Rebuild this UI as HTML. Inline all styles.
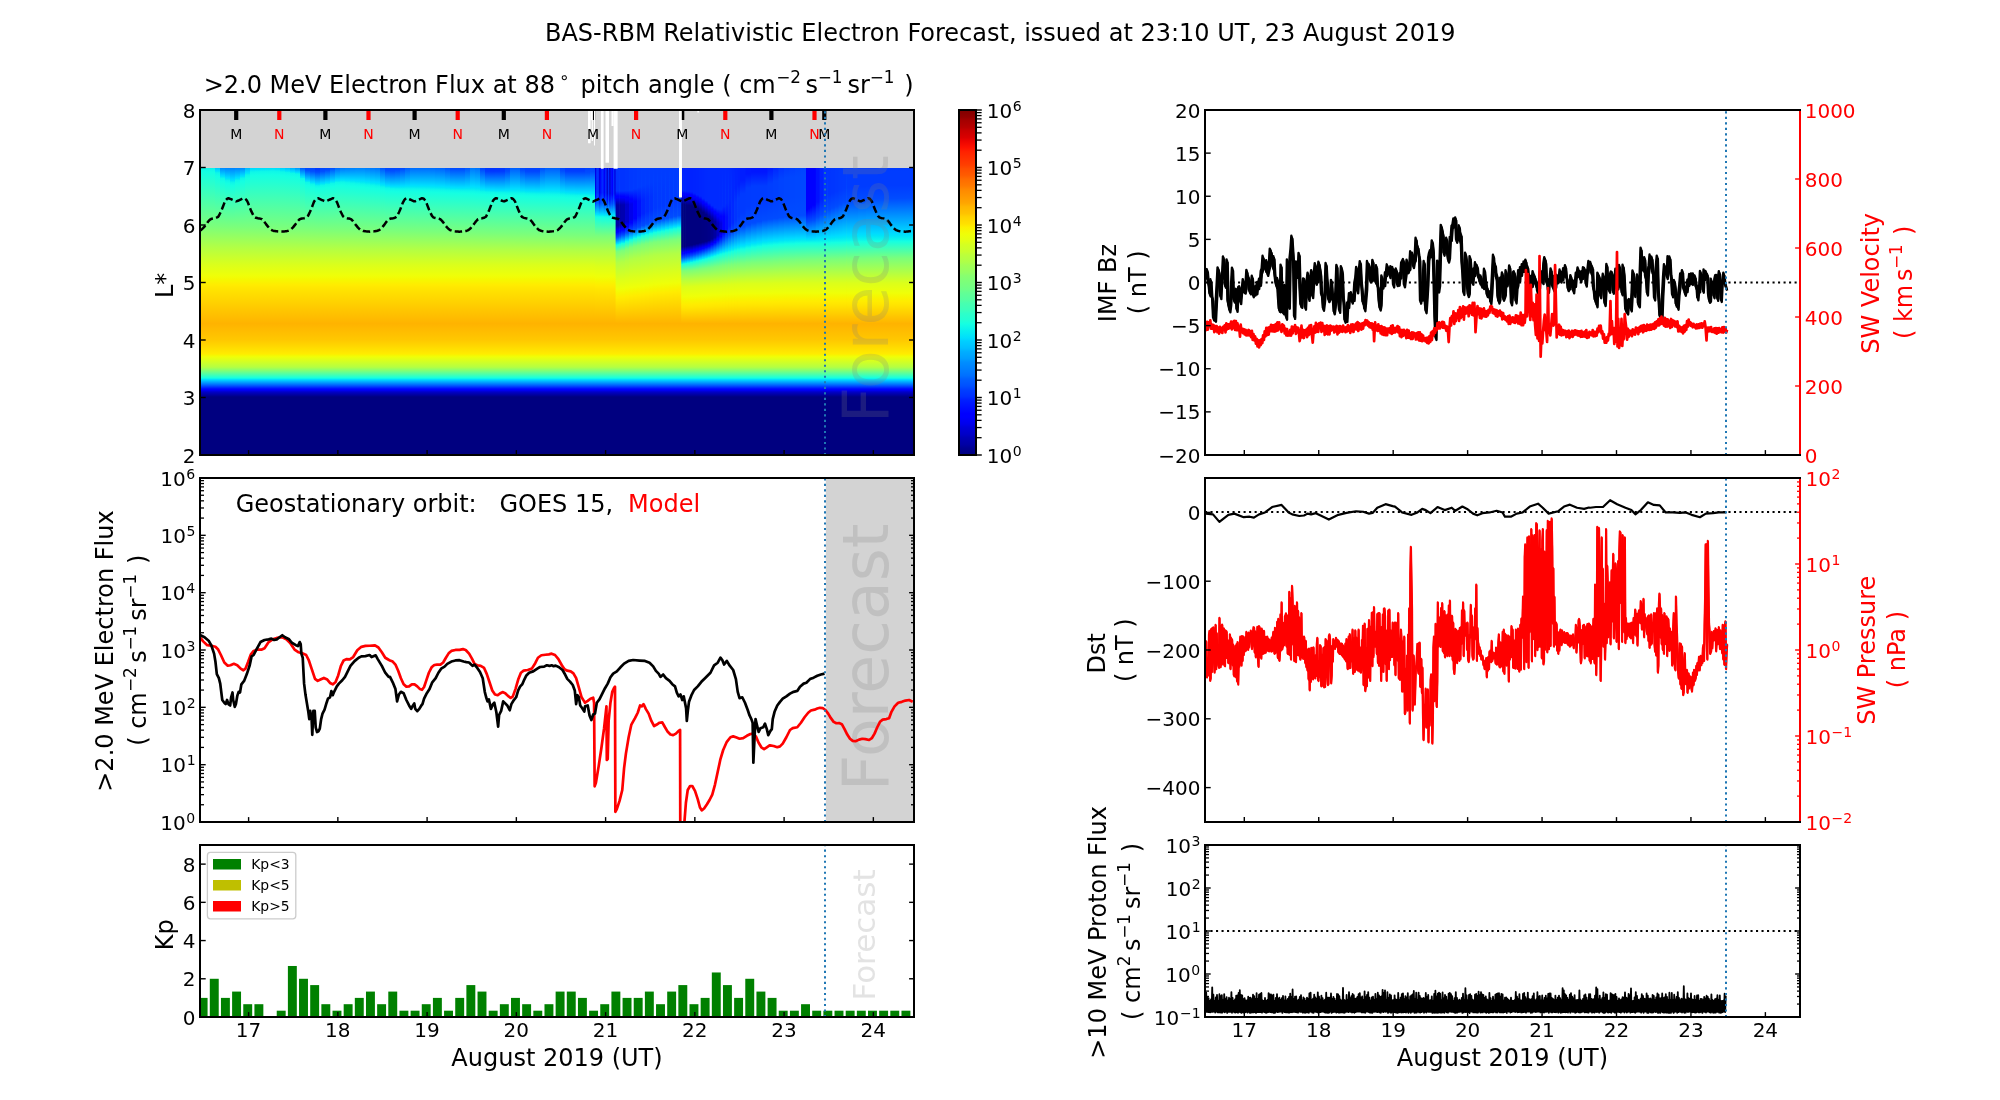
<!DOCTYPE html>
<html><head><meta charset="utf-8"><title>BAS-RBM Relativistic Electron Forecast</title>
<style>html,body{margin:0;padding:0;background:#fff}svg{display:block;will-change:transform}</style></head>
<body>
<svg width="2000" height="1100" viewBox="0 0 2000 1100" font-family="'DejaVu Sans','Liberation Sans',sans-serif" fill="#000">
<rect width="2000" height="1100" fill="#fff"/>
<text x="1000.3" y="41.2" font-size="24" text-anchor="middle">BAS-RBM Relativistic Electron Forecast, issued at 23:10 UT, 23 August 2019</text>
<rect x="200" y="110" width="714" height="345" fill="#d3d3d3"/>
<clipPath id="hc"><rect x="200" y="168" width="714" height="287"/></clipPath>
<g clip-path="url(#hc)">
<defs><linearGradient id="hb" gradientUnits="userSpaceOnUse" x1="0" y1="140" x2="0" y2="455"><stop offset="0.000" stop-color="#0059ff"/><stop offset="0.032" stop-color="#0059ff"/><stop offset="0.033" stop-color="#0033ff"/><stop offset="0.034" stop-color="#0033ff"/><stop offset="0.094" stop-color="#004cff"/><stop offset="0.146" stop-color="#00dbff"/><stop offset="0.149" stop-color="#00e5f7"/><stop offset="0.156" stop-color="#0ef7e9"/><stop offset="0.164" stop-color="#15ffe2"/><stop offset="0.209" stop-color="#3affbd"/><stop offset="0.289" stop-color="#7bff7b"/><stop offset="0.346" stop-color="#b2ff45"/><stop offset="0.397" stop-color="#dbff1b"/><stop offset="0.431" stop-color="#efff08"/><stop offset="0.446" stop-color="#f7f600"/><stop offset="0.460" stop-color="#ffec00"/><stop offset="0.470" stop-color="#ffe600"/><stop offset="0.583" stop-color="#ffb300"/><stop offset="0.635" stop-color="#ffc800"/><stop offset="0.678" stop-color="#ffeb00"/><stop offset="0.679" stop-color="#ffec00"/><stop offset="0.683" stop-color="#f7f600"/><stop offset="0.688" stop-color="#efff08"/><stop offset="0.721" stop-color="#b4ff43"/><stop offset="0.756" stop-color="#15ffe2"/><stop offset="0.759" stop-color="#00e5f7"/><stop offset="0.761" stop-color="#00dbff"/><stop offset="0.778" stop-color="#0064ff"/><stop offset="0.791" stop-color="#0000ff"/><stop offset="0.793" stop-color="#0000ff"/><stop offset="0.800" stop-color="#0000c8"/><stop offset="0.816" stop-color="#000080"/><stop offset="1.000" stop-color="#000080"/></linearGradient><linearGradient id="h0" gradientUnits="userSpaceOnUse" x1="0" y1="140" x2="0" y2="266"><stop offset=".079" stop-color="#004cff"/><stop offset=".201" stop-color="#00dbff"/><stop offset=".209" stop-color="#00e5f7"/><stop offset=".224" stop-color="#0ef7e9"/><stop offset=".252" stop-color="#15ffe2"/><stop offset=".407" stop-color="#3affbd"/><stop offset=".683" stop-color="#7bff7b"/><stop offset=".849" stop-color="#b2ff45"/><stop offset=".992" stop-color="#dbff1b"/><stop offset="1" stop-color="#ddff1a"/></linearGradient><linearGradient id="h1" gradientUnits="userSpaceOnUse" x1="0" y1="140" x2="0" y2="266"><stop offset=".079" stop-color="#004cff"/><stop offset=".203" stop-color="#00dbff"/><stop offset=".212" stop-color="#00e5f7"/><stop offset=".226" stop-color="#0ef7e9"/><stop offset=".255" stop-color="#15ffe2"/><stop offset=".410" stop-color="#3affbd"/><stop offset=".684" stop-color="#7bff7b"/><stop offset=".850" stop-color="#b2ff45"/><stop offset=".992" stop-color="#dbff1b"/><stop offset="1" stop-color="#ddff1a"/></linearGradient><linearGradient id="h2" gradientUnits="userSpaceOnUse" x1="0" y1="140" x2="0" y2="266"><stop offset=".079" stop-color="#004cff"/><stop offset=".205" stop-color="#00dbff"/><stop offset=".214" stop-color="#00e5f7"/><stop offset=".229" stop-color="#0ef7e9"/><stop offset=".258" stop-color="#15ffe2"/><stop offset=".412" stop-color="#3affbd"/><stop offset=".685" stop-color="#7bff7b"/><stop offset=".850" stop-color="#b2ff45"/><stop offset=".992" stop-color="#dbff1b"/><stop offset="1" stop-color="#ddff1a"/></linearGradient><linearGradient id="h3" gradientUnits="userSpaceOnUse" x1="0" y1="140" x2="0" y2="266"><stop offset=".123" stop-color="#004cff"/><stop offset=".239" stop-color="#00dbff"/><stop offset=".248" stop-color="#00e5f7"/><stop offset=".261" stop-color="#0ef7e9"/><stop offset=".288" stop-color="#15ffe2"/><stop offset=".431" stop-color="#3affbd"/><stop offset=".686" stop-color="#7bff7b"/><stop offset=".851" stop-color="#b2ff45"/><stop offset=".992" stop-color="#dbff1b"/><stop offset="1" stop-color="#ddff1a"/></linearGradient><linearGradient id="h4" gradientUnits="userSpaceOnUse" x1="0" y1="140" x2="0" y2="266"><stop offset=".178" stop-color="#004cff"/><stop offset=".283" stop-color="#00dbff"/><stop offset=".291" stop-color="#00e5f7"/><stop offset=".304" stop-color="#0ef7e9"/><stop offset=".328" stop-color="#15ffe2"/><stop offset=".457" stop-color="#3affbd"/><stop offset=".687" stop-color="#7bff7b"/><stop offset=".851" stop-color="#b2ff45"/><stop offset=".992" stop-color="#dbff1b"/><stop offset="1" stop-color="#ddff1a"/></linearGradient><linearGradient id="h5" gradientUnits="userSpaceOnUse" x1="0" y1="140" x2="0" y2="266"><stop offset=".173" stop-color="#004cff"/><stop offset=".299" stop-color="#00dbff"/><stop offset=".308" stop-color="#00e5f7"/><stop offset=".323" stop-color="#0ef7e9"/><stop offset=".346" stop-color="#15ffe2"/><stop offset=".469" stop-color="#3affbd"/><stop offset=".688" stop-color="#7bff7b"/><stop offset=".851" stop-color="#b2ff45"/><stop offset=".992" stop-color="#dbff1b"/><stop offset="1" stop-color="#ddff1a"/></linearGradient><linearGradient id="h6" gradientUnits="userSpaceOnUse" x1="0" y1="140" x2="0" y2="266"><stop offset=".169" stop-color="#004cff"/><stop offset=".312" stop-color="#00dbff"/><stop offset=".322" stop-color="#00e5f7"/><stop offset=".339" stop-color="#0ef7e9"/><stop offset=".361" stop-color="#15ffe2"/><stop offset=".479" stop-color="#3affbd"/><stop offset=".689" stop-color="#7bff7b"/><stop offset=".852" stop-color="#b2ff45"/><stop offset=".992" stop-color="#dbff1b"/><stop offset="1" stop-color="#ddff1a"/></linearGradient><linearGradient id="h7" gradientUnits="userSpaceOnUse" x1="0" y1="140" x2="0" y2="266"><stop offset=".173" stop-color="#004cff"/><stop offset=".298" stop-color="#00dbff"/><stop offset=".307" stop-color="#00e5f7"/><stop offset=".321" stop-color="#0ef7e9"/><stop offset=".344" stop-color="#15ffe2"/><stop offset=".469" stop-color="#3affbd"/><stop offset=".690" stop-color="#7bff7b"/><stop offset=".852" stop-color="#b2ff45"/><stop offset=".992" stop-color="#dbff1b"/><stop offset="1" stop-color="#ddff1a"/></linearGradient><linearGradient id="h8" gradientUnits="userSpaceOnUse" x1="0" y1="140" x2="0" y2="266"><stop offset=".178" stop-color="#004cff"/><stop offset=".283" stop-color="#00dbff"/><stop offset=".291" stop-color="#00e5f7"/><stop offset=".303" stop-color="#0ef7e9"/><stop offset=".328" stop-color="#15ffe2"/><stop offset=".458" stop-color="#3affbd"/><stop offset=".691" stop-color="#7bff7b"/><stop offset=".853" stop-color="#b2ff45"/><stop offset=".992" stop-color="#dbff1b"/><stop offset="1" stop-color="#ddff1a"/></linearGradient><linearGradient id="h9" gradientUnits="userSpaceOnUse" x1="0" y1="140" x2="0" y2="266"><stop offset=".129" stop-color="#004cff"/><stop offset=".254" stop-color="#00dbff"/><stop offset=".263" stop-color="#00e5f7"/><stop offset=".278" stop-color="#0ef7e9"/><stop offset=".304" stop-color="#15ffe2"/><stop offset=".444" stop-color="#3affbd"/><stop offset=".692" stop-color="#7bff7b"/><stop offset=".853" stop-color="#b2ff45"/><stop offset=".992" stop-color="#dbff1b"/><stop offset="1" stop-color="#ddff1a"/></linearGradient><linearGradient id="h10" gradientUnits="userSpaceOnUse" x1="0" y1="140" x2="0" y2="266"><stop offset=".079" stop-color="#004cff"/><stop offset=".226" stop-color="#00dbff"/><stop offset=".236" stop-color="#00e5f7"/><stop offset=".254" stop-color="#0ef7e9"/><stop offset=".281" stop-color="#15ffe2"/><stop offset=".430" stop-color="#3affbd"/><stop offset=".693" stop-color="#7bff7b"/><stop offset=".853" stop-color="#b2ff45"/><stop offset=".992" stop-color="#dbff1b"/><stop offset="1" stop-color="#ddff1a"/></linearGradient><linearGradient id="h11" gradientUnits="userSpaceOnUse" x1="0" y1="140" x2="0" y2="266"><stop offset=".079" stop-color="#004cff"/><stop offset=".224" stop-color="#00dbff"/><stop offset=".235" stop-color="#00e5f7"/><stop offset=".252" stop-color="#0ef7e9"/><stop offset=".280" stop-color="#15ffe2"/><stop offset=".429" stop-color="#3affbd"/><stop offset=".694" stop-color="#7bff7b"/><stop offset=".854" stop-color="#b2ff45"/><stop offset=".992" stop-color="#dbff1b"/><stop offset="1" stop-color="#ddff1a"/></linearGradient><linearGradient id="h12" gradientUnits="userSpaceOnUse" x1="0" y1="140" x2="0" y2="266"><stop offset=".079" stop-color="#004cff"/><stop offset=".223" stop-color="#00dbff"/><stop offset=".233" stop-color="#00e5f7"/><stop offset=".250" stop-color="#0ef7e9"/><stop offset=".278" stop-color="#15ffe2"/><stop offset=".428" stop-color="#3affbd"/><stop offset=".695" stop-color="#7bff7b"/><stop offset=".854" stop-color="#b2ff45"/><stop offset=".992" stop-color="#dbff1b"/><stop offset="1" stop-color="#ddff1a"/></linearGradient><linearGradient id="h13" gradientUnits="userSpaceOnUse" x1="0" y1="140" x2="0" y2="266"><stop offset=".079" stop-color="#004cff"/><stop offset=".222" stop-color="#00dbff"/><stop offset=".232" stop-color="#00e5f7"/><stop offset=".249" stop-color="#0ef7e9"/><stop offset=".277" stop-color="#15ffe2"/><stop offset=".428" stop-color="#3affbd"/><stop offset=".696" stop-color="#7bff7b"/><stop offset=".855" stop-color="#b2ff45"/><stop offset=".992" stop-color="#dbff1b"/><stop offset="1" stop-color="#ddff1a"/></linearGradient><linearGradient id="h14" gradientUnits="userSpaceOnUse" x1="0" y1="140" x2="0" y2="266"><stop offset=".079" stop-color="#004cff"/><stop offset=".220" stop-color="#00dbff"/><stop offset=".230" stop-color="#00e5f7"/><stop offset=".247" stop-color="#0ef7e9"/><stop offset=".275" stop-color="#15ffe2"/><stop offset=".427" stop-color="#3affbd"/><stop offset=".697" stop-color="#7bff7b"/><stop offset=".855" stop-color="#b2ff45"/><stop offset=".992" stop-color="#dbff1b"/><stop offset="1" stop-color="#ddff1a"/></linearGradient><linearGradient id="h15" gradientUnits="userSpaceOnUse" x1="0" y1="140" x2="0" y2="266"><stop offset=".091" stop-color="#004cff"/><stop offset=".223" stop-color="#00dbff"/><stop offset=".233" stop-color="#00e5f7"/><stop offset=".249" stop-color="#0ef7e9"/><stop offset=".277" stop-color="#15ffe2"/><stop offset=".428" stop-color="#3affbd"/><stop offset=".698" stop-color="#7bff7b"/><stop offset=".855" stop-color="#b2ff45"/><stop offset=".992" stop-color="#dbff1b"/><stop offset="1" stop-color="#ddff1a"/></linearGradient><linearGradient id="h16" gradientUnits="userSpaceOnUse" x1="0" y1="140" x2="0" y2="266"><stop offset=".116" stop-color="#004cff"/><stop offset=".232" stop-color="#00dbff"/><stop offset=".240" stop-color="#00e5f7"/><stop offset=".254" stop-color="#0ef7e9"/><stop offset=".282" stop-color="#15ffe2"/><stop offset=".432" stop-color="#3affbd"/><stop offset=".699" stop-color="#7bff7b"/><stop offset=".856" stop-color="#b2ff45"/><stop offset=".992" stop-color="#dbff1b"/><stop offset="1" stop-color="#ddff1a"/></linearGradient><linearGradient id="h17" gradientUnits="userSpaceOnUse" x1="0" y1="140" x2="0" y2="266"><stop offset=".140" stop-color="#004cff"/><stop offset=".240" stop-color="#00dbff"/><stop offset=".247" stop-color="#00e5f7"/><stop offset=".259" stop-color="#0ef7e9"/><stop offset=".287" stop-color="#15ffe2"/><stop offset=".435" stop-color="#3affbd"/><stop offset=".700" stop-color="#7bff7b"/><stop offset=".856" stop-color="#b2ff45"/><stop offset=".992" stop-color="#dbff1b"/><stop offset="1" stop-color="#ddff1a"/></linearGradient><linearGradient id="h18" gradientUnits="userSpaceOnUse" x1="0" y1="140" x2="0" y2="266"><stop offset=".164" stop-color="#004cff"/><stop offset=".248" stop-color="#00dbff"/><stop offset=".254" stop-color="#00e5f7"/><stop offset=".264" stop-color="#0ef7e9"/><stop offset=".291" stop-color="#15ffe2"/><stop offset=".439" stop-color="#3affbd"/><stop offset=".701" stop-color="#7bff7b"/><stop offset=".857" stop-color="#b2ff45"/><stop offset=".992" stop-color="#dbff1b"/><stop offset="1" stop-color="#ddff1a"/></linearGradient><linearGradient id="h19" gradientUnits="userSpaceOnUse" x1="0" y1="140" x2="0" y2="266"><stop offset=".188" stop-color="#004cff"/><stop offset=".256" stop-color="#00dbff"/><stop offset=".261" stop-color="#00e5f7"/><stop offset=".269" stop-color="#0ef7e9"/><stop offset=".296" stop-color="#15ffe2"/><stop offset=".442" stop-color="#3affbd"/><stop offset=".702" stop-color="#7bff7b"/><stop offset=".857" stop-color="#b2ff45"/><stop offset=".992" stop-color="#dbff1b"/><stop offset="1" stop-color="#ddff1a"/></linearGradient><linearGradient id="h20" gradientUnits="userSpaceOnUse" x1="0" y1="140" x2="0" y2="266"><stop offset=".216" stop-color="#004cff"/><stop offset=".291" stop-color="#00dbff"/><stop offset=".297" stop-color="#00e5f7"/><stop offset=".306" stop-color="#0ef7e9"/><stop offset=".330" stop-color="#15ffe2"/><stop offset=".465" stop-color="#3affbd"/><stop offset=".703" stop-color="#7bff7b"/><stop offset=".857" stop-color="#b2ff45"/><stop offset=".992" stop-color="#dbff1b"/><stop offset="1" stop-color="#ddff1a"/></linearGradient><linearGradient id="h21" gradientUnits="userSpaceOnUse" x1="0" y1="140" x2="0" y2="266"><stop offset=".000" stop-color="#0059ff"/><stop offset=".079" stop-color="#0059ff"/><stop offset=".082" stop-color="#0034ff"/><stop offset=".084" stop-color="#0034ff"/><stop offset=".239" stop-color="#004cff"/><stop offset=".322" stop-color="#00dbff"/><stop offset=".327" stop-color="#00e5f7"/><stop offset=".337" stop-color="#0ef7e9"/><stop offset=".360" stop-color="#15ffe2"/><stop offset=".484" stop-color="#3affbd"/><stop offset=".704" stop-color="#7bff7b"/><stop offset=".858" stop-color="#b2ff45"/><stop offset=".992" stop-color="#dbff1b"/><stop offset="1" stop-color="#ddff1a"/></linearGradient><linearGradient id="h22" gradientUnits="userSpaceOnUse" x1="0" y1="140" x2="0" y2="266"><stop offset=".000" stop-color="#004bff"/><stop offset=".079" stop-color="#004bff"/><stop offset=".093" stop-color="#0038ff"/><stop offset=".133" stop-color="#0038ff"/><stop offset=".247" stop-color="#004cff"/><stop offset=".334" stop-color="#00dbff"/><stop offset=".340" stop-color="#00e5f7"/><stop offset=".351" stop-color="#0ef7e9"/><stop offset=".373" stop-color="#15ffe2"/><stop offset=".492" stop-color="#3affbd"/><stop offset=".705" stop-color="#7bff7b"/><stop offset=".858" stop-color="#b2ff45"/><stop offset=".992" stop-color="#dbff1b"/><stop offset="1" stop-color="#ddff1a"/></linearGradient><linearGradient id="h23" gradientUnits="userSpaceOnUse" x1="0" y1="140" x2="0" y2="266"><stop offset=".000" stop-color="#003dff"/><stop offset=".114" stop-color="#003dff"/><stop offset=".225" stop-color="#003bff"/><stop offset=".236" stop-color="#003bff"/><stop offset=".256" stop-color="#004cff"/><stop offset=".347" stop-color="#00dbff"/><stop offset=".353" stop-color="#00e5f7"/><stop offset=".364" stop-color="#0ef7e9"/><stop offset=".385" stop-color="#15ffe2"/><stop offset=".501" stop-color="#3affbd"/><stop offset=".706" stop-color="#7bff7b"/><stop offset=".859" stop-color="#b2ff45"/><stop offset=".992" stop-color="#dbff1b"/><stop offset="1" stop-color="#ddff1a"/></linearGradient><linearGradient id="h24" gradientUnits="userSpaceOnUse" x1="0" y1="140" x2="0" y2="266"><stop offset=".000" stop-color="#0048ff"/><stop offset=".079" stop-color="#0048ff"/><stop offset=".119" stop-color="#0038ff"/><stop offset=".154" stop-color="#0038ff"/><stop offset=".248" stop-color="#004cff"/><stop offset=".341" stop-color="#00dbff"/><stop offset=".348" stop-color="#00e5f7"/><stop offset=".359" stop-color="#0ef7e9"/><stop offset=".381" stop-color="#15ffe2"/><stop offset=".498" stop-color="#3affbd"/><stop offset=".707" stop-color="#7bff7b"/><stop offset=".859" stop-color="#b2ff45"/><stop offset=".992" stop-color="#dbff1b"/><stop offset="1" stop-color="#ddff1a"/></linearGradient><linearGradient id="h25" gradientUnits="userSpaceOnUse" x1="0" y1="140" x2="0" y2="266"><stop offset=".000" stop-color="#0056ff"/><stop offset=".079" stop-color="#0056ff"/><stop offset=".082" stop-color="#0035ff"/><stop offset=".084" stop-color="#0035ff"/><stop offset=".239" stop-color="#004cff"/><stop offset=".334" stop-color="#00dbff"/><stop offset=".341" stop-color="#00e5f7"/><stop offset=".353" stop-color="#0ef7e9"/><stop offset=".375" stop-color="#15ffe2"/><stop offset=".495" stop-color="#3affbd"/><stop offset=".708" stop-color="#7bff7b"/><stop offset=".859" stop-color="#b2ff45"/><stop offset=".992" stop-color="#dbff1b"/><stop offset="1" stop-color="#ddff1a"/></linearGradient><linearGradient id="h26" gradientUnits="userSpaceOnUse" x1="0" y1="140" x2="0" y2="266"><stop offset=".000" stop-color="#006aff"/><stop offset=".079" stop-color="#006aff"/><stop offset=".082" stop-color="#0033ff"/><stop offset=".084" stop-color="#0033ff"/><stop offset=".223" stop-color="#004cff"/><stop offset=".326" stop-color="#00dbff"/><stop offset=".333" stop-color="#00e5f7"/><stop offset=".345" stop-color="#0ef7e9"/><stop offset=".368" stop-color="#15ffe2"/><stop offset=".491" stop-color="#3affbd"/><stop offset=".709" stop-color="#7bff7b"/><stop offset=".860" stop-color="#b2ff45"/><stop offset=".992" stop-color="#dbff1b"/><stop offset="1" stop-color="#ddff1a"/></linearGradient><linearGradient id="h27" gradientUnits="userSpaceOnUse" x1="0" y1="140" x2="0" y2="266"><stop offset=".200" stop-color="#004cff"/><stop offset=".315" stop-color="#00dbff"/><stop offset=".324" stop-color="#00e5f7"/><stop offset=".337" stop-color="#0ef7e9"/><stop offset=".361" stop-color="#15ffe2"/><stop offset=".486" stop-color="#3affbd"/><stop offset=".710" stop-color="#7bff7b"/><stop offset=".860" stop-color="#b2ff45"/><stop offset=".992" stop-color="#dbff1b"/><stop offset="1" stop-color="#ddff1a"/></linearGradient><linearGradient id="h28" gradientUnits="userSpaceOnUse" x1="0" y1="140" x2="0" y2="266"><stop offset=".185" stop-color="#004cff"/><stop offset=".311" stop-color="#00dbff"/><stop offset=".320" stop-color="#00e5f7"/><stop offset=".335" stop-color="#0ef7e9"/><stop offset=".359" stop-color="#15ffe2"/><stop offset=".486" stop-color="#3affbd"/><stop offset=".711" stop-color="#7bff7b"/><stop offset=".861" stop-color="#b2ff45"/><stop offset=".992" stop-color="#dbff1b"/><stop offset="1" stop-color="#ddff1a"/></linearGradient><linearGradient id="h29" gradientUnits="userSpaceOnUse" x1="0" y1="140" x2="0" y2="266"><stop offset=".178" stop-color="#004cff"/><stop offset=".313" stop-color="#00dbff"/><stop offset=".323" stop-color="#00e5f7"/><stop offset=".339" stop-color="#0ef7e9"/><stop offset=".363" stop-color="#15ffe2"/><stop offset=".488" stop-color="#3affbd"/><stop offset=".712" stop-color="#7bff7b"/><stop offset=".861" stop-color="#b2ff45"/><stop offset=".992" stop-color="#dbff1b"/><stop offset="1" stop-color="#ddff1a"/></linearGradient><linearGradient id="h30" gradientUnits="userSpaceOnUse" x1="0" y1="140" x2="0" y2="266"><stop offset=".171" stop-color="#004cff"/><stop offset=".316" stop-color="#00dbff"/><stop offset=".326" stop-color="#00e5f7"/><stop offset=".343" stop-color="#0ef7e9"/><stop offset=".366" stop-color="#15ffe2"/><stop offset=".491" stop-color="#3affbd"/><stop offset=".713" stop-color="#7bff7b"/><stop offset=".861" stop-color="#b2ff45"/><stop offset=".992" stop-color="#dbff1b"/><stop offset="1" stop-color="#ddff1a"/></linearGradient><linearGradient id="h31" gradientUnits="userSpaceOnUse" x1="0" y1="140" x2="0" y2="266"><stop offset=".165" stop-color="#004cff"/><stop offset=".318" stop-color="#00dbff"/><stop offset=".329" stop-color="#00e5f7"/><stop offset=".347" stop-color="#0ef7e9"/><stop offset=".370" stop-color="#15ffe2"/><stop offset=".494" stop-color="#3affbd"/><stop offset=".714" stop-color="#7bff7b"/><stop offset=".862" stop-color="#b2ff45"/><stop offset=".992" stop-color="#dbff1b"/><stop offset="1" stop-color="#ddff1a"/></linearGradient><linearGradient id="h32" gradientUnits="userSpaceOnUse" x1="0" y1="140" x2="0" y2="266"><stop offset=".164" stop-color="#004cff"/><stop offset=".321" stop-color="#00dbff"/><stop offset=".333" stop-color="#00e5f7"/><stop offset=".351" stop-color="#0ef7e9"/><stop offset=".374" stop-color="#15ffe2"/><stop offset=".497" stop-color="#3affbd"/><stop offset=".715" stop-color="#7bff7b"/><stop offset=".862" stop-color="#b2ff45"/><stop offset=".992" stop-color="#dbff1b"/><stop offset="1" stop-color="#ddff1a"/></linearGradient><linearGradient id="h33" gradientUnits="userSpaceOnUse" x1="0" y1="140" x2="0" y2="266"><stop offset=".170" stop-color="#004cff"/><stop offset=".326" stop-color="#00dbff"/><stop offset=".337" stop-color="#00e5f7"/><stop offset=".356" stop-color="#0ef7e9"/><stop offset=".378" stop-color="#15ffe2"/><stop offset=".500" stop-color="#3affbd"/><stop offset=".716" stop-color="#7bff7b"/><stop offset=".863" stop-color="#b2ff45"/><stop offset=".992" stop-color="#dbff1b"/><stop offset="1" stop-color="#ddff1a"/></linearGradient><linearGradient id="h34" gradientUnits="userSpaceOnUse" x1="0" y1="140" x2="0" y2="266"><stop offset=".176" stop-color="#004cff"/><stop offset=".331" stop-color="#00dbff"/><stop offset=".342" stop-color="#00e5f7"/><stop offset=".360" stop-color="#0ef7e9"/><stop offset=".383" stop-color="#15ffe2"/><stop offset=".503" stop-color="#3affbd"/><stop offset=".717" stop-color="#7bff7b"/><stop offset=".863" stop-color="#b2ff45"/><stop offset=".992" stop-color="#dbff1b"/><stop offset="1" stop-color="#ddff1a"/></linearGradient><linearGradient id="h35" gradientUnits="userSpaceOnUse" x1="0" y1="140" x2="0" y2="266"><stop offset=".181" stop-color="#004cff"/><stop offset=".335" stop-color="#00dbff"/><stop offset=".346" stop-color="#00e5f7"/><stop offset=".365" stop-color="#0ef7e9"/><stop offset=".387" stop-color="#15ffe2"/><stop offset=".506" stop-color="#3affbd"/><stop offset=".718" stop-color="#7bff7b"/><stop offset=".863" stop-color="#b2ff45"/><stop offset=".992" stop-color="#dbff1b"/><stop offset="1" stop-color="#ddff1a"/></linearGradient><linearGradient id="h36" gradientUnits="userSpaceOnUse" x1="0" y1="140" x2="0" y2="266"><stop offset=".214" stop-color="#004cff"/><stop offset=".348" stop-color="#00dbff"/><stop offset=".358" stop-color="#00e5f7"/><stop offset=".374" stop-color="#0ef7e9"/><stop offset=".396" stop-color="#15ffe2"/><stop offset=".512" stop-color="#3affbd"/><stop offset=".719" stop-color="#7bff7b"/><stop offset=".864" stop-color="#b2ff45"/><stop offset=".992" stop-color="#dbff1b"/><stop offset="1" stop-color="#ddff1a"/></linearGradient><linearGradient id="h37" gradientUnits="userSpaceOnUse" x1="0" y1="140" x2="0" y2="266"><stop offset=".000" stop-color="#0053ff"/><stop offset=".079" stop-color="#0053ff"/><stop offset=".082" stop-color="#0033ff"/><stop offset=".084" stop-color="#0033ff"/><stop offset=".240" stop-color="#004cff"/><stop offset=".360" stop-color="#00dbff"/><stop offset=".368" stop-color="#00e5f7"/><stop offset=".382" stop-color="#0ef7e9"/><stop offset=".404" stop-color="#15ffe2"/><stop offset=".518" stop-color="#3affbd"/><stop offset=".720" stop-color="#7bff7b"/><stop offset=".864" stop-color="#b2ff45"/><stop offset=".992" stop-color="#dbff1b"/><stop offset="1" stop-color="#ddff1a"/></linearGradient><linearGradient id="h38" gradientUnits="userSpaceOnUse" x1="0" y1="140" x2="0" y2="266"><stop offset=".000" stop-color="#004eff"/><stop offset=".079" stop-color="#004eff"/><stop offset=".082" stop-color="#0033ff"/><stop offset=".084" stop-color="#0033ff"/><stop offset=".245" stop-color="#004cff"/><stop offset=".365" stop-color="#00dbff"/><stop offset=".373" stop-color="#00e5f7"/><stop offset=".387" stop-color="#0ef7e9"/><stop offset=".408" stop-color="#15ffe2"/><stop offset=".521" stop-color="#3affbd"/><stop offset=".721" stop-color="#7bff7b"/><stop offset=".865" stop-color="#b2ff45"/><stop offset=".992" stop-color="#dbff1b"/><stop offset="1" stop-color="#ddff1a"/></linearGradient><linearGradient id="h39" gradientUnits="userSpaceOnUse" x1="0" y1="140" x2="0" y2="266"><stop offset=".000" stop-color="#0054ff"/><stop offset=".079" stop-color="#0054ff"/><stop offset=".082" stop-color="#0033ff"/><stop offset=".084" stop-color="#0033ff"/><stop offset=".239" stop-color="#004cff"/><stop offset=".365" stop-color="#00dbff"/><stop offset=".374" stop-color="#00e5f7"/><stop offset=".389" stop-color="#0ef7e9"/><stop offset=".410" stop-color="#15ffe2"/><stop offset=".522" stop-color="#3affbd"/><stop offset=".722" stop-color="#7bff7b"/><stop offset=".865" stop-color="#b2ff45"/><stop offset=".992" stop-color="#dbff1b"/><stop offset="1" stop-color="#ddff1a"/></linearGradient><linearGradient id="h40" gradientUnits="userSpaceOnUse" x1="0" y1="140" x2="0" y2="266"><stop offset=".000" stop-color="#005fff"/><stop offset=".079" stop-color="#005fff"/><stop offset=".082" stop-color="#0033ff"/><stop offset=".084" stop-color="#0033ff"/><stop offset=".228" stop-color="#004cff"/><stop offset=".363" stop-color="#00dbff"/><stop offset=".373" stop-color="#00e5f7"/><stop offset=".389" stop-color="#0ef7e9"/><stop offset=".410" stop-color="#15ffe2"/><stop offset=".523" stop-color="#3affbd"/><stop offset=".723" stop-color="#7bff7b"/><stop offset=".865" stop-color="#b2ff45"/><stop offset=".992" stop-color="#dbff1b"/><stop offset="1" stop-color="#ddff1a"/></linearGradient><linearGradient id="h41" gradientUnits="userSpaceOnUse" x1="0" y1="140" x2="0" y2="266"><stop offset=".205" stop-color="#004cff"/><stop offset=".360" stop-color="#00dbff"/><stop offset=".371" stop-color="#00e5f7"/><stop offset=".389" stop-color="#0ef7e9"/><stop offset=".410" stop-color="#15ffe2"/><stop offset=".523" stop-color="#3affbd"/><stop offset=".724" stop-color="#7bff7b"/><stop offset=".866" stop-color="#b2ff45"/><stop offset=".992" stop-color="#dbff1b"/><stop offset="1" stop-color="#ddff1a"/></linearGradient><linearGradient id="h42" gradientUnits="userSpaceOnUse" x1="0" y1="140" x2="0" y2="266"><stop offset=".185" stop-color="#004cff"/><stop offset=".356" stop-color="#00dbff"/><stop offset=".369" stop-color="#00e5f7"/><stop offset=".389" stop-color="#0ef7e9"/><stop offset=".410" stop-color="#15ffe2"/><stop offset=".523" stop-color="#3affbd"/><stop offset=".725" stop-color="#7bff7b"/><stop offset=".866" stop-color="#b2ff45"/><stop offset=".992" stop-color="#dbff1b"/><stop offset="1" stop-color="#ddff1a"/></linearGradient><linearGradient id="h43" gradientUnits="userSpaceOnUse" x1="0" y1="140" x2="0" y2="266"><stop offset=".184" stop-color="#004cff"/><stop offset=".357" stop-color="#00dbff"/><stop offset=".370" stop-color="#00e5f7"/><stop offset=".390" stop-color="#0ef7e9"/><stop offset=".411" stop-color="#15ffe2"/><stop offset=".525" stop-color="#3affbd"/><stop offset=".726" stop-color="#7bff7b"/><stop offset=".867" stop-color="#b2ff45"/><stop offset=".992" stop-color="#dbff1b"/><stop offset="1" stop-color="#ddff1a"/></linearGradient><linearGradient id="h44" gradientUnits="userSpaceOnUse" x1="0" y1="140" x2="0" y2="266"><stop offset=".184" stop-color="#004cff"/><stop offset=".358" stop-color="#00dbff"/><stop offset=".370" stop-color="#00e5f7"/><stop offset=".391" stop-color="#0ef7e9"/><stop offset=".412" stop-color="#15ffe2"/><stop offset=".526" stop-color="#3affbd"/><stop offset=".727" stop-color="#7bff7b"/><stop offset=".867" stop-color="#b2ff45"/><stop offset=".992" stop-color="#dbff1b"/><stop offset="1" stop-color="#ddff1a"/></linearGradient><linearGradient id="h45" gradientUnits="userSpaceOnUse" x1="0" y1="140" x2="0" y2="266"><stop offset=".183" stop-color="#004cff"/><stop offset=".359" stop-color="#00dbff"/><stop offset=".371" stop-color="#00e5f7"/><stop offset=".392" stop-color="#0ef7e9"/><stop offset=".413" stop-color="#15ffe2"/><stop offset=".527" stop-color="#3affbd"/><stop offset=".728" stop-color="#7bff7b"/><stop offset=".867" stop-color="#b2ff45"/><stop offset=".992" stop-color="#dbff1b"/><stop offset="1" stop-color="#ddff1a"/></linearGradient><linearGradient id="h46" gradientUnits="userSpaceOnUse" x1="0" y1="140" x2="0" y2="266"><stop offset=".186" stop-color="#004cff"/><stop offset=".360" stop-color="#00dbff"/><stop offset=".373" stop-color="#00e5f7"/><stop offset=".394" stop-color="#0ef7e9"/><stop offset=".415" stop-color="#15ffe2"/><stop offset=".528" stop-color="#3affbd"/><stop offset=".729" stop-color="#7bff7b"/><stop offset=".868" stop-color="#b2ff45"/><stop offset=".992" stop-color="#dbff1b"/><stop offset="1" stop-color="#ddff1a"/></linearGradient><linearGradient id="h47" gradientUnits="userSpaceOnUse" x1="0" y1="140" x2="0" y2="266"><stop offset=".191" stop-color="#004cff"/><stop offset=".363" stop-color="#00dbff"/><stop offset=".375" stop-color="#00e5f7"/><stop offset=".395" stop-color="#0ef7e9"/><stop offset=".416" stop-color="#15ffe2"/><stop offset=".529" stop-color="#3affbd"/><stop offset=".730" stop-color="#7bff7b"/><stop offset=".868" stop-color="#b2ff45"/><stop offset=".992" stop-color="#dbff1b"/><stop offset="1" stop-color="#ddff1a"/></linearGradient><linearGradient id="h48" gradientUnits="userSpaceOnUse" x1="0" y1="140" x2="0" y2="266"><stop offset=".197" stop-color="#004cff"/><stop offset=".365" stop-color="#00dbff"/><stop offset=".377" stop-color="#00e5f7"/><stop offset=".397" stop-color="#0ef7e9"/><stop offset=".418" stop-color="#15ffe2"/><stop offset=".531" stop-color="#3affbd"/><stop offset=".731" stop-color="#7bff7b"/><stop offset=".869" stop-color="#b2ff45"/><stop offset=".992" stop-color="#dbff1b"/><stop offset="1" stop-color="#ddff1a"/></linearGradient><linearGradient id="h49" gradientUnits="userSpaceOnUse" x1="0" y1="140" x2="0" y2="266"><stop offset=".214" stop-color="#004cff"/><stop offset=".369" stop-color="#00dbff"/><stop offset=".381" stop-color="#00e5f7"/><stop offset=".399" stop-color="#0ef7e9"/><stop offset=".420" stop-color="#15ffe2"/><stop offset=".532" stop-color="#3affbd"/><stop offset=".732" stop-color="#7bff7b"/><stop offset=".869" stop-color="#b2ff45"/><stop offset=".992" stop-color="#dbff1b"/><stop offset="1" stop-color="#ddff1a"/></linearGradient><linearGradient id="h50" gradientUnits="userSpaceOnUse" x1="0" y1="140" x2="0" y2="266"><stop offset=".000" stop-color="#005eff"/><stop offset=".079" stop-color="#005eff"/><stop offset=".082" stop-color="#0033ff"/><stop offset=".084" stop-color="#0033ff"/><stop offset=".229" stop-color="#004cff"/><stop offset=".373" stop-color="#00dbff"/><stop offset=".384" stop-color="#00e5f7"/><stop offset=".401" stop-color="#0ef7e9"/><stop offset=".422" stop-color="#15ffe2"/><stop offset=".534" stop-color="#3affbd"/><stop offset=".733" stop-color="#7bff7b"/><stop offset=".869" stop-color="#b2ff45"/><stop offset=".992" stop-color="#dbff1b"/><stop offset="1" stop-color="#ddff1a"/></linearGradient><linearGradient id="h51" gradientUnits="userSpaceOnUse" x1="0" y1="140" x2="0" y2="266"><stop offset=".000" stop-color="#005eff"/><stop offset=".079" stop-color="#005eff"/><stop offset=".082" stop-color="#0033ff"/><stop offset=".084" stop-color="#0033ff"/><stop offset=".229" stop-color="#004cff"/><stop offset=".375" stop-color="#00dbff"/><stop offset=".385" stop-color="#00e5f7"/><stop offset=".402" stop-color="#0ef7e9"/><stop offset=".423" stop-color="#15ffe2"/><stop offset=".535" stop-color="#3affbd"/><stop offset=".734" stop-color="#7bff7b"/><stop offset=".870" stop-color="#b2ff45"/><stop offset=".992" stop-color="#dbff1b"/><stop offset="1" stop-color="#ddff1a"/></linearGradient><linearGradient id="h52" gradientUnits="userSpaceOnUse" x1="0" y1="140" x2="0" y2="266"><stop offset=".000" stop-color="#005eff"/><stop offset=".079" stop-color="#005eff"/><stop offset=".082" stop-color="#0033ff"/><stop offset=".084" stop-color="#0033ff"/><stop offset=".229" stop-color="#004cff"/><stop offset=".376" stop-color="#00dbff"/><stop offset=".386" stop-color="#00e5f7"/><stop offset=".404" stop-color="#0ef7e9"/><stop offset=".424" stop-color="#15ffe2"/><stop offset=".536" stop-color="#3affbd"/><stop offset=".735" stop-color="#7bff7b"/><stop offset=".870" stop-color="#b2ff45"/><stop offset=".992" stop-color="#dbff1b"/><stop offset="1" stop-color="#ddff1a"/></linearGradient><linearGradient id="h53" gradientUnits="userSpaceOnUse" x1="0" y1="140" x2="0" y2="266"><stop offset=".211" stop-color="#004cff"/><stop offset=".374" stop-color="#00dbff"/><stop offset=".385" stop-color="#00e5f7"/><stop offset=".405" stop-color="#0ef7e9"/><stop offset=".425" stop-color="#15ffe2"/><stop offset=".537" stop-color="#3affbd"/><stop offset=".736" stop-color="#7bff7b"/><stop offset=".871" stop-color="#b2ff45"/><stop offset=".992" stop-color="#dbff1b"/><stop offset="1" stop-color="#ddff1a"/></linearGradient><linearGradient id="h54" gradientUnits="userSpaceOnUse" x1="0" y1="140" x2="0" y2="266"><stop offset=".162" stop-color="#004cff"/><stop offset=".366" stop-color="#00dbff"/><stop offset=".381" stop-color="#00e5f7"/><stop offset=".405" stop-color="#0ef7e9"/><stop offset=".426" stop-color="#15ffe2"/><stop offset=".538" stop-color="#3affbd"/><stop offset=".737" stop-color="#7bff7b"/><stop offset=".871" stop-color="#b2ff45"/><stop offset=".992" stop-color="#dbff1b"/><stop offset="1" stop-color="#ddff1a"/></linearGradient><linearGradient id="h55" gradientUnits="userSpaceOnUse" x1="0" y1="140" x2="0" y2="266"><stop offset=".173" stop-color="#004cff"/><stop offset=".370" stop-color="#00dbff"/><stop offset=".384" stop-color="#00e5f7"/><stop offset=".408" stop-color="#0ef7e9"/><stop offset=".429" stop-color="#15ffe2"/><stop offset=".540" stop-color="#3affbd"/><stop offset=".738" stop-color="#7bff7b"/><stop offset=".872" stop-color="#b2ff45"/><stop offset=".992" stop-color="#dbff1b"/><stop offset="1" stop-color="#ddff1a"/></linearGradient><linearGradient id="h56" gradientUnits="userSpaceOnUse" x1="0" y1="140" x2="0" y2="266"><stop offset=".000" stop-color="#0050ff"/><stop offset=".079" stop-color="#0050ff"/><stop offset=".143" stop-color="#0039ff"/><stop offset=".172" stop-color="#0039ff"/><stop offset=".236" stop-color="#004cff"/><stop offset=".383" stop-color="#00dbff"/><stop offset=".394" stop-color="#00e5f7"/><stop offset=".412" stop-color="#0ef7e9"/><stop offset=".432" stop-color="#15ffe2"/><stop offset=".543" stop-color="#3affbd"/><stop offset=".739" stop-color="#7bff7b"/><stop offset=".872" stop-color="#b2ff45"/><stop offset=".992" stop-color="#dbff1b"/><stop offset="1" stop-color="#ddff1a"/></linearGradient><linearGradient id="h57" gradientUnits="userSpaceOnUse" x1="0" y1="140" x2="0" y2="266"><stop offset=".000" stop-color="#0039ff"/><stop offset=".246" stop-color="#0039ff"/><stop offset=".264" stop-color="#004cff"/><stop offset=".390" stop-color="#00dbff"/><stop offset=".399" stop-color="#00e5f7"/><stop offset=".414" stop-color="#0ef7e9"/><stop offset=".434" stop-color="#15ffe2"/><stop offset=".545" stop-color="#3affbd"/><stop offset=".740" stop-color="#7bff7b"/><stop offset=".872" stop-color="#b2ff45"/><stop offset=".992" stop-color="#dbff1b"/><stop offset="1" stop-color="#ddff1a"/></linearGradient><linearGradient id="h58" gradientUnits="userSpaceOnUse" x1="0" y1="140" x2="0" y2="266"><stop offset=".000" stop-color="#0034ff"/><stop offset=".246" stop-color="#0034ff"/><stop offset=".267" stop-color="#004cff"/><stop offset=".392" stop-color="#00dbff"/><stop offset=".401" stop-color="#00e5f7"/><stop offset=".416" stop-color="#0ef7e9"/><stop offset=".436" stop-color="#15ffe2"/><stop offset=".546" stop-color="#3affbd"/><stop offset=".741" stop-color="#7bff7b"/><stop offset=".873" stop-color="#b2ff45"/><stop offset=".992" stop-color="#dbff1b"/><stop offset="1" stop-color="#ddff1a"/></linearGradient><linearGradient id="h59" gradientUnits="userSpaceOnUse" x1="0" y1="140" x2="0" y2="266"><stop offset=".000" stop-color="#0035ff"/><stop offset=".246" stop-color="#0035ff"/><stop offset=".266" stop-color="#004cff"/><stop offset=".394" stop-color="#00dbff"/><stop offset=".403" stop-color="#00e5f7"/><stop offset=".418" stop-color="#0ef7e9"/><stop offset=".438" stop-color="#15ffe2"/><stop offset=".548" stop-color="#3affbd"/><stop offset=".742" stop-color="#7bff7b"/><stop offset=".873" stop-color="#b2ff45"/><stop offset=".992" stop-color="#dbff1b"/><stop offset="1" stop-color="#ddff1a"/></linearGradient><linearGradient id="h60" gradientUnits="userSpaceOnUse" x1="0" y1="140" x2="0" y2="266"><stop offset=".000" stop-color="#0039ff"/><stop offset=".246" stop-color="#0039ff"/><stop offset=".264" stop-color="#004cff"/><stop offset=".395" stop-color="#00dbff"/><stop offset=".404" stop-color="#00e5f7"/><stop offset=".419" stop-color="#0ef7e9"/><stop offset=".440" stop-color="#15ffe2"/><stop offset=".549" stop-color="#3affbd"/><stop offset=".743" stop-color="#7bff7b"/><stop offset=".874" stop-color="#b2ff45"/><stop offset=".992" stop-color="#dbff1b"/><stop offset="1" stop-color="#ddff1a"/></linearGradient><linearGradient id="h61" gradientUnits="userSpaceOnUse" x1="0" y1="140" x2="0" y2="266"><stop offset=".000" stop-color="#0048ff"/><stop offset=".079" stop-color="#0048ff"/><stop offset=".159" stop-color="#0039ff"/><stop offset=".185" stop-color="#0039ff"/><stop offset=".247" stop-color="#004cff"/><stop offset=".393" stop-color="#00dbff"/><stop offset=".403" stop-color="#00e5f7"/><stop offset=".421" stop-color="#0ef7e9"/><stop offset=".441" stop-color="#15ffe2"/><stop offset=".550" stop-color="#3affbd"/><stop offset=".744" stop-color="#7bff7b"/><stop offset=".874" stop-color="#b2ff45"/><stop offset=".992" stop-color="#dbff1b"/><stop offset="1" stop-color="#ddff1a"/></linearGradient><linearGradient id="h62" gradientUnits="userSpaceOnUse" x1="0" y1="140" x2="0" y2="266"><stop offset=".202" stop-color="#004cff"/><stop offset=".386" stop-color="#00dbff"/><stop offset=".399" stop-color="#00e5f7"/><stop offset=".421" stop-color="#0ef7e9"/><stop offset=".441" stop-color="#15ffe2"/><stop offset=".551" stop-color="#3affbd"/><stop offset=".745" stop-color="#7bff7b"/><stop offset=".874" stop-color="#b2ff45"/><stop offset=".992" stop-color="#dbff1b"/><stop offset="1" stop-color="#ddff1a"/></linearGradient><linearGradient id="h63" gradientUnits="userSpaceOnUse" x1="0" y1="140" x2="0" y2="266"><stop offset=".202" stop-color="#004cff"/><stop offset=".386" stop-color="#00dbff"/><stop offset=".399" stop-color="#00e5f7"/><stop offset=".421" stop-color="#0ef7e9"/><stop offset=".441" stop-color="#15ffe2"/><stop offset=".551" stop-color="#3affbd"/><stop offset=".746" stop-color="#7bff7b"/><stop offset=".875" stop-color="#b2ff45"/><stop offset=".992" stop-color="#dbff1b"/><stop offset="1" stop-color="#ddff1a"/></linearGradient><linearGradient id="h64" gradientUnits="userSpaceOnUse" x1="0" y1="140" x2="0" y2="266"><stop offset=".000" stop-color="#0051ff"/><stop offset=".079" stop-color="#0051ff"/><stop offset=".143" stop-color="#003fff"/><stop offset=".172" stop-color="#003fff"/><stop offset=".239" stop-color="#004cff"/><stop offset=".394" stop-color="#00dbff"/><stop offset=".405" stop-color="#00e5f7"/><stop offset=".423" stop-color="#0ef7e9"/><stop offset=".444" stop-color="#15ffe2"/><stop offset=".553" stop-color="#3affbd"/><stop offset=".747" stop-color="#7bff7b"/><stop offset=".875" stop-color="#b2ff45"/><stop offset=".992" stop-color="#dbff1b"/><stop offset="1" stop-color="#ddff1a"/></linearGradient><linearGradient id="h65" gradientUnits="userSpaceOnUse" x1="0" y1="140" x2="0" y2="266"><stop offset=".000" stop-color="#0044ff"/><stop offset=".246" stop-color="#0044ff"/><stop offset=".255" stop-color="#004cff"/><stop offset=".398" stop-color="#00dbff"/><stop offset=".408" stop-color="#00e5f7"/><stop offset=".426" stop-color="#0ef7e9"/><stop offset=".446" stop-color="#15ffe2"/><stop offset=".555" stop-color="#3affbd"/><stop offset=".748" stop-color="#7bff7b"/><stop offset=".876" stop-color="#b2ff45"/><stop offset=".992" stop-color="#dbff1b"/><stop offset="1" stop-color="#ddff1a"/></linearGradient><linearGradient id="h66" gradientUnits="userSpaceOnUse" x1="0" y1="140" x2="0" y2="266"><stop offset=".000" stop-color="#0044ff"/><stop offset=".246" stop-color="#0044ff"/><stop offset=".255" stop-color="#004cff"/><stop offset=".399" stop-color="#00dbff"/><stop offset=".410" stop-color="#00e5f7"/><stop offset=".427" stop-color="#0ef7e9"/><stop offset=".447" stop-color="#15ffe2"/><stop offset=".556" stop-color="#3affbd"/><stop offset=".749" stop-color="#7bff7b"/><stop offset=".876" stop-color="#b2ff45"/><stop offset=".992" stop-color="#dbff1b"/><stop offset="1" stop-color="#ddff1a"/></linearGradient><linearGradient id="h67" gradientUnits="userSpaceOnUse" x1="0" y1="140" x2="0" y2="266"><stop offset=".000" stop-color="#0044ff"/><stop offset=".246" stop-color="#0044ff"/><stop offset=".255" stop-color="#004cff"/><stop offset=".401" stop-color="#00dbff"/><stop offset=".411" stop-color="#00e5f7"/><stop offset=".428" stop-color="#0ef7e9"/><stop offset=".449" stop-color="#15ffe2"/><stop offset=".557" stop-color="#3affbd"/><stop offset=".750" stop-color="#7bff7b"/><stop offset=".876" stop-color="#b2ff45"/><stop offset=".992" stop-color="#dbff1b"/><stop offset="1" stop-color="#ddff1a"/></linearGradient><linearGradient id="h68" gradientUnits="userSpaceOnUse" x1="0" y1="140" x2="0" y2="266"><stop offset=".000" stop-color="#005fff"/><stop offset=".079" stop-color="#005fff"/><stop offset=".082" stop-color="#0039ff"/><stop offset=".088" stop-color="#0039ff"/><stop offset=".220" stop-color="#004cff"/><stop offset=".395" stop-color="#00dbff"/><stop offset=".408" stop-color="#00e5f7"/><stop offset=".429" stop-color="#0ef7e9"/><stop offset=".449" stop-color="#15ffe2"/><stop offset=".558" stop-color="#3affbd"/><stop offset=".751" stop-color="#7bff7b"/><stop offset=".877" stop-color="#b2ff45"/><stop offset=".992" stop-color="#dbff1b"/><stop offset="1" stop-color="#ddff1a"/></linearGradient><linearGradient id="h69" gradientUnits="userSpaceOnUse" x1="0" y1="140" x2="0" y2="266"><stop offset=".200" stop-color="#004cff"/><stop offset=".393" stop-color="#00dbff"/><stop offset=".406" stop-color="#00e5f7"/><stop offset=".429" stop-color="#0ef7e9"/><stop offset=".449" stop-color="#15ffe2"/><stop offset=".559" stop-color="#3affbd"/><stop offset=".752" stop-color="#7bff7b"/><stop offset=".877" stop-color="#b2ff45"/><stop offset=".992" stop-color="#dbff1b"/><stop offset="1" stop-color="#ddff1a"/></linearGradient><linearGradient id="h70" gradientUnits="userSpaceOnUse" x1="0" y1="140" x2="0" y2="266"><stop offset=".200" stop-color="#004cff"/><stop offset=".394" stop-color="#00dbff"/><stop offset=".408" stop-color="#00e5f7"/><stop offset=".431" stop-color="#0ef7e9"/><stop offset=".451" stop-color="#15ffe2"/><stop offset=".560" stop-color="#3affbd"/><stop offset=".753" stop-color="#7bff7b"/><stop offset=".878" stop-color="#b2ff45"/><stop offset=".992" stop-color="#dbff1b"/><stop offset="1" stop-color="#ddff1a"/></linearGradient><linearGradient id="h71" gradientUnits="userSpaceOnUse" x1="0" y1="140" x2="0" y2="266"><stop offset=".200" stop-color="#004cff"/><stop offset=".395" stop-color="#00dbff"/><stop offset=".409" stop-color="#00e5f7"/><stop offset=".432" stop-color="#0ef7e9"/><stop offset=".452" stop-color="#15ffe2"/><stop offset=".561" stop-color="#3affbd"/><stop offset=".754" stop-color="#7bff7b"/><stop offset=".878" stop-color="#b2ff45"/><stop offset=".992" stop-color="#dbff1b"/><stop offset="1" stop-color="#ddff1a"/></linearGradient><linearGradient id="h72" gradientUnits="userSpaceOnUse" x1="0" y1="140" x2="0" y2="266"><stop offset=".000" stop-color="#004bff"/><stop offset=".079" stop-color="#004bff"/><stop offset=".143" stop-color="#0039ff"/><stop offset=".172" stop-color="#0039ff"/><stop offset=".244" stop-color="#004cff"/><stop offset=".405" stop-color="#00dbff"/><stop offset=".416" stop-color="#00e5f7"/><stop offset=".435" stop-color="#0ef7e9"/><stop offset=".455" stop-color="#15ffe2"/><stop offset=".563" stop-color="#3affbd"/><stop offset=".755" stop-color="#7bff7b"/><stop offset=".878" stop-color="#b2ff45"/><stop offset=".992" stop-color="#dbff1b"/><stop offset="1" stop-color="#ddff1a"/></linearGradient><linearGradient id="h73" gradientUnits="userSpaceOnUse" x1="0" y1="140" x2="0" y2="266"><stop offset=".000" stop-color="#003cff"/><stop offset=".246" stop-color="#003cff"/><stop offset=".263" stop-color="#004cff"/><stop offset=".410" stop-color="#00dbff"/><stop offset=".420" stop-color="#00e5f7"/><stop offset=".438" stop-color="#0ef7e9"/><stop offset=".458" stop-color="#15ffe2"/><stop offset=".565" stop-color="#3affbd"/><stop offset=".756" stop-color="#7bff7b"/><stop offset=".879" stop-color="#b2ff45"/><stop offset=".992" stop-color="#dbff1b"/><stop offset="1" stop-color="#ddff1a"/></linearGradient><linearGradient id="h74" gradientUnits="userSpaceOnUse" x1="0" y1="140" x2="0" y2="266"><stop offset=".000" stop-color="#003cff"/><stop offset=".246" stop-color="#003cff"/><stop offset=".264" stop-color="#004cff"/><stop offset=".411" stop-color="#00dbff"/><stop offset=".422" stop-color="#00e5f7"/><stop offset=".440" stop-color="#0ef7e9"/><stop offset=".459" stop-color="#15ffe2"/><stop offset=".567" stop-color="#3affbd"/><stop offset=".757" stop-color="#7bff7b"/><stop offset=".879" stop-color="#b2ff45"/><stop offset=".992" stop-color="#dbff1b"/><stop offset="1" stop-color="#ddff1a"/></linearGradient><linearGradient id="h75" gradientUnits="userSpaceOnUse" x1="0" y1="140" x2="0" y2="266"><stop offset=".000" stop-color="#003cff"/><stop offset=".246" stop-color="#003cff"/><stop offset=".264" stop-color="#004cff"/><stop offset=".413" stop-color="#00dbff"/><stop offset=".424" stop-color="#00e5f7"/><stop offset=".441" stop-color="#0ef7e9"/><stop offset=".461" stop-color="#15ffe2"/><stop offset=".568" stop-color="#3affbd"/><stop offset=".758" stop-color="#7bff7b"/><stop offset=".880" stop-color="#b2ff45"/><stop offset=".992" stop-color="#dbff1b"/><stop offset="1" stop-color="#ddff1a"/></linearGradient><linearGradient id="h76" gradientUnits="userSpaceOnUse" x1="0" y1="140" x2="0" y2="266"><stop offset=".000" stop-color="#003cff"/><stop offset=".246" stop-color="#003cff"/><stop offset=".264" stop-color="#004cff"/><stop offset=".415" stop-color="#00dbff"/><stop offset=".425" stop-color="#00e5f7"/><stop offset=".443" stop-color="#0ef7e9"/><stop offset=".463" stop-color="#15ffe2"/><stop offset=".570" stop-color="#3affbd"/><stop offset=".759" stop-color="#7bff7b"/><stop offset=".880" stop-color="#b2ff45"/><stop offset=".992" stop-color="#dbff1b"/><stop offset="1" stop-color="#ddff1a"/></linearGradient><linearGradient id="h77" gradientUnits="userSpaceOnUse" x1="0" y1="140" x2="0" y2="266"><stop offset=".000" stop-color="#003eff"/><stop offset=".079" stop-color="#003eff"/><stop offset=".185" stop-color="#003aff"/><stop offset=".205" stop-color="#003aff"/><stop offset=".261" stop-color="#004cff"/><stop offset=".415" stop-color="#00dbff"/><stop offset=".426" stop-color="#00e5f7"/><stop offset=".444" stop-color="#0ef7e9"/><stop offset=".464" stop-color="#15ffe2"/><stop offset=".571" stop-color="#3affbd"/><stop offset=".760" stop-color="#7bff7b"/><stop offset=".880" stop-color="#b2ff45"/><stop offset=".992" stop-color="#dbff1b"/><stop offset="1" stop-color="#ddff1a"/></linearGradient><linearGradient id="h78" gradientUnits="userSpaceOnUse" x1="0" y1="140" x2="0" y2="266"><stop offset=".000" stop-color="#0048ff"/><stop offset=".079" stop-color="#0048ff"/><stop offset=".082" stop-color="#0035ff"/><stop offset=".084" stop-color="#0035ff"/><stop offset=".251" stop-color="#004cff"/><stop offset=".414" stop-color="#00dbff"/><stop offset=".425" stop-color="#00e5f7"/><stop offset=".444" stop-color="#0ef7e9"/><stop offset=".464" stop-color="#15ffe2"/><stop offset=".571" stop-color="#3affbd"/><stop offset=".761" stop-color="#7bff7b"/><stop offset=".881" stop-color="#b2ff45"/><stop offset=".992" stop-color="#dbff1b"/><stop offset="1" stop-color="#ddff1a"/></linearGradient><linearGradient id="h79" gradientUnits="userSpaceOnUse" x1="0" y1="140" x2="0" y2="324"><stop offset=".000" stop-color="#0000e0"/><stop offset=".114" stop-color="#0000e0"/><stop offset=".190" stop-color="#0000e9"/><stop offset=".283" stop-color="#0000e9"/><stop offset=".295" stop-color="#0000ff"/><stop offset=".305" stop-color="#0000ff"/><stop offset=".343" stop-color="#003bff"/><stop offset=".403" stop-color="#00dbff"/><stop offset=".407" stop-color="#00e5f7"/><stop offset=".413" stop-color="#0ef7e9"/><stop offset=".420" stop-color="#15ffe2"/><stop offset=".457" stop-color="#3affbd"/><stop offset=".522" stop-color="#7bff7b"/><stop offset=".603" stop-color="#b2ff45"/><stop offset=".685" stop-color="#dbff1b"/><stop offset=".743" stop-color="#efff08"/><stop offset=".768" stop-color="#f7f600"/><stop offset=".793" stop-color="#ffec00"/><stop offset=".810" stop-color="#ffe600"/><stop offset=".998" stop-color="#ffb300"/><stop offset="1" stop-color="#ffb400"/></linearGradient><linearGradient id="h80" gradientUnits="userSpaceOnUse" x1="0" y1="140" x2="0" y2="324"><stop offset=".000" stop-color="#002aff"/><stop offset=".114" stop-color="#002aff"/><stop offset=".190" stop-color="#0032ff"/><stop offset=".284" stop-color="#0032ff"/><stop offset=".343" stop-color="#0066ff"/><stop offset=".400" stop-color="#00dbff"/><stop offset=".405" stop-color="#00e5f7"/><stop offset=".414" stop-color="#0ef7e9"/><stop offset=".420" stop-color="#15ffe2"/><stop offset=".457" stop-color="#3affbd"/><stop offset=".522" stop-color="#7bff7b"/><stop offset=".603" stop-color="#b2ff45"/><stop offset=".685" stop-color="#dbff1b"/><stop offset=".743" stop-color="#efff08"/><stop offset=".768" stop-color="#f7f600"/><stop offset=".793" stop-color="#ffec00"/><stop offset=".810" stop-color="#ffe600"/><stop offset=".998" stop-color="#ffb300"/><stop offset="1" stop-color="#ffb400"/></linearGradient><linearGradient id="h81" gradientUnits="userSpaceOnUse" x1="0" y1="140" x2="0" y2="324"><stop offset=".000" stop-color="#002aff"/><stop offset=".114" stop-color="#002aff"/><stop offset=".190" stop-color="#0032ff"/><stop offset=".284" stop-color="#0032ff"/><stop offset=".343" stop-color="#0066ff"/><stop offset=".401" stop-color="#00dbff"/><stop offset=".406" stop-color="#00e5f7"/><stop offset=".414" stop-color="#0ef7e9"/><stop offset=".421" stop-color="#15ffe2"/><stop offset=".457" stop-color="#3affbd"/><stop offset=".522" stop-color="#7bff7b"/><stop offset=".603" stop-color="#b2ff45"/><stop offset=".685" stop-color="#dbff1b"/><stop offset=".743" stop-color="#efff08"/><stop offset=".768" stop-color="#f7f600"/><stop offset=".793" stop-color="#ffec00"/><stop offset=".810" stop-color="#ffe600"/><stop offset=".998" stop-color="#ffb300"/><stop offset="1" stop-color="#ffb400"/></linearGradient><linearGradient id="h82" gradientUnits="userSpaceOnUse" x1="0" y1="140" x2="0" y2="324"><stop offset=".000" stop-color="#0000e0"/><stop offset=".114" stop-color="#0000e0"/><stop offset=".190" stop-color="#0000e8"/><stop offset=".285" stop-color="#0000e8"/><stop offset=".298" stop-color="#0000ff"/><stop offset=".307" stop-color="#0000ff"/><stop offset=".344" stop-color="#003bff"/><stop offset=".404" stop-color="#00dbff"/><stop offset=".408" stop-color="#00e5f7"/><stop offset=".414" stop-color="#0ef7e9"/><stop offset=".421" stop-color="#15ffe2"/><stop offset=".457" stop-color="#3affbd"/><stop offset=".522" stop-color="#7bff7b"/><stop offset=".603" stop-color="#b2ff45"/><stop offset=".685" stop-color="#dbff1b"/><stop offset=".743" stop-color="#efff08"/><stop offset=".768" stop-color="#f7f600"/><stop offset=".793" stop-color="#ffec00"/><stop offset=".810" stop-color="#ffe600"/><stop offset=".998" stop-color="#ffb300"/><stop offset="1" stop-color="#ffb400"/></linearGradient><linearGradient id="h83" gradientUnits="userSpaceOnUse" x1="0" y1="140" x2="0" y2="324"><stop offset=".000" stop-color="#0000ff"/><stop offset=".287" stop-color="#0000ff"/><stop offset=".344" stop-color="#004cff"/><stop offset=".403" stop-color="#00dbff"/><stop offset=".408" stop-color="#00e5f7"/><stop offset=".415" stop-color="#0ef7e9"/><stop offset=".421" stop-color="#15ffe2"/><stop offset=".457" stop-color="#3affbd"/><stop offset=".522" stop-color="#7bff7b"/><stop offset=".603" stop-color="#b2ff45"/><stop offset=".685" stop-color="#dbff1b"/><stop offset=".743" stop-color="#efff08"/><stop offset=".768" stop-color="#f7f600"/><stop offset=".793" stop-color="#ffec00"/><stop offset=".810" stop-color="#ffe600"/><stop offset=".998" stop-color="#ffb300"/><stop offset="1" stop-color="#ffb400"/></linearGradient><linearGradient id="h84" gradientUnits="userSpaceOnUse" x1="0" y1="140" x2="0" y2="324"><stop offset=".000" stop-color="#002aff"/><stop offset=".114" stop-color="#002aff"/><stop offset=".190" stop-color="#0030ff"/><stop offset=".286" stop-color="#0030ff"/><stop offset=".344" stop-color="#0066ff"/><stop offset=".402" stop-color="#00dbff"/><stop offset=".407" stop-color="#00e5f7"/><stop offset=".415" stop-color="#0ef7e9"/><stop offset=".422" stop-color="#15ffe2"/><stop offset=".458" stop-color="#3affbd"/><stop offset=".522" stop-color="#7bff7b"/><stop offset=".603" stop-color="#b2ff45"/><stop offset=".685" stop-color="#dbff1b"/><stop offset=".743" stop-color="#efff08"/><stop offset=".768" stop-color="#f7f600"/><stop offset=".793" stop-color="#ffec00"/><stop offset=".810" stop-color="#ffe600"/><stop offset=".998" stop-color="#ffb300"/><stop offset="1" stop-color="#ffb400"/></linearGradient><linearGradient id="h85" gradientUnits="userSpaceOnUse" x1="0" y1="140" x2="0" y2="324"><stop offset=".000" stop-color="#0011ff"/><stop offset=".114" stop-color="#0011ff"/><stop offset=".190" stop-color="#0016ff"/><stop offset=".287" stop-color="#0016ff"/><stop offset=".345" stop-color="#0059ff"/><stop offset=".403" stop-color="#00dbff"/><stop offset=".408" stop-color="#00e5f7"/><stop offset=".415" stop-color="#0ef7e9"/><stop offset=".422" stop-color="#15ffe2"/><stop offset=".458" stop-color="#3affbd"/><stop offset=".522" stop-color="#7bff7b"/><stop offset=".603" stop-color="#b2ff45"/><stop offset=".685" stop-color="#dbff1b"/><stop offset=".743" stop-color="#efff08"/><stop offset=".768" stop-color="#f7f600"/><stop offset=".793" stop-color="#ffec00"/><stop offset=".810" stop-color="#ffe600"/><stop offset=".998" stop-color="#ffb300"/><stop offset="1" stop-color="#ffb400"/></linearGradient><linearGradient id="h86" gradientUnits="userSpaceOnUse" x1="0" y1="140" x2="0" y2="324"><stop offset=".000" stop-color="#0000f3"/><stop offset=".114" stop-color="#0000f3"/><stop offset=".190" stop-color="#0000f9"/><stop offset=".288" stop-color="#0000f9"/><stop offset=".291" stop-color="#0000ff"/><stop offset=".301" stop-color="#0000ff"/><stop offset=".345" stop-color="#0044ff"/><stop offset=".405" stop-color="#00dbff"/><stop offset=".409" stop-color="#00e5f7"/><stop offset=".416" stop-color="#0ef7e9"/><stop offset=".422" stop-color="#15ffe2"/><stop offset=".458" stop-color="#3affbd"/><stop offset=".522" stop-color="#7bff7b"/><stop offset=".603" stop-color="#b2ff45"/><stop offset=".685" stop-color="#dbff1b"/><stop offset=".743" stop-color="#efff08"/><stop offset=".768" stop-color="#f7f600"/><stop offset=".793" stop-color="#ffec00"/><stop offset=".810" stop-color="#ffe600"/><stop offset=".998" stop-color="#ffb300"/><stop offset="1" stop-color="#ffb400"/></linearGradient><linearGradient id="h87" gradientUnits="userSpaceOnUse" x1="0" y1="140" x2="0" y2="324"><stop offset=".000" stop-color="#002aff"/><stop offset=".114" stop-color="#002aff"/><stop offset=".190" stop-color="#002eff"/><stop offset=".288" stop-color="#002eff"/><stop offset=".345" stop-color="#0066ff"/><stop offset=".403" stop-color="#00dbff"/><stop offset=".408" stop-color="#00e5f7"/><stop offset=".416" stop-color="#0ef7e9"/><stop offset=".423" stop-color="#15ffe2"/><stop offset=".458" stop-color="#3affbd"/><stop offset=".522" stop-color="#7bff7b"/><stop offset=".603" stop-color="#b2ff45"/><stop offset=".685" stop-color="#dbff1b"/><stop offset=".743" stop-color="#efff08"/><stop offset=".768" stop-color="#f7f600"/><stop offset=".793" stop-color="#ffec00"/><stop offset=".810" stop-color="#ffe600"/><stop offset=".998" stop-color="#ffb300"/><stop offset="1" stop-color="#ffb400"/></linearGradient><linearGradient id="h88" gradientUnits="userSpaceOnUse" x1="0" y1="140" x2="0" y2="324"><stop offset=".000" stop-color="#0000c3"/><stop offset=".114" stop-color="#0000c3"/><stop offset=".190" stop-color="#0000c7"/><stop offset=".289" stop-color="#0000c7"/><stop offset=".314" stop-color="#0000ff"/><stop offset=".322" stop-color="#0000ff"/><stop offset=".346" stop-color="#002fff"/><stop offset=".407" stop-color="#00dbff"/><stop offset=".410" stop-color="#00e5f7"/><stop offset=".416" stop-color="#0ef7e9"/><stop offset=".423" stop-color="#15ffe2"/><stop offset=".458" stop-color="#3affbd"/><stop offset=".522" stop-color="#7bff7b"/><stop offset=".603" stop-color="#b2ff45"/><stop offset=".685" stop-color="#dbff1b"/><stop offset=".743" stop-color="#efff08"/><stop offset=".768" stop-color="#f7f600"/><stop offset=".793" stop-color="#ffec00"/><stop offset=".810" stop-color="#ffe600"/><stop offset=".998" stop-color="#ffb300"/><stop offset="1" stop-color="#ffb400"/></linearGradient><linearGradient id="h89" gradientUnits="userSpaceOnUse" x1="0" y1="140" x2="0" y2="324"><stop offset=".000" stop-color="#002aff"/><stop offset=".114" stop-color="#002aff"/><stop offset=".190" stop-color="#002dff"/><stop offset=".290" stop-color="#002dff"/><stop offset=".346" stop-color="#0066ff"/><stop offset=".403" stop-color="#00dbff"/><stop offset=".408" stop-color="#00e5f7"/><stop offset=".417" stop-color="#0ef7e9"/><stop offset=".423" stop-color="#15ffe2"/><stop offset=".459" stop-color="#3affbd"/><stop offset=".522" stop-color="#7bff7b"/><stop offset=".603" stop-color="#b2ff45"/><stop offset=".685" stop-color="#dbff1b"/><stop offset=".743" stop-color="#efff08"/><stop offset=".768" stop-color="#f7f600"/><stop offset=".793" stop-color="#ffec00"/><stop offset=".810" stop-color="#ffe600"/><stop offset=".998" stop-color="#ffb300"/><stop offset="1" stop-color="#ffb400"/></linearGradient><linearGradient id="h90" gradientUnits="userSpaceOnUse" x1="0" y1="140" x2="0" y2="324"><stop offset=".000" stop-color="#0000c3"/><stop offset=".114" stop-color="#0000c3"/><stop offset=".190" stop-color="#0000c6"/><stop offset=".290" stop-color="#0000c6"/><stop offset=".315" stop-color="#0000ff"/><stop offset=".323" stop-color="#0000ff"/><stop offset=".346" stop-color="#002fff"/><stop offset=".407" stop-color="#00dbff"/><stop offset=".411" stop-color="#00e5f7"/><stop offset=".417" stop-color="#0ef7e9"/><stop offset=".423" stop-color="#15ffe2"/><stop offset=".459" stop-color="#3affbd"/><stop offset=".522" stop-color="#7bff7b"/><stop offset=".603" stop-color="#b2ff45"/><stop offset=".685" stop-color="#dbff1b"/><stop offset=".743" stop-color="#efff08"/><stop offset=".768" stop-color="#f7f600"/><stop offset=".793" stop-color="#ffec00"/><stop offset=".810" stop-color="#ffe600"/><stop offset=".998" stop-color="#ffb300"/><stop offset="1" stop-color="#ffb400"/></linearGradient><linearGradient id="h91" gradientUnits="userSpaceOnUse" x1="0" y1="140" x2="0" y2="324"><stop offset=".000" stop-color="#0011ff"/><stop offset=".114" stop-color="#0011ff"/><stop offset=".190" stop-color="#0013ff"/><stop offset=".291" stop-color="#0013ff"/><stop offset=".347" stop-color="#0059ff"/><stop offset=".405" stop-color="#00dbff"/><stop offset=".410" stop-color="#00e5f7"/><stop offset=".417" stop-color="#0ef7e9"/><stop offset=".424" stop-color="#15ffe2"/><stop offset=".459" stop-color="#3affbd"/><stop offset=".522" stop-color="#7bff7b"/><stop offset=".603" stop-color="#b2ff45"/><stop offset=".685" stop-color="#dbff1b"/><stop offset=".743" stop-color="#efff08"/><stop offset=".768" stop-color="#f7f600"/><stop offset=".793" stop-color="#ffec00"/><stop offset=".810" stop-color="#ffe600"/><stop offset=".998" stop-color="#ffb300"/><stop offset="1" stop-color="#ffb400"/></linearGradient><linearGradient id="h92" gradientUnits="userSpaceOnUse" x1="0" y1="140" x2="0" y2="324"><stop offset=".000" stop-color="#0000ff"/><stop offset=".297" stop-color="#0000ff"/><stop offset=".347" stop-color="#004cff"/><stop offset=".406" stop-color="#00dbff"/><stop offset=".411" stop-color="#00e5f7"/><stop offset=".418" stop-color="#0ef7e9"/><stop offset=".424" stop-color="#15ffe2"/><stop offset=".459" stop-color="#3affbd"/><stop offset=".522" stop-color="#7bff7b"/><stop offset=".603" stop-color="#b2ff45"/><stop offset=".685" stop-color="#dbff1b"/><stop offset=".743" stop-color="#efff08"/><stop offset=".768" stop-color="#f7f600"/><stop offset=".793" stop-color="#ffec00"/><stop offset=".810" stop-color="#ffe600"/><stop offset=".998" stop-color="#ffb300"/><stop offset="1" stop-color="#ffb400"/></linearGradient><linearGradient id="h93" gradientUnits="userSpaceOnUse" x1="0" y1="140" x2="0" y2="324"><stop offset=".000" stop-color="#002aff"/><stop offset=".114" stop-color="#002aff"/><stop offset=".190" stop-color="#002bff"/><stop offset=".292" stop-color="#002bff"/><stop offset=".347" stop-color="#0066ff"/><stop offset=".405" stop-color="#00dbff"/><stop offset=".410" stop-color="#00e5f7"/><stop offset=".418" stop-color="#0ef7e9"/><stop offset=".424" stop-color="#15ffe2"/><stop offset=".459" stop-color="#3affbd"/><stop offset=".522" stop-color="#7bff7b"/><stop offset=".603" stop-color="#b2ff45"/><stop offset=".685" stop-color="#dbff1b"/><stop offset=".743" stop-color="#efff08"/><stop offset=".768" stop-color="#f7f600"/><stop offset=".793" stop-color="#ffec00"/><stop offset=".810" stop-color="#ffe600"/><stop offset=".998" stop-color="#ffb300"/><stop offset="1" stop-color="#ffb400"/></linearGradient><linearGradient id="h94" gradientUnits="userSpaceOnUse" x1="0" y1="140" x2="0" y2="324"><stop offset=".000" stop-color="#0000e0"/><stop offset=".293" stop-color="#0000e0"/><stop offset=".308" stop-color="#0000ff"/><stop offset=".316" stop-color="#0000ff"/><stop offset=".348" stop-color="#003bff"/><stop offset=".408" stop-color="#00dbff"/><stop offset=".412" stop-color="#00e5f7"/><stop offset=".418" stop-color="#0ef7e9"/><stop offset=".425" stop-color="#15ffe2"/><stop offset=".460" stop-color="#3affbd"/><stop offset=".522" stop-color="#7bff7b"/><stop offset=".603" stop-color="#b2ff45"/><stop offset=".685" stop-color="#dbff1b"/><stop offset=".743" stop-color="#efff08"/><stop offset=".768" stop-color="#f7f600"/><stop offset=".793" stop-color="#ffec00"/><stop offset=".810" stop-color="#ffe600"/><stop offset=".998" stop-color="#ffb300"/><stop offset="1" stop-color="#ffb400"/></linearGradient><linearGradient id="h95" gradientUnits="userSpaceOnUse" x1="0" y1="140" x2="0" y2="324"><stop offset=".000" stop-color="#0033ff"/><stop offset=".277" stop-color="#0033ff"/><stop offset=".304" stop-color="#0000ff"/><stop offset=".312" stop-color="#0000ff"/><stop offset=".353" stop-color="#0000a4"/><stop offset=".466" stop-color="#0000a4"/><stop offset=".496" stop-color="#0000ff"/><stop offset=".502" stop-color="#0000ff"/><stop offset=".531" stop-color="#004cff"/><stop offset=".563" stop-color="#00dbff"/><stop offset=".565" stop-color="#00e5f7"/><stop offset=".569" stop-color="#0ef7e9"/><stop offset=".572" stop-color="#15ffe2"/><stop offset=".585" stop-color="#3affbd"/><stop offset=".608" stop-color="#7bff7b"/><stop offset=".668" stop-color="#b2ff45"/><stop offset=".755" stop-color="#dbff1b"/><stop offset=".810" stop-color="#efff08"/><stop offset=".834" stop-color="#f7f600"/><stop offset=".857" stop-color="#ffec00"/><stop offset=".873" stop-color="#ffe600"/><stop offset=".998" stop-color="#ffb300"/><stop offset="1" stop-color="#ffb400"/></linearGradient><linearGradient id="h96" gradientUnits="userSpaceOnUse" x1="0" y1="140" x2="0" y2="324"><stop offset=".000" stop-color="#0033ff"/><stop offset=".277" stop-color="#0033ff"/><stop offset=".304" stop-color="#0000ff"/><stop offset=".312" stop-color="#0000ff"/><stop offset=".353" stop-color="#0000a7"/><stop offset=".463" stop-color="#0000a7"/><stop offset=".492" stop-color="#0000ff"/><stop offset=".498" stop-color="#0000ff"/><stop offset=".527" stop-color="#004cff"/><stop offset=".560" stop-color="#00dbff"/><stop offset=".563" stop-color="#00e5f7"/><stop offset=".567" stop-color="#0ef7e9"/><stop offset=".569" stop-color="#15ffe2"/><stop offset=".582" stop-color="#3affbd"/><stop offset=".606" stop-color="#7bff7b"/><stop offset=".666" stop-color="#b2ff45"/><stop offset=".754" stop-color="#dbff1b"/><stop offset=".810" stop-color="#efff08"/><stop offset=".833" stop-color="#f7f600"/><stop offset=".857" stop-color="#ffec00"/><stop offset=".872" stop-color="#ffe600"/><stop offset=".998" stop-color="#ffb300"/><stop offset="1" stop-color="#ffb400"/></linearGradient><linearGradient id="h97" gradientUnits="userSpaceOnUse" x1="0" y1="140" x2="0" y2="324"><stop offset=".000" stop-color="#0033ff"/><stop offset=".277" stop-color="#0033ff"/><stop offset=".305" stop-color="#0000ff"/><stop offset=".313" stop-color="#0000ff"/><stop offset=".353" stop-color="#0000aa"/><stop offset=".461" stop-color="#0000aa"/><stop offset=".488" stop-color="#0000ff"/><stop offset=".494" stop-color="#0000ff"/><stop offset=".523" stop-color="#004cff"/><stop offset=".557" stop-color="#00dbff"/><stop offset=".560" stop-color="#00e5f7"/><stop offset=".564" stop-color="#0ef7e9"/><stop offset=".567" stop-color="#15ffe2"/><stop offset=".580" stop-color="#3affbd"/><stop offset=".604" stop-color="#7bff7b"/><stop offset=".665" stop-color="#b2ff45"/><stop offset=".754" stop-color="#dbff1b"/><stop offset=".809" stop-color="#efff08"/><stop offset=".833" stop-color="#f7f600"/><stop offset=".856" stop-color="#ffec00"/><stop offset=".872" stop-color="#ffe600"/><stop offset=".998" stop-color="#ffb300"/><stop offset="1" stop-color="#ffb400"/></linearGradient><linearGradient id="h98" gradientUnits="userSpaceOnUse" x1="0" y1="140" x2="0" y2="324"><stop offset=".000" stop-color="#0033ff"/><stop offset=".277" stop-color="#0033ff"/><stop offset=".306" stop-color="#0000ff"/><stop offset=".314" stop-color="#0000ff"/><stop offset=".353" stop-color="#0000b0"/><stop offset=".457" stop-color="#0000b0"/><stop offset=".482" stop-color="#0000ff"/><stop offset=".488" stop-color="#0000ff"/><stop offset=".516" stop-color="#004cff"/><stop offset=".553" stop-color="#00dbff"/><stop offset=".555" stop-color="#00e5f7"/><stop offset=".560" stop-color="#0ef7e9"/><stop offset=".562" stop-color="#15ffe2"/><stop offset=".576" stop-color="#3affbd"/><stop offset=".601" stop-color="#7bff7b"/><stop offset=".663" stop-color="#b2ff45"/><stop offset=".753" stop-color="#dbff1b"/><stop offset=".808" stop-color="#efff08"/><stop offset=".832" stop-color="#f7f600"/><stop offset=".855" stop-color="#ffec00"/><stop offset=".871" stop-color="#ffe600"/><stop offset=".998" stop-color="#ffb300"/><stop offset="1" stop-color="#ffb400"/></linearGradient><linearGradient id="h99" gradientUnits="userSpaceOnUse" x1="0" y1="140" x2="0" y2="324"><stop offset=".000" stop-color="#0035ff"/><stop offset=".275" stop-color="#0035ff"/><stop offset=".311" stop-color="#0000ff"/><stop offset=".321" stop-color="#0000ff"/><stop offset=".351" stop-color="#0000ce"/><stop offset=".444" stop-color="#0000ce"/><stop offset=".463" stop-color="#0000ff"/><stop offset=".470" stop-color="#0000ff"/><stop offset=".504" stop-color="#004cff"/><stop offset=".543" stop-color="#00dbff"/><stop offset=".545" stop-color="#00e5f7"/><stop offset=".550" stop-color="#0ef7e9"/><stop offset=".553" stop-color="#15ffe2"/><stop offset=".567" stop-color="#3affbd"/><stop offset=".592" stop-color="#7bff7b"/><stop offset=".656" stop-color="#b2ff45"/><stop offset=".749" stop-color="#dbff1b"/><stop offset=".804" stop-color="#efff08"/><stop offset=".828" stop-color="#f7f600"/><stop offset=".852" stop-color="#ffec00"/><stop offset=".868" stop-color="#ffe600"/><stop offset=".998" stop-color="#ffb300"/><stop offset="1" stop-color="#ffb400"/></linearGradient><linearGradient id="h100" gradientUnits="userSpaceOnUse" x1="0" y1="140" x2="0" y2="324"><stop offset=".000" stop-color="#0038ff"/><stop offset=".272" stop-color="#0038ff"/><stop offset=".321" stop-color="#0000ff"/><stop offset=".334" stop-color="#0000ff"/><stop offset=".348" stop-color="#0000ec"/><stop offset=".432" stop-color="#0000ec"/><stop offset=".441" stop-color="#0000ff"/><stop offset=".450" stop-color="#0000ff"/><stop offset=".492" stop-color="#004cff"/><stop offset=".533" stop-color="#00dbff"/><stop offset=".536" stop-color="#00e5f7"/><stop offset=".540" stop-color="#0ef7e9"/><stop offset=".543" stop-color="#15ffe2"/><stop offset=".558" stop-color="#3affbd"/><stop offset=".584" stop-color="#7bff7b"/><stop offset=".648" stop-color="#b2ff45"/><stop offset=".745" stop-color="#dbff1b"/><stop offset=".801" stop-color="#efff08"/><stop offset=".825" stop-color="#f7f600"/><stop offset=".849" stop-color="#ffec00"/><stop offset=".864" stop-color="#ffe600"/><stop offset=".998" stop-color="#ffb300"/><stop offset="1" stop-color="#ffb400"/></linearGradient><linearGradient id="h101" gradientUnits="userSpaceOnUse" x1="0" y1="140" x2="0" y2="324"><stop offset=".000" stop-color="#0039ff"/><stop offset=".265" stop-color="#0039ff"/><stop offset=".333" stop-color="#0000ff"/><stop offset=".426" stop-color="#0000ff"/><stop offset=".483" stop-color="#004cff"/><stop offset=".524" stop-color="#00dbff"/><stop offset=".527" stop-color="#00e5f7"/><stop offset=".532" stop-color="#0ef7e9"/><stop offset=".535" stop-color="#15ffe2"/><stop offset=".550" stop-color="#3affbd"/><stop offset=".577" stop-color="#7bff7b"/><stop offset=".644" stop-color="#b2ff45"/><stop offset=".743" stop-color="#dbff1b"/><stop offset=".799" stop-color="#efff08"/><stop offset=".822" stop-color="#f7f600"/><stop offset=".846" stop-color="#ffec00"/><stop offset=".862" stop-color="#ffe600"/><stop offset=".998" stop-color="#ffb300"/><stop offset="1" stop-color="#ffb400"/></linearGradient><linearGradient id="h102" gradientUnits="userSpaceOnUse" x1="0" y1="140" x2="0" y2="324"><stop offset=".000" stop-color="#003bff"/><stop offset=".256" stop-color="#003bff"/><stop offset=".332" stop-color="#0011ff"/><stop offset=".410" stop-color="#0011ff"/><stop offset=".474" stop-color="#004cff"/><stop offset=".516" stop-color="#00dbff"/><stop offset=".520" stop-color="#00e5f7"/><stop offset=".525" stop-color="#0ef7e9"/><stop offset=".528" stop-color="#15ffe2"/><stop offset=".544" stop-color="#3affbd"/><stop offset=".572" stop-color="#7bff7b"/><stop offset=".641" stop-color="#b2ff45"/><stop offset=".741" stop-color="#dbff1b"/><stop offset=".796" stop-color="#efff08"/><stop offset=".820" stop-color="#f7f600"/><stop offset=".844" stop-color="#ffec00"/><stop offset=".860" stop-color="#ffe600"/><stop offset=".998" stop-color="#ffb300"/><stop offset="1" stop-color="#ffb400"/></linearGradient><linearGradient id="h103" gradientUnits="userSpaceOnUse" x1="0" y1="140" x2="0" y2="324"><stop offset=".000" stop-color="#003cff"/><stop offset=".248" stop-color="#003cff"/><stop offset=".324" stop-color="#0024ff"/><stop offset=".399" stop-color="#0024ff"/><stop offset=".465" stop-color="#004cff"/><stop offset=".509" stop-color="#00dbff"/><stop offset=".512" stop-color="#00e5f7"/><stop offset=".517" stop-color="#0ef7e9"/><stop offset=".521" stop-color="#15ffe2"/><stop offset=".537" stop-color="#3affbd"/><stop offset=".567" stop-color="#7bff7b"/><stop offset=".637" stop-color="#b2ff45"/><stop offset=".738" stop-color="#dbff1b"/><stop offset=".794" stop-color="#efff08"/><stop offset=".818" stop-color="#f7f600"/><stop offset=".842" stop-color="#ffec00"/><stop offset=".858" stop-color="#ffe600"/><stop offset=".998" stop-color="#ffb300"/><stop offset="1" stop-color="#ffb400"/></linearGradient><linearGradient id="h104" gradientUnits="userSpaceOnUse" x1="0" y1="140" x2="0" y2="324"><stop offset=".000" stop-color="#003cff"/><stop offset=".239" stop-color="#003cff"/><stop offset=".315" stop-color="#002bff"/><stop offset=".389" stop-color="#002bff"/><stop offset=".457" stop-color="#004cff"/><stop offset=".503" stop-color="#00dbff"/><stop offset=".506" stop-color="#00e5f7"/><stop offset=".512" stop-color="#0ef7e9"/><stop offset=".515" stop-color="#15ffe2"/><stop offset=".532" stop-color="#3affbd"/><stop offset=".563" stop-color="#7bff7b"/><stop offset=".633" stop-color="#b2ff45"/><stop offset=".735" stop-color="#dbff1b"/><stop offset=".791" stop-color="#efff08"/><stop offset=".815" stop-color="#f7f600"/><stop offset=".839" stop-color="#ffec00"/><stop offset=".855" stop-color="#ffe600"/><stop offset=".998" stop-color="#ffb300"/><stop offset="1" stop-color="#ffb400"/></linearGradient><linearGradient id="h105" gradientUnits="userSpaceOnUse" x1="0" y1="140" x2="0" y2="324"><stop offset=".000" stop-color="#003cff"/><stop offset=".231" stop-color="#003cff"/><stop offset=".307" stop-color="#0031ff"/><stop offset=".379" stop-color="#0031ff"/><stop offset=".448" stop-color="#004cff"/><stop offset=".497" stop-color="#00dbff"/><stop offset=".500" stop-color="#00e5f7"/><stop offset=".506" stop-color="#0ef7e9"/><stop offset=".509" stop-color="#15ffe2"/><stop offset=".527" stop-color="#3affbd"/><stop offset=".558" stop-color="#7bff7b"/><stop offset=".629" stop-color="#b2ff45"/><stop offset=".732" stop-color="#dbff1b"/><stop offset=".788" stop-color="#efff08"/><stop offset=".812" stop-color="#f7f600"/><stop offset=".836" stop-color="#ffec00"/><stop offset=".852" stop-color="#ffe600"/><stop offset=".998" stop-color="#ffb300"/><stop offset="1" stop-color="#ffb400"/></linearGradient><linearGradient id="h106" gradientUnits="userSpaceOnUse" x1="0" y1="140" x2="0" y2="324"><stop offset=".000" stop-color="#003cff"/><stop offset=".223" stop-color="#003cff"/><stop offset=".299" stop-color="#0038ff"/><stop offset=".369" stop-color="#0038ff"/><stop offset=".440" stop-color="#004cff"/><stop offset=".490" stop-color="#00dbff"/><stop offset=".494" stop-color="#00e5f7"/><stop offset=".500" stop-color="#0ef7e9"/><stop offset=".503" stop-color="#15ffe2"/><stop offset=".522" stop-color="#3affbd"/><stop offset=".554" stop-color="#7bff7b"/><stop offset=".625" stop-color="#b2ff45"/><stop offset=".728" stop-color="#dbff1b"/><stop offset=".785" stop-color="#efff08"/><stop offset=".809" stop-color="#f7f600"/><stop offset=".833" stop-color="#ffec00"/><stop offset=".849" stop-color="#ffe600"/><stop offset=".998" stop-color="#ffb300"/><stop offset="1" stop-color="#ffb400"/></linearGradient><linearGradient id="h107" gradientUnits="userSpaceOnUse" x1="0" y1="140" x2="0" y2="324"><stop offset=".000" stop-color="#003cff"/><stop offset=".214" stop-color="#003cff"/><stop offset=".290" stop-color="#0039ff"/><stop offset=".363" stop-color="#0039ff"/><stop offset=".435" stop-color="#004cff"/><stop offset=".486" stop-color="#00dbff"/><stop offset=".490" stop-color="#00e5f7"/><stop offset=".496" stop-color="#0ef7e9"/><stop offset=".499" stop-color="#15ffe2"/><stop offset=".518" stop-color="#3affbd"/><stop offset=".552" stop-color="#7bff7b"/><stop offset=".623" stop-color="#b2ff45"/><stop offset=".727" stop-color="#dbff1b"/><stop offset=".783" stop-color="#efff08"/><stop offset=".807" stop-color="#f7f600"/><stop offset=".831" stop-color="#ffec00"/><stop offset=".847" stop-color="#ffe600"/><stop offset=".998" stop-color="#ffb300"/><stop offset="1" stop-color="#ffb400"/></linearGradient><linearGradient id="h108" gradientUnits="userSpaceOnUse" x1="0" y1="140" x2="0" y2="324"><stop offset=".000" stop-color="#003cff"/><stop offset=".206" stop-color="#003cff"/><stop offset=".282" stop-color="#0039ff"/><stop offset=".356" stop-color="#0039ff"/><stop offset=".430" stop-color="#004cff"/><stop offset=".482" stop-color="#00dbff"/><stop offset=".485" stop-color="#00e5f7"/><stop offset=".492" stop-color="#0ef7e9"/><stop offset=".495" stop-color="#15ffe2"/><stop offset=".515" stop-color="#3affbd"/><stop offset=".549" stop-color="#7bff7b"/><stop offset=".622" stop-color="#b2ff45"/><stop offset=".725" stop-color="#dbff1b"/><stop offset=".781" stop-color="#efff08"/><stop offset=".806" stop-color="#f7f600"/><stop offset=".830" stop-color="#ffec00"/><stop offset=".846" stop-color="#ffe600"/><stop offset=".998" stop-color="#ffb300"/><stop offset="1" stop-color="#ffb400"/></linearGradient><linearGradient id="h109" gradientUnits="userSpaceOnUse" x1="0" y1="140" x2="0" y2="324"><stop offset=".000" stop-color="#003cff"/><stop offset=".198" stop-color="#003cff"/><stop offset=".274" stop-color="#003aff"/><stop offset=".349" stop-color="#003aff"/><stop offset=".425" stop-color="#004cff"/><stop offset=".477" stop-color="#00dbff"/><stop offset=".481" stop-color="#00e5f7"/><stop offset=".487" stop-color="#0ef7e9"/><stop offset=".491" stop-color="#15ffe2"/><stop offset=".511" stop-color="#3affbd"/><stop offset=".547" stop-color="#7bff7b"/><stop offset=".620" stop-color="#b2ff45"/><stop offset=".723" stop-color="#dbff1b"/><stop offset=".780" stop-color="#efff08"/><stop offset=".804" stop-color="#f7f600"/><stop offset=".828" stop-color="#ffec00"/><stop offset=".844" stop-color="#ffe600"/><stop offset=".998" stop-color="#ffb300"/><stop offset="1" stop-color="#ffb400"/></linearGradient><linearGradient id="h110" gradientUnits="userSpaceOnUse" x1="0" y1="140" x2="0" y2="324"><stop offset=".000" stop-color="#003cff"/><stop offset=".189" stop-color="#003cff"/><stop offset=".265" stop-color="#003aff"/><stop offset=".343" stop-color="#003aff"/><stop offset=".420" stop-color="#004cff"/><stop offset=".473" stop-color="#00dbff"/><stop offset=".477" stop-color="#00e5f7"/><stop offset=".483" stop-color="#0ef7e9"/><stop offset=".487" stop-color="#15ffe2"/><stop offset=".508" stop-color="#3affbd"/><stop offset=".544" stop-color="#7bff7b"/><stop offset=".618" stop-color="#b2ff45"/><stop offset=".722" stop-color="#dbff1b"/><stop offset=".778" stop-color="#efff08"/><stop offset=".802" stop-color="#f7f600"/><stop offset=".827" stop-color="#ffec00"/><stop offset=".843" stop-color="#ffe600"/><stop offset=".998" stop-color="#ffb300"/><stop offset="1" stop-color="#ffb400"/></linearGradient><linearGradient id="h111" gradientUnits="userSpaceOnUse" x1="0" y1="140" x2="0" y2="324"><stop offset=".000" stop-color="#003cff"/><stop offset=".181" stop-color="#003cff"/><stop offset=".257" stop-color="#003bff"/><stop offset=".336" stop-color="#003bff"/><stop offset=".415" stop-color="#004cff"/><stop offset=".469" stop-color="#00dbff"/><stop offset=".473" stop-color="#00e5f7"/><stop offset=".479" stop-color="#0ef7e9"/><stop offset=".483" stop-color="#15ffe2"/><stop offset=".504" stop-color="#3affbd"/><stop offset=".542" stop-color="#7bff7b"/><stop offset=".617" stop-color="#b2ff45"/><stop offset=".720" stop-color="#dbff1b"/><stop offset=".777" stop-color="#efff08"/><stop offset=".801" stop-color="#f7f600"/><stop offset=".825" stop-color="#ffec00"/><stop offset=".841" stop-color="#ffe600"/><stop offset=".998" stop-color="#ffb300"/><stop offset="1" stop-color="#ffb400"/></linearGradient><linearGradient id="h112" gradientUnits="userSpaceOnUse" x1="0" y1="140" x2="0" y2="324"><stop offset=".000" stop-color="#003cff"/><stop offset=".173" stop-color="#003cff"/><stop offset=".249" stop-color="#003bff"/><stop offset=".329" stop-color="#003bff"/><stop offset=".410" stop-color="#004cff"/><stop offset=".465" stop-color="#00dbff"/><stop offset=".468" stop-color="#00e5f7"/><stop offset=".475" stop-color="#0ef7e9"/><stop offset=".479" stop-color="#15ffe2"/><stop offset=".501" stop-color="#3affbd"/><stop offset=".539" stop-color="#7bff7b"/><stop offset=".615" stop-color="#b2ff45"/><stop offset=".718" stop-color="#dbff1b"/><stop offset=".775" stop-color="#efff08"/><stop offset=".799" stop-color="#f7f600"/><stop offset=".824" stop-color="#ffec00"/><stop offset=".840" stop-color="#ffe600"/><stop offset=".998" stop-color="#ffb300"/><stop offset="1" stop-color="#ffb400"/></linearGradient><linearGradient id="h113" gradientUnits="userSpaceOnUse" x1="0" y1="140" x2="0" y2="324"><stop offset=".000" stop-color="#0022ff"/><stop offset=".273" stop-color="#0022ff"/><stop offset=".289" stop-color="#0000ff"/><stop offset=".296" stop-color="#0000ff"/><stop offset=".349" stop-color="#000080"/><stop offset=".581" stop-color="#000080"/><stop offset=".613" stop-color="#0000ff"/><stop offset=".618" stop-color="#0000ff"/><stop offset=".640" stop-color="#004cff"/><stop offset=".668" stop-color="#00dbff"/><stop offset=".670" stop-color="#00e5f7"/><stop offset=".673" stop-color="#0ef7e9"/><stop offset=".675" stop-color="#15ffe2"/><stop offset=".688" stop-color="#3affbd"/><stop offset=".711" stop-color="#7bff7b"/><stop offset=".755" stop-color="#b2ff45"/><stop offset=".799" stop-color="#dbff1b"/><stop offset=".852" stop-color="#efff08"/><stop offset=".874" stop-color="#f7f600"/><stop offset=".897" stop-color="#ffec00"/><stop offset=".912" stop-color="#ffe600"/><stop offset=".998" stop-color="#ffb300"/><stop offset="1" stop-color="#ffb400"/></linearGradient><linearGradient id="h114" gradientUnits="userSpaceOnUse" x1="0" y1="140" x2="0" y2="324"><stop offset=".000" stop-color="#0022ff"/><stop offset=".275" stop-color="#0022ff"/><stop offset=".291" stop-color="#0000ff"/><stop offset=".298" stop-color="#0000ff"/><stop offset=".351" stop-color="#000080"/><stop offset=".579" stop-color="#000080"/><stop offset=".611" stop-color="#0000ff"/><stop offset=".616" stop-color="#0000ff"/><stop offset=".638" stop-color="#004cff"/><stop offset=".666" stop-color="#00dbff"/><stop offset=".668" stop-color="#00e5f7"/><stop offset=".671" stop-color="#0ef7e9"/><stop offset=".673" stop-color="#15ffe2"/><stop offset=".687" stop-color="#3affbd"/><stop offset=".710" stop-color="#7bff7b"/><stop offset=".755" stop-color="#b2ff45"/><stop offset=".798" stop-color="#dbff1b"/><stop offset=".851" stop-color="#efff08"/><stop offset=".874" stop-color="#f7f600"/><stop offset=".897" stop-color="#ffec00"/><stop offset=".912" stop-color="#ffe600"/><stop offset=".998" stop-color="#ffb300"/><stop offset="1" stop-color="#ffb400"/></linearGradient><linearGradient id="h115" gradientUnits="userSpaceOnUse" x1="0" y1="140" x2="0" y2="324"><stop offset=".000" stop-color="#0022ff"/><stop offset=".277" stop-color="#0022ff"/><stop offset=".293" stop-color="#0000ff"/><stop offset=".300" stop-color="#0000ff"/><stop offset=".353" stop-color="#000080"/><stop offset=".577" stop-color="#000080"/><stop offset=".609" stop-color="#0000ff"/><stop offset=".613" stop-color="#0000ff"/><stop offset=".635" stop-color="#004cff"/><stop offset=".664" stop-color="#00dbff"/><stop offset=".666" stop-color="#00e5f7"/><stop offset=".669" stop-color="#0ef7e9"/><stop offset=".672" stop-color="#15ffe2"/><stop offset=".685" stop-color="#3affbd"/><stop offset=".710" stop-color="#7bff7b"/><stop offset=".754" stop-color="#b2ff45"/><stop offset=".798" stop-color="#dbff1b"/><stop offset=".851" stop-color="#efff08"/><stop offset=".874" stop-color="#f7f600"/><stop offset=".896" stop-color="#ffec00"/><stop offset=".911" stop-color="#ffe600"/><stop offset=".998" stop-color="#ffb300"/><stop offset="1" stop-color="#ffb400"/></linearGradient><linearGradient id="h116" gradientUnits="userSpaceOnUse" x1="0" y1="140" x2="0" y2="324"><stop offset=".000" stop-color="#0022ff"/><stop offset=".279" stop-color="#0022ff"/><stop offset=".295" stop-color="#0000ff"/><stop offset=".302" stop-color="#0000ff"/><stop offset=".355" stop-color="#000080"/><stop offset=".574" stop-color="#000080"/><stop offset=".606" stop-color="#0000ff"/><stop offset=".610" stop-color="#0000ff"/><stop offset=".632" stop-color="#004cff"/><stop offset=".661" stop-color="#00dbff"/><stop offset=".663" stop-color="#00e5f7"/><stop offset=".667" stop-color="#0ef7e9"/><stop offset=".669" stop-color="#15ffe2"/><stop offset=".683" stop-color="#3affbd"/><stop offset=".708" stop-color="#7bff7b"/><stop offset=".754" stop-color="#b2ff45"/><stop offset=".797" stop-color="#dbff1b"/><stop offset=".850" stop-color="#efff08"/><stop offset=".873" stop-color="#f7f600"/><stop offset=".896" stop-color="#ffec00"/><stop offset=".911" stop-color="#ffe600"/><stop offset=".998" stop-color="#ffb300"/><stop offset="1" stop-color="#ffb400"/></linearGradient><linearGradient id="h117" gradientUnits="userSpaceOnUse" x1="0" y1="140" x2="0" y2="324"><stop offset=".000" stop-color="#0022ff"/><stop offset=".282" stop-color="#0022ff"/><stop offset=".298" stop-color="#0000ff"/><stop offset=".305" stop-color="#0000ff"/><stop offset=".358" stop-color="#000080"/><stop offset=".571" stop-color="#000080"/><stop offset=".603" stop-color="#0000ff"/><stop offset=".607" stop-color="#0000ff"/><stop offset=".628" stop-color="#004cff"/><stop offset=".658" stop-color="#00dbff"/><stop offset=".660" stop-color="#00e5f7"/><stop offset=".664" stop-color="#0ef7e9"/><stop offset=".666" stop-color="#15ffe2"/><stop offset=".681" stop-color="#3affbd"/><stop offset=".707" stop-color="#7bff7b"/><stop offset=".753" stop-color="#b2ff45"/><stop offset=".796" stop-color="#dbff1b"/><stop offset=".849" stop-color="#efff08"/><stop offset=".872" stop-color="#f7f600"/><stop offset=".895" stop-color="#ffec00"/><stop offset=".910" stop-color="#ffe600"/><stop offset=".998" stop-color="#ffb300"/><stop offset="1" stop-color="#ffb400"/></linearGradient><linearGradient id="h118" gradientUnits="userSpaceOnUse" x1="0" y1="140" x2="0" y2="324"><stop offset=".000" stop-color="#0023ff"/><stop offset=".289" stop-color="#0023ff"/><stop offset=".305" stop-color="#0000ff"/><stop offset=".313" stop-color="#0000ff"/><stop offset=".365" stop-color="#000080"/><stop offset=".567" stop-color="#000080"/><stop offset=".598" stop-color="#0000ff"/><stop offset=".603" stop-color="#0000ff"/><stop offset=".624" stop-color="#004cff"/><stop offset=".654" stop-color="#00dbff"/><stop offset=".656" stop-color="#00e5f7"/><stop offset=".660" stop-color="#0ef7e9"/><stop offset=".663" stop-color="#15ffe2"/><stop offset=".678" stop-color="#3affbd"/><stop offset=".705" stop-color="#7bff7b"/><stop offset=".752" stop-color="#b2ff45"/><stop offset=".795" stop-color="#dbff1b"/><stop offset=".849" stop-color="#efff08"/><stop offset=".871" stop-color="#f7f600"/><stop offset=".894" stop-color="#ffec00"/><stop offset=".909" stop-color="#ffe600"/><stop offset=".998" stop-color="#ffb300"/><stop offset="1" stop-color="#ffb400"/></linearGradient><linearGradient id="h119" gradientUnits="userSpaceOnUse" x1="0" y1="140" x2="0" y2="324"><stop offset=".000" stop-color="#0024ff"/><stop offset=".297" stop-color="#0024ff"/><stop offset=".314" stop-color="#0000ff"/><stop offset=".321" stop-color="#0000ff"/><stop offset=".373" stop-color="#000080"/><stop offset=".563" stop-color="#000080"/><stop offset=".594" stop-color="#0000ff"/><stop offset=".598" stop-color="#0000ff"/><stop offset=".619" stop-color="#004cff"/><stop offset=".650" stop-color="#00dbff"/><stop offset=".652" stop-color="#00e5f7"/><stop offset=".656" stop-color="#0ef7e9"/><stop offset=".659" stop-color="#15ffe2"/><stop offset=".675" stop-color="#3affbd"/><stop offset=".703" stop-color="#7bff7b"/><stop offset=".751" stop-color="#b2ff45"/><stop offset=".794" stop-color="#dbff1b"/><stop offset=".848" stop-color="#efff08"/><stop offset=".870" stop-color="#f7f600"/><stop offset=".893" stop-color="#ffec00"/><stop offset=".908" stop-color="#ffe600"/><stop offset=".998" stop-color="#ffb300"/><stop offset="1" stop-color="#ffb400"/></linearGradient><linearGradient id="h120" gradientUnits="userSpaceOnUse" x1="0" y1="140" x2="0" y2="324"><stop offset=".000" stop-color="#0026ff"/><stop offset=".305" stop-color="#0026ff"/><stop offset=".323" stop-color="#0000ff"/><stop offset=".330" stop-color="#0000ff"/><stop offset=".381" stop-color="#000080"/><stop offset=".559" stop-color="#000080"/><stop offset=".589" stop-color="#0000ff"/><stop offset=".593" stop-color="#0000ff"/><stop offset=".614" stop-color="#004cff"/><stop offset=".646" stop-color="#00dbff"/><stop offset=".648" stop-color="#00e5f7"/><stop offset=".652" stop-color="#0ef7e9"/><stop offset=".655" stop-color="#15ffe2"/><stop offset=".671" stop-color="#3affbd"/><stop offset=".701" stop-color="#7bff7b"/><stop offset=".750" stop-color="#b2ff45"/><stop offset=".793" stop-color="#dbff1b"/><stop offset=".847" stop-color="#efff08"/><stop offset=".869" stop-color="#f7f600"/><stop offset=".892" stop-color="#ffec00"/><stop offset=".908" stop-color="#ffe600"/><stop offset=".998" stop-color="#ffb300"/><stop offset="1" stop-color="#ffb400"/></linearGradient><linearGradient id="h121" gradientUnits="userSpaceOnUse" x1="0" y1="140" x2="0" y2="324"><stop offset=".000" stop-color="#0027ff"/><stop offset=".317" stop-color="#0027ff"/><stop offset=".336" stop-color="#0000ff"/><stop offset=".343" stop-color="#0000ff"/><stop offset=".393" stop-color="#000082"/><stop offset=".555" stop-color="#000082"/><stop offset=".584" stop-color="#0000ff"/><stop offset=".588" stop-color="#0000ff"/><stop offset=".608" stop-color="#004cff"/><stop offset=".641" stop-color="#00dbff"/><stop offset=".644" stop-color="#00e5f7"/><stop offset=".648" stop-color="#0ef7e9"/><stop offset=".651" stop-color="#15ffe2"/><stop offset=".668" stop-color="#3affbd"/><stop offset=".699" stop-color="#7bff7b"/><stop offset=".749" stop-color="#b2ff45"/><stop offset=".792" stop-color="#dbff1b"/><stop offset=".846" stop-color="#efff08"/><stop offset=".869" stop-color="#f7f600"/><stop offset=".891" stop-color="#ffec00"/><stop offset=".907" stop-color="#ffe600"/><stop offset=".998" stop-color="#ffb300"/><stop offset="1" stop-color="#ffb400"/></linearGradient><linearGradient id="h122" gradientUnits="userSpaceOnUse" x1="0" y1="140" x2="0" y2="324"><stop offset=".000" stop-color="#0029ff"/><stop offset=".329" stop-color="#0029ff"/><stop offset=".348" stop-color="#0000ff"/><stop offset=".355" stop-color="#0000ff"/><stop offset=".405" stop-color="#000084"/><stop offset=".551" stop-color="#000084"/><stop offset=".579" stop-color="#0000ff"/><stop offset=".582" stop-color="#0000ff"/><stop offset=".602" stop-color="#004cff"/><stop offset=".637" stop-color="#00dbff"/><stop offset=".640" stop-color="#00e5f7"/><stop offset=".644" stop-color="#0ef7e9"/><stop offset=".647" stop-color="#15ffe2"/><stop offset=".665" stop-color="#3affbd"/><stop offset=".697" stop-color="#7bff7b"/><stop offset=".748" stop-color="#b2ff45"/><stop offset=".791" stop-color="#dbff1b"/><stop offset=".845" stop-color="#efff08"/><stop offset=".868" stop-color="#f7f600"/><stop offset=".890" stop-color="#ffec00"/><stop offset=".906" stop-color="#ffe600"/><stop offset=".998" stop-color="#ffb300"/><stop offset="1" stop-color="#ffb400"/></linearGradient><linearGradient id="h123" gradientUnits="userSpaceOnUse" x1="0" y1="140" x2="0" y2="324"><stop offset=".000" stop-color="#002aff"/><stop offset=".342" stop-color="#002aff"/><stop offset=".362" stop-color="#0000ff"/><stop offset=".369" stop-color="#0000ff"/><stop offset=".418" stop-color="#000088"/><stop offset=".546" stop-color="#000088"/><stop offset=".572" stop-color="#0000ff"/><stop offset=".576" stop-color="#0000ff"/><stop offset=".595" stop-color="#004cff"/><stop offset=".632" stop-color="#00dbff"/><stop offset=".635" stop-color="#00e5f7"/><stop offset=".639" stop-color="#0ef7e9"/><stop offset=".643" stop-color="#15ffe2"/><stop offset=".661" stop-color="#3affbd"/><stop offset=".695" stop-color="#7bff7b"/><stop offset=".747" stop-color="#b2ff45"/><stop offset=".790" stop-color="#dbff1b"/><stop offset=".844" stop-color="#efff08"/><stop offset=".867" stop-color="#f7f600"/><stop offset=".889" stop-color="#ffec00"/><stop offset=".905" stop-color="#ffe600"/><stop offset=".998" stop-color="#ffb300"/><stop offset="1" stop-color="#ffb400"/></linearGradient><linearGradient id="h124" gradientUnits="userSpaceOnUse" x1="0" y1="140" x2="0" y2="324"><stop offset=".000" stop-color="#002aff"/><stop offset=".355" stop-color="#002aff"/><stop offset=".376" stop-color="#0000ff"/><stop offset=".384" stop-color="#0000ff"/><stop offset=".431" stop-color="#000091"/><stop offset=".538" stop-color="#000091"/><stop offset=".563" stop-color="#0000ff"/><stop offset=".567" stop-color="#0000ff"/><stop offset=".587" stop-color="#004cff"/><stop offset=".626" stop-color="#00dbff"/><stop offset=".629" stop-color="#00e5f7"/><stop offset=".634" stop-color="#0ef7e9"/><stop offset=".638" stop-color="#15ffe2"/><stop offset=".657" stop-color="#3affbd"/><stop offset=".692" stop-color="#7bff7b"/><stop offset=".745" stop-color="#b2ff45"/><stop offset=".789" stop-color="#dbff1b"/><stop offset=".842" stop-color="#efff08"/><stop offset=".865" stop-color="#f7f600"/><stop offset=".888" stop-color="#ffec00"/><stop offset=".904" stop-color="#ffe600"/><stop offset=".998" stop-color="#ffb300"/><stop offset="1" stop-color="#ffb400"/></linearGradient><linearGradient id="h125" gradientUnits="userSpaceOnUse" x1="0" y1="140" x2="0" y2="324"><stop offset=".000" stop-color="#002aff"/><stop offset=".367" stop-color="#002aff"/><stop offset=".390" stop-color="#0000ff"/><stop offset=".398" stop-color="#0000ff"/><stop offset=".443" stop-color="#0000a1"/><stop offset=".529" stop-color="#0000a1"/><stop offset=".552" stop-color="#0000ff"/><stop offset=".557" stop-color="#0000ff"/><stop offset=".578" stop-color="#004cff"/><stop offset=".621" stop-color="#00dbff"/><stop offset=".624" stop-color="#00e5f7"/><stop offset=".629" stop-color="#0ef7e9"/><stop offset=".632" stop-color="#15ffe2"/><stop offset=".653" stop-color="#3affbd"/><stop offset=".689" stop-color="#7bff7b"/><stop offset=".744" stop-color="#b2ff45"/><stop offset=".788" stop-color="#dbff1b"/><stop offset=".842" stop-color="#efff08"/><stop offset=".864" stop-color="#f7f600"/><stop offset=".887" stop-color="#ffec00"/><stop offset=".903" stop-color="#ffe600"/><stop offset=".998" stop-color="#ffb300"/><stop offset="1" stop-color="#ffb400"/></linearGradient><linearGradient id="h126" gradientUnits="userSpaceOnUse" x1="0" y1="140" x2="0" y2="324"><stop offset=".000" stop-color="#002aff"/><stop offset=".375" stop-color="#002aff"/><stop offset=".403" stop-color="#0000ff"/><stop offset=".414" stop-color="#0000ff"/><stop offset=".451" stop-color="#0000c0"/><stop offset=".518" stop-color="#0000c0"/><stop offset=".537" stop-color="#0000ff"/><stop offset=".542" stop-color="#0000ff"/><stop offset=".567" stop-color="#004cff"/><stop offset=".614" stop-color="#00dbff"/><stop offset=".618" stop-color="#00e5f7"/><stop offset=".623" stop-color="#0ef7e9"/><stop offset=".627" stop-color="#15ffe2"/><stop offset=".649" stop-color="#3affbd"/><stop offset=".687" stop-color="#7bff7b"/><stop offset=".743" stop-color="#b2ff45"/><stop offset=".788" stop-color="#dbff1b"/><stop offset=".842" stop-color="#efff08"/><stop offset=".864" stop-color="#f7f600"/><stop offset=".887" stop-color="#ffec00"/><stop offset=".903" stop-color="#ffe600"/><stop offset=".998" stop-color="#ffb300"/><stop offset="1" stop-color="#ffb400"/></linearGradient><linearGradient id="h127" gradientUnits="userSpaceOnUse" x1="0" y1="140" x2="0" y2="324"><stop offset=".000" stop-color="#002aff"/><stop offset=".376" stop-color="#002aff"/><stop offset=".414" stop-color="#0000ff"/><stop offset=".427" stop-color="#0000ff"/><stop offset=".452" stop-color="#0000e0"/><stop offset=".507" stop-color="#0000e0"/><stop offset=".518" stop-color="#0000ff"/><stop offset=".525" stop-color="#0000ff"/><stop offset=".556" stop-color="#004cff"/><stop offset=".608" stop-color="#00dbff"/><stop offset=".612" stop-color="#00e5f7"/><stop offset=".618" stop-color="#0ef7e9"/><stop offset=".623" stop-color="#15ffe2"/><stop offset=".645" stop-color="#3affbd"/><stop offset=".684" stop-color="#7bff7b"/><stop offset=".742" stop-color="#b2ff45"/><stop offset=".788" stop-color="#dbff1b"/><stop offset=".841" stop-color="#efff08"/><stop offset=".864" stop-color="#f7f600"/><stop offset=".887" stop-color="#ffec00"/><stop offset=".902" stop-color="#ffe600"/><stop offset=".998" stop-color="#ffb300"/><stop offset="1" stop-color="#ffb400"/></linearGradient><linearGradient id="h128" gradientUnits="userSpaceOnUse" x1="0" y1="140" x2="0" y2="324"><stop offset=".000" stop-color="#002aff"/><stop offset=".360" stop-color="#002aff"/><stop offset=".416" stop-color="#0000ff"/><stop offset=".503" stop-color="#0000ff"/><stop offset=".542" stop-color="#004cff"/><stop offset=".603" stop-color="#00dbff"/><stop offset=".607" stop-color="#00e5f7"/><stop offset=".614" stop-color="#0ef7e9"/><stop offset=".619" stop-color="#15ffe2"/><stop offset=".642" stop-color="#3affbd"/><stop offset=".682" stop-color="#7bff7b"/><stop offset=".741" stop-color="#b2ff45"/><stop offset=".787" stop-color="#dbff1b"/><stop offset=".840" stop-color="#efff08"/><stop offset=".863" stop-color="#f7f600"/><stop offset=".886" stop-color="#ffec00"/><stop offset=".902" stop-color="#ffe600"/><stop offset=".998" stop-color="#ffb300"/><stop offset="1" stop-color="#ffb400"/></linearGradient><linearGradient id="h129" gradientUnits="userSpaceOnUse" x1="0" y1="140" x2="0" y2="324"><stop offset=".000" stop-color="#002aff"/><stop offset=".344" stop-color="#002aff"/><stop offset=".420" stop-color="#000eff"/><stop offset=".483" stop-color="#000eff"/><stop offset=".528" stop-color="#004cff"/><stop offset=".597" stop-color="#00dbff"/><stop offset=".602" stop-color="#00e5f7"/><stop offset=".610" stop-color="#0ef7e9"/><stop offset=".615" stop-color="#15ffe2"/><stop offset=".638" stop-color="#3affbd"/><stop offset=".680" stop-color="#7bff7b"/><stop offset=".740" stop-color="#b2ff45"/><stop offset=".786" stop-color="#dbff1b"/><stop offset=".839" stop-color="#efff08"/><stop offset=".862" stop-color="#f7f600"/><stop offset=".885" stop-color="#ffec00"/><stop offset=".901" stop-color="#ffe600"/><stop offset=".998" stop-color="#ffb300"/><stop offset="1" stop-color="#ffb400"/></linearGradient><linearGradient id="h130" gradientUnits="userSpaceOnUse" x1="0" y1="140" x2="0" y2="324"><stop offset=".000" stop-color="#0029ff"/><stop offset=".321" stop-color="#0029ff"/><stop offset=".397" stop-color="#001fff"/><stop offset=".468" stop-color="#001fff"/><stop offset=".515" stop-color="#004cff"/><stop offset=".591" stop-color="#00dbff"/><stop offset=".597" stop-color="#00e5f7"/><stop offset=".606" stop-color="#0ef7e9"/><stop offset=".611" stop-color="#15ffe2"/><stop offset=".635" stop-color="#3affbd"/><stop offset=".678" stop-color="#7bff7b"/><stop offset=".738" stop-color="#b2ff45"/><stop offset=".785" stop-color="#dbff1b"/><stop offset=".838" stop-color="#efff08"/><stop offset=".861" stop-color="#f7f600"/><stop offset=".884" stop-color="#ffec00"/><stop offset=".900" stop-color="#ffe600"/><stop offset=".998" stop-color="#ffb300"/><stop offset="1" stop-color="#ffb400"/></linearGradient><linearGradient id="h131" gradientUnits="userSpaceOnUse" x1="0" y1="140" x2="0" y2="324"><stop offset=".000" stop-color="#0026ff"/><stop offset=".292" stop-color="#0026ff"/><stop offset=".368" stop-color="#0029ff"/><stop offset=".450" stop-color="#0029ff"/><stop offset=".502" stop-color="#004cff"/><stop offset=".586" stop-color="#00dbff"/><stop offset=".592" stop-color="#00e5f7"/><stop offset=".602" stop-color="#0ef7e9"/><stop offset=".606" stop-color="#15ffe2"/><stop offset=".632" stop-color="#3affbd"/><stop offset=".677" stop-color="#7bff7b"/><stop offset=".736" stop-color="#b2ff45"/><stop offset=".784" stop-color="#dbff1b"/><stop offset=".838" stop-color="#efff08"/><stop offset=".861" stop-color="#f7f600"/><stop offset=".884" stop-color="#ffec00"/><stop offset=".899" stop-color="#ffe600"/><stop offset=".998" stop-color="#ffb300"/><stop offset="1" stop-color="#ffb400"/></linearGradient><linearGradient id="h132" gradientUnits="userSpaceOnUse" x1="0" y1="140" x2="0" y2="324"><stop offset=".000" stop-color="#0023ff"/><stop offset=".264" stop-color="#0023ff"/><stop offset=".340" stop-color="#0033ff"/><stop offset=".432" stop-color="#0033ff"/><stop offset=".490" stop-color="#004cff"/><stop offset=".580" stop-color="#00dbff"/><stop offset=".586" stop-color="#00e5f7"/><stop offset=".597" stop-color="#0ef7e9"/><stop offset=".602" stop-color="#15ffe2"/><stop offset=".628" stop-color="#3affbd"/><stop offset=".675" stop-color="#7bff7b"/><stop offset=".735" stop-color="#b2ff45"/><stop offset=".783" stop-color="#dbff1b"/><stop offset=".837" stop-color="#efff08"/><stop offset=".860" stop-color="#f7f600"/><stop offset=".883" stop-color="#ffec00"/><stop offset=".898" stop-color="#ffe600"/><stop offset=".998" stop-color="#ffb300"/><stop offset="1" stop-color="#ffb400"/></linearGradient><linearGradient id="h133" gradientUnits="userSpaceOnUse" x1="0" y1="140" x2="0" y2="324"><stop offset=".000" stop-color="#0021ff"/><stop offset=".241" stop-color="#0021ff"/><stop offset=".317" stop-color="#0038ff"/><stop offset=".416" stop-color="#0038ff"/><stop offset=".481" stop-color="#004cff"/><stop offset=".575" stop-color="#00dbff"/><stop offset=".582" stop-color="#00e5f7"/><stop offset=".593" stop-color="#0ef7e9"/><stop offset=".598" stop-color="#15ffe2"/><stop offset=".625" stop-color="#3affbd"/><stop offset=".673" stop-color="#7bff7b"/><stop offset=".733" stop-color="#b2ff45"/><stop offset=".782" stop-color="#dbff1b"/><stop offset=".836" stop-color="#efff08"/><stop offset=".859" stop-color="#f7f600"/><stop offset=".882" stop-color="#ffec00"/><stop offset=".898" stop-color="#ffe600"/><stop offset=".998" stop-color="#ffb300"/><stop offset="1" stop-color="#ffb400"/></linearGradient><linearGradient id="h134" gradientUnits="userSpaceOnUse" x1="0" y1="140" x2="0" y2="324"><stop offset=".000" stop-color="#001dff"/><stop offset=".216" stop-color="#001dff"/><stop offset=".292" stop-color="#003aff"/><stop offset=".393" stop-color="#003aff"/><stop offset=".472" stop-color="#004cff"/><stop offset=".570" stop-color="#00dbff"/><stop offset=".577" stop-color="#00e5f7"/><stop offset=".588" stop-color="#0ef7e9"/><stop offset=".593" stop-color="#15ffe2"/><stop offset=".621" stop-color="#3affbd"/><stop offset=".670" stop-color="#7bff7b"/><stop offset=".731" stop-color="#b2ff45"/><stop offset=".781" stop-color="#dbff1b"/><stop offset=".835" stop-color="#efff08"/><stop offset=".858" stop-color="#f7f600"/><stop offset=".881" stop-color="#ffec00"/><stop offset=".897" stop-color="#ffe600"/><stop offset=".998" stop-color="#ffb300"/><stop offset="1" stop-color="#ffb400"/></linearGradient><linearGradient id="h135" gradientUnits="userSpaceOnUse" x1="0" y1="140" x2="0" y2="324"><stop offset=".000" stop-color="#0018ff"/><stop offset=".184" stop-color="#0018ff"/><stop offset=".260" stop-color="#003bff"/><stop offset=".363" stop-color="#003bff"/><stop offset=".460" stop-color="#004cff"/><stop offset=".562" stop-color="#00dbff"/><stop offset=".570" stop-color="#00e5f7"/><stop offset=".582" stop-color="#0ef7e9"/><stop offset=".587" stop-color="#15ffe2"/><stop offset=".616" stop-color="#3affbd"/><stop offset=".667" stop-color="#7bff7b"/><stop offset=".729" stop-color="#b2ff45"/><stop offset=".780" stop-color="#dbff1b"/><stop offset=".834" stop-color="#efff08"/><stop offset=".857" stop-color="#f7f600"/><stop offset=".880" stop-color="#ffec00"/><stop offset=".896" stop-color="#ffe600"/><stop offset=".998" stop-color="#ffb300"/><stop offset="1" stop-color="#ffb400"/></linearGradient><linearGradient id="h136" gradientUnits="userSpaceOnUse" x1="0" y1="140" x2="0" y2="324"><stop offset=".000" stop-color="#0016ff"/><stop offset=".174" stop-color="#0016ff"/><stop offset=".250" stop-color="#003cff"/><stop offset=".349" stop-color="#003cff"/><stop offset=".451" stop-color="#004cff"/><stop offset=".557" stop-color="#00dbff"/><stop offset=".564" stop-color="#00e5f7"/><stop offset=".577" stop-color="#0ef7e9"/><stop offset=".582" stop-color="#15ffe2"/><stop offset=".612" stop-color="#3affbd"/><stop offset=".665" stop-color="#7bff7b"/><stop offset=".728" stop-color="#b2ff45"/><stop offset=".780" stop-color="#dbff1b"/><stop offset=".834" stop-color="#efff08"/><stop offset=".857" stop-color="#f7f600"/><stop offset=".880" stop-color="#ffec00"/><stop offset=".895" stop-color="#ffe600"/><stop offset=".998" stop-color="#ffb300"/><stop offset="1" stop-color="#ffb400"/></linearGradient><linearGradient id="h137" gradientUnits="userSpaceOnUse" x1="0" y1="140" x2="0" y2="324"><stop offset=".000" stop-color="#0016ff"/><stop offset=".174" stop-color="#0016ff"/><stop offset=".250" stop-color="#003cff"/><stop offset=".343" stop-color="#003cff"/><stop offset=".443" stop-color="#004cff"/><stop offset=".552" stop-color="#00dbff"/><stop offset=".560" stop-color="#00e5f7"/><stop offset=".573" stop-color="#0ef7e9"/><stop offset=".578" stop-color="#15ffe2"/><stop offset=".609" stop-color="#3affbd"/><stop offset=".664" stop-color="#7bff7b"/><stop offset=".727" stop-color="#b2ff45"/><stop offset=".780" stop-color="#dbff1b"/><stop offset=".834" stop-color="#efff08"/><stop offset=".857" stop-color="#f7f600"/><stop offset=".880" stop-color="#ffec00"/><stop offset=".895" stop-color="#ffe600"/><stop offset=".998" stop-color="#ffb300"/><stop offset="1" stop-color="#ffb400"/></linearGradient><linearGradient id="h138" gradientUnits="userSpaceOnUse" x1="0" y1="140" x2="0" y2="324"><stop offset=".000" stop-color="#0016ff"/><stop offset=".174" stop-color="#0016ff"/><stop offset=".250" stop-color="#003cff"/><stop offset=".337" stop-color="#003cff"/><stop offset=".435" stop-color="#004cff"/><stop offset=".547" stop-color="#00dbff"/><stop offset=".555" stop-color="#00e5f7"/><stop offset=".568" stop-color="#0ef7e9"/><stop offset=".574" stop-color="#15ffe2"/><stop offset=".606" stop-color="#3affbd"/><stop offset=".663" stop-color="#7bff7b"/><stop offset=".726" stop-color="#b2ff45"/><stop offset=".780" stop-color="#dbff1b"/><stop offset=".834" stop-color="#efff08"/><stop offset=".857" stop-color="#f7f600"/><stop offset=".880" stop-color="#ffec00"/><stop offset=".895" stop-color="#ffe600"/><stop offset=".998" stop-color="#ffb300"/><stop offset="1" stop-color="#ffb400"/></linearGradient><linearGradient id="h139" gradientUnits="userSpaceOnUse" x1="0" y1="140" x2="0" y2="324"><stop offset=".000" stop-color="#001eff"/><stop offset=".162" stop-color="#001eff"/><stop offset=".238" stop-color="#003eff"/><stop offset=".331" stop-color="#003eff"/><stop offset=".430" stop-color="#004cff"/><stop offset=".544" stop-color="#00dbff"/><stop offset=".552" stop-color="#00e5f7"/><stop offset=".566" stop-color="#0ef7e9"/><stop offset=".572" stop-color="#15ffe2"/><stop offset=".604" stop-color="#3affbd"/><stop offset=".662" stop-color="#7bff7b"/><stop offset=".725" stop-color="#b2ff45"/><stop offset=".779" stop-color="#dbff1b"/><stop offset=".833" stop-color="#efff08"/><stop offset=".856" stop-color="#f7f600"/><stop offset=".879" stop-color="#ffec00"/><stop offset=".895" stop-color="#ffe600"/><stop offset=".998" stop-color="#ffb300"/><stop offset="1" stop-color="#ffb400"/></linearGradient><linearGradient id="h140" gradientUnits="userSpaceOnUse" x1="0" y1="140" x2="0" y2="324"><stop offset=".000" stop-color="#0026ff"/><stop offset=".149" stop-color="#0026ff"/><stop offset=".225" stop-color="#0040ff"/><stop offset=".325" stop-color="#0040ff"/><stop offset=".426" stop-color="#004cff"/><stop offset=".541" stop-color="#00dbff"/><stop offset=".550" stop-color="#00e5f7"/><stop offset=".563" stop-color="#0ef7e9"/><stop offset=".569" stop-color="#15ffe2"/><stop offset=".602" stop-color="#3affbd"/><stop offset=".660" stop-color="#7bff7b"/><stop offset=".724" stop-color="#b2ff45"/><stop offset=".778" stop-color="#dbff1b"/><stop offset=".832" stop-color="#efff08"/><stop offset=".855" stop-color="#f7f600"/><stop offset=".879" stop-color="#ffec00"/><stop offset=".894" stop-color="#ffe600"/><stop offset=".998" stop-color="#ffb300"/><stop offset="1" stop-color="#ffb400"/></linearGradient><linearGradient id="h141" gradientUnits="userSpaceOnUse" x1="0" y1="140" x2="0" y2="324"><stop offset=".000" stop-color="#002fff"/><stop offset=".137" stop-color="#002fff"/><stop offset=".213" stop-color="#0043ff"/><stop offset=".318" stop-color="#0043ff"/><stop offset=".421" stop-color="#004cff"/><stop offset=".539" stop-color="#00dbff"/><stop offset=".547" stop-color="#00e5f7"/><stop offset=".561" stop-color="#0ef7e9"/><stop offset=".567" stop-color="#15ffe2"/><stop offset=".600" stop-color="#3affbd"/><stop offset=".658" stop-color="#7bff7b"/><stop offset=".723" stop-color="#b2ff45"/><stop offset=".778" stop-color="#dbff1b"/><stop offset=".832" stop-color="#efff08"/><stop offset=".855" stop-color="#f7f600"/><stop offset=".878" stop-color="#ffec00"/><stop offset=".893" stop-color="#ffe600"/><stop offset=".998" stop-color="#ffb300"/><stop offset="1" stop-color="#ffb400"/></linearGradient><linearGradient id="h142" gradientUnits="userSpaceOnUse" x1="0" y1="140" x2="0" y2="324"><stop offset=".000" stop-color="#0035ff"/><stop offset=".129" stop-color="#0035ff"/><stop offset=".205" stop-color="#0045ff"/><stop offset=".314" stop-color="#0045ff"/><stop offset=".417" stop-color="#004cff"/><stop offset=".536" stop-color="#00dbff"/><stop offset=".545" stop-color="#00e5f7"/><stop offset=".559" stop-color="#0ef7e9"/><stop offset=".565" stop-color="#15ffe2"/><stop offset=".598" stop-color="#3affbd"/><stop offset=".657" stop-color="#7bff7b"/><stop offset=".722" stop-color="#b2ff45"/><stop offset=".777" stop-color="#dbff1b"/><stop offset=".831" stop-color="#efff08"/><stop offset=".854" stop-color="#f7f600"/><stop offset=".877" stop-color="#ffec00"/><stop offset=".893" stop-color="#ffe600"/><stop offset=".998" stop-color="#ffb300"/><stop offset="1" stop-color="#ffb400"/></linearGradient><linearGradient id="h143" gradientUnits="userSpaceOnUse" x1="0" y1="140" x2="0" y2="324"><stop offset=".000" stop-color="#0039ff"/><stop offset=".126" stop-color="#0039ff"/><stop offset=".202" stop-color="#0046ff"/><stop offset=".311" stop-color="#0046ff"/><stop offset=".414" stop-color="#004cff"/><stop offset=".535" stop-color="#00dbff"/><stop offset=".543" stop-color="#00e5f7"/><stop offset=".558" stop-color="#0ef7e9"/><stop offset=".564" stop-color="#15ffe2"/><stop offset=".597" stop-color="#3affbd"/><stop offset=".656" stop-color="#7bff7b"/><stop offset=".722" stop-color="#b2ff45"/><stop offset=".777" stop-color="#dbff1b"/><stop offset=".831" stop-color="#efff08"/><stop offset=".854" stop-color="#f7f600"/><stop offset=".877" stop-color="#ffec00"/><stop offset=".893" stop-color="#ffe600"/><stop offset=".998" stop-color="#ffb300"/><stop offset="1" stop-color="#ffb400"/></linearGradient><linearGradient id="h144" gradientUnits="userSpaceOnUse" x1="0" y1="140" x2="0" y2="324"><stop offset=".000" stop-color="#003eff"/><stop offset=".124" stop-color="#003eff"/><stop offset=".200" stop-color="#0047ff"/><stop offset=".308" stop-color="#0047ff"/><stop offset=".412" stop-color="#004cff"/><stop offset=".533" stop-color="#00dbff"/><stop offset=".542" stop-color="#00e5f7"/><stop offset=".556" stop-color="#0ef7e9"/><stop offset=".562" stop-color="#15ffe2"/><stop offset=".596" stop-color="#3affbd"/><stop offset=".654" stop-color="#7bff7b"/><stop offset=".721" stop-color="#b2ff45"/><stop offset=".777" stop-color="#dbff1b"/><stop offset=".831" stop-color="#efff08"/><stop offset=".854" stop-color="#f7f600"/><stop offset=".877" stop-color="#ffec00"/><stop offset=".893" stop-color="#ffe600"/><stop offset=".998" stop-color="#ffb300"/><stop offset="1" stop-color="#ffb400"/></linearGradient><linearGradient id="h145" gradientUnits="userSpaceOnUse" x1="0" y1="140" x2="0" y2="324"><stop offset=".000" stop-color="#0042ff"/><stop offset=".121" stop-color="#0042ff"/><stop offset=".197" stop-color="#0048ff"/><stop offset=".306" stop-color="#0048ff"/><stop offset=".409" stop-color="#004cff"/><stop offset=".532" stop-color="#00dbff"/><stop offset=".540" stop-color="#00e5f7"/><stop offset=".555" stop-color="#0ef7e9"/><stop offset=".561" stop-color="#15ffe2"/><stop offset=".594" stop-color="#3affbd"/><stop offset=".653" stop-color="#7bff7b"/><stop offset=".720" stop-color="#b2ff45"/><stop offset=".777" stop-color="#dbff1b"/><stop offset=".831" stop-color="#efff08"/><stop offset=".854" stop-color="#f7f600"/><stop offset=".877" stop-color="#ffec00"/><stop offset=".893" stop-color="#ffe600"/><stop offset=".998" stop-color="#ffb300"/><stop offset="1" stop-color="#ffb400"/></linearGradient><linearGradient id="h146" gradientUnits="userSpaceOnUse" x1="0" y1="140" x2="0" y2="324"><stop offset=".000" stop-color="#0000ff"/><stop offset=".380" stop-color="#0000ff"/><stop offset=".444" stop-color="#004cff"/><stop offset=".537" stop-color="#00dbff"/><stop offset=".543" stop-color="#00e5f7"/><stop offset=".554" stop-color="#0ef7e9"/><stop offset=".560" stop-color="#15ffe2"/><stop offset=".593" stop-color="#3affbd"/><stop offset=".652" stop-color="#7bff7b"/><stop offset=".720" stop-color="#b2ff45"/><stop offset=".777" stop-color="#dbff1b"/><stop offset=".831" stop-color="#efff08"/><stop offset=".854" stop-color="#f7f600"/><stop offset=".877" stop-color="#ffec00"/><stop offset=".893" stop-color="#ffe600"/><stop offset=".998" stop-color="#ffb300"/><stop offset="1" stop-color="#ffb400"/></linearGradient><linearGradient id="h147" gradientUnits="userSpaceOnUse" x1="0" y1="140" x2="0" y2="324"><stop offset=".000" stop-color="#0000ff"/><stop offset=".373" stop-color="#0000ff"/><stop offset=".442" stop-color="#004cff"/><stop offset=".536" stop-color="#00dbff"/><stop offset=".543" stop-color="#00e5f7"/><stop offset=".554" stop-color="#0ef7e9"/><stop offset=".560" stop-color="#15ffe2"/><stop offset=".593" stop-color="#3affbd"/><stop offset=".652" stop-color="#7bff7b"/><stop offset=".720" stop-color="#b2ff45"/><stop offset=".777" stop-color="#dbff1b"/><stop offset=".831" stop-color="#efff08"/><stop offset=".854" stop-color="#f7f600"/><stop offset=".877" stop-color="#ffec00"/><stop offset=".893" stop-color="#ffe600"/><stop offset=".998" stop-color="#ffb300"/><stop offset="1" stop-color="#ffb400"/></linearGradient><linearGradient id="h148" gradientUnits="userSpaceOnUse" x1="0" y1="140" x2="0" y2="324"><stop offset=".000" stop-color="#0000ff"/><stop offset=".365" stop-color="#0000ff"/><stop offset=".439" stop-color="#004cff"/><stop offset=".536" stop-color="#00dbff"/><stop offset=".543" stop-color="#00e5f7"/><stop offset=".554" stop-color="#0ef7e9"/><stop offset=".560" stop-color="#15ffe2"/><stop offset=".593" stop-color="#3affbd"/><stop offset=".652" stop-color="#7bff7b"/><stop offset=".720" stop-color="#b2ff45"/><stop offset=".777" stop-color="#dbff1b"/><stop offset=".831" stop-color="#efff08"/><stop offset=".854" stop-color="#f7f600"/><stop offset=".877" stop-color="#ffec00"/><stop offset=".893" stop-color="#ffe600"/><stop offset=".998" stop-color="#ffb300"/><stop offset="1" stop-color="#ffb400"/></linearGradient><linearGradient id="h149" gradientUnits="userSpaceOnUse" x1="0" y1="140" x2="0" y2="324"><stop offset=".000" stop-color="#0000ff"/><stop offset=".354" stop-color="#0000ff"/><stop offset=".435" stop-color="#004cff"/><stop offset=".535" stop-color="#00dbff"/><stop offset=".542" stop-color="#00e5f7"/><stop offset=".554" stop-color="#0ef7e9"/><stop offset=".560" stop-color="#15ffe2"/><stop offset=".593" stop-color="#3affbd"/><stop offset=".652" stop-color="#7bff7b"/><stop offset=".720" stop-color="#b2ff45"/><stop offset=".777" stop-color="#dbff1b"/><stop offset=".831" stop-color="#efff08"/><stop offset=".854" stop-color="#f7f600"/><stop offset=".877" stop-color="#ffec00"/><stop offset=".893" stop-color="#ffe600"/><stop offset=".998" stop-color="#ffb300"/><stop offset="1" stop-color="#ffb400"/></linearGradient><linearGradient id="h150" gradientUnits="userSpaceOnUse" x1="0" y1="140" x2="0" y2="324"><stop offset=".000" stop-color="#0011ff"/><stop offset=".337" stop-color="#0011ff"/><stop offset=".420" stop-color="#004cff"/><stop offset=".532" stop-color="#00dbff"/><stop offset=".540" stop-color="#00e5f7"/><stop offset=".554" stop-color="#0ef7e9"/><stop offset=".560" stop-color="#15ffe2"/><stop offset=".593" stop-color="#3affbd"/><stop offset=".651" stop-color="#7bff7b"/><stop offset=".720" stop-color="#b2ff45"/><stop offset=".777" stop-color="#dbff1b"/><stop offset=".831" stop-color="#efff08"/><stop offset=".854" stop-color="#f7f600"/><stop offset=".877" stop-color="#ffec00"/><stop offset=".893" stop-color="#ffe600"/><stop offset=".998" stop-color="#ffb300"/><stop offset="1" stop-color="#ffb400"/></linearGradient><linearGradient id="h151" gradientUnits="userSpaceOnUse" x1="0" y1="140" x2="0" y2="324"><stop offset=".000" stop-color="#0023ff"/><stop offset=".320" stop-color="#0023ff"/><stop offset=".405" stop-color="#004cff"/><stop offset=".529" stop-color="#00dbff"/><stop offset=".538" stop-color="#00e5f7"/><stop offset=".553" stop-color="#0ef7e9"/><stop offset=".559" stop-color="#15ffe2"/><stop offset=".592" stop-color="#3affbd"/><stop offset=".650" stop-color="#7bff7b"/><stop offset=".720" stop-color="#b2ff45"/><stop offset=".777" stop-color="#dbff1b"/><stop offset=".831" stop-color="#efff08"/><stop offset=".854" stop-color="#f7f600"/><stop offset=".877" stop-color="#ffec00"/><stop offset=".893" stop-color="#ffe600"/><stop offset=".998" stop-color="#ffb300"/><stop offset="1" stop-color="#ffb400"/></linearGradient><linearGradient id="h152" gradientUnits="userSpaceOnUse" x1="0" y1="140" x2="0" y2="324"><stop offset=".000" stop-color="#0033ff"/><stop offset=".304" stop-color="#0033ff"/><stop offset=".390" stop-color="#004cff"/><stop offset=".526" stop-color="#00dbff"/><stop offset=".536" stop-color="#00e5f7"/><stop offset=".552" stop-color="#0ef7e9"/><stop offset=".558" stop-color="#15ffe2"/><stop offset=".591" stop-color="#3affbd"/><stop offset=".649" stop-color="#7bff7b"/><stop offset=".720" stop-color="#b2ff45"/><stop offset=".777" stop-color="#dbff1b"/><stop offset=".831" stop-color="#efff08"/><stop offset=".854" stop-color="#f7f600"/><stop offset=".877" stop-color="#ffec00"/><stop offset=".893" stop-color="#ffe600"/><stop offset=".998" stop-color="#ffb300"/><stop offset="1" stop-color="#ffb400"/></linearGradient><linearGradient id="h153" gradientUnits="userSpaceOnUse" x1="0" y1="140" x2="0" y2="324"><stop offset=".000" stop-color="#0034ff"/><stop offset=".115" stop-color="#0034ff"/><stop offset=".191" stop-color="#0035ff"/><stop offset=".295" stop-color="#0035ff"/><stop offset=".380" stop-color="#004cff"/><stop offset=".524" stop-color="#00dbff"/><stop offset=".534" stop-color="#00e5f7"/><stop offset=".552" stop-color="#0ef7e9"/><stop offset=".558" stop-color="#15ffe2"/><stop offset=".590" stop-color="#3affbd"/><stop offset=".649" stop-color="#7bff7b"/><stop offset=".720" stop-color="#b2ff45"/><stop offset=".777" stop-color="#dbff1b"/><stop offset=".831" stop-color="#efff08"/><stop offset=".854" stop-color="#f7f600"/><stop offset=".877" stop-color="#ffec00"/><stop offset=".893" stop-color="#ffe600"/><stop offset=".998" stop-color="#ffb300"/><stop offset="1" stop-color="#ffb400"/></linearGradient><linearGradient id="h154" gradientUnits="userSpaceOnUse" x1="0" y1="140" x2="0" y2="324"><stop offset=".000" stop-color="#0035ff"/><stop offset=".111" stop-color="#0035ff"/><stop offset=".187" stop-color="#0036ff"/><stop offset=".287" stop-color="#0036ff"/><stop offset=".370" stop-color="#004cff"/><stop offset=".522" stop-color="#00dbff"/><stop offset=".533" stop-color="#00e5f7"/><stop offset=".551" stop-color="#0ef7e9"/><stop offset=".557" stop-color="#15ffe2"/><stop offset=".590" stop-color="#3affbd"/><stop offset=".648" stop-color="#7bff7b"/><stop offset=".720" stop-color="#b2ff45"/><stop offset=".777" stop-color="#dbff1b"/><stop offset=".831" stop-color="#efff08"/><stop offset=".854" stop-color="#f7f600"/><stop offset=".877" stop-color="#ffec00"/><stop offset=".893" stop-color="#ffe600"/><stop offset=".998" stop-color="#ffb300"/><stop offset="1" stop-color="#ffb400"/></linearGradient><linearGradient id="h155" gradientUnits="userSpaceOnUse" x1="0" y1="140" x2="0" y2="324"><stop offset=".000" stop-color="#0036ff"/><stop offset=".107" stop-color="#0036ff"/><stop offset=".183" stop-color="#0038ff"/><stop offset=".279" stop-color="#0038ff"/><stop offset=".360" stop-color="#004cff"/><stop offset=".520" stop-color="#00dbff"/><stop offset=".531" stop-color="#00e5f7"/><stop offset=".550" stop-color="#0ef7e9"/><stop offset=".556" stop-color="#15ffe2"/><stop offset=".589" stop-color="#3affbd"/><stop offset=".648" stop-color="#7bff7b"/><stop offset=".720" stop-color="#b2ff45"/><stop offset=".777" stop-color="#dbff1b"/><stop offset=".831" stop-color="#efff08"/><stop offset=".854" stop-color="#f7f600"/><stop offset=".877" stop-color="#ffec00"/><stop offset=".893" stop-color="#ffe600"/><stop offset=".998" stop-color="#ffb300"/><stop offset="1" stop-color="#ffb400"/></linearGradient><linearGradient id="h156" gradientUnits="userSpaceOnUse" x1="0" y1="140" x2="0" y2="324"><stop offset=".000" stop-color="#0037ff"/><stop offset=".103" stop-color="#0037ff"/><stop offset=".179" stop-color="#003aff"/><stop offset=".271" stop-color="#003aff"/><stop offset=".349" stop-color="#004cff"/><stop offset=".518" stop-color="#00dbff"/><stop offset=".530" stop-color="#00e5f7"/><stop offset=".550" stop-color="#0ef7e9"/><stop offset=".556" stop-color="#15ffe2"/><stop offset=".589" stop-color="#3affbd"/><stop offset=".647" stop-color="#7bff7b"/><stop offset=".720" stop-color="#b2ff45"/><stop offset=".777" stop-color="#dbff1b"/><stop offset=".831" stop-color="#efff08"/><stop offset=".854" stop-color="#f7f600"/><stop offset=".877" stop-color="#ffec00"/><stop offset=".893" stop-color="#ffe600"/><stop offset=".998" stop-color="#ffb300"/><stop offset="1" stop-color="#ffb400"/></linearGradient><linearGradient id="h157" gradientUnits="userSpaceOnUse" x1="0" y1="140" x2="0" y2="324"><stop offset=".000" stop-color="#0038ff"/><stop offset=".099" stop-color="#0038ff"/><stop offset=".175" stop-color="#003bff"/><stop offset=".262" stop-color="#003bff"/><stop offset=".339" stop-color="#004cff"/><stop offset=".515" stop-color="#00dbff"/><stop offset=".528" stop-color="#00e5f7"/><stop offset=".549" stop-color="#0ef7e9"/><stop offset=".555" stop-color="#15ffe2"/><stop offset=".588" stop-color="#3affbd"/><stop offset=".647" stop-color="#7bff7b"/><stop offset=".720" stop-color="#b2ff45"/><stop offset=".777" stop-color="#dbff1b"/><stop offset=".831" stop-color="#efff08"/><stop offset=".854" stop-color="#f7f600"/><stop offset=".877" stop-color="#ffec00"/><stop offset=".893" stop-color="#ffe600"/><stop offset=".998" stop-color="#ffb300"/><stop offset="1" stop-color="#ffb400"/></linearGradient><linearGradient id="h158" gradientUnits="userSpaceOnUse" x1="0" y1="140" x2="0" y2="324"><stop offset=".000" stop-color="#0038ff"/><stop offset=".098" stop-color="#0038ff"/><stop offset=".174" stop-color="#003cff"/><stop offset=".259" stop-color="#003cff"/><stop offset=".335" stop-color="#004cff"/><stop offset=".514" stop-color="#00dbff"/><stop offset=".527" stop-color="#00e5f7"/><stop offset=".548" stop-color="#0ef7e9"/><stop offset=".554" stop-color="#15ffe2"/><stop offset=".587" stop-color="#3affbd"/><stop offset=".646" stop-color="#7bff7b"/><stop offset=".720" stop-color="#b2ff45"/><stop offset=".777" stop-color="#dbff1b"/><stop offset=".831" stop-color="#efff08"/><stop offset=".854" stop-color="#f7f600"/><stop offset=".877" stop-color="#ffec00"/><stop offset=".893" stop-color="#ffe600"/><stop offset=".998" stop-color="#ffb300"/><stop offset="1" stop-color="#ffb400"/></linearGradient><linearGradient id="h159" gradientUnits="userSpaceOnUse" x1="0" y1="140" x2="0" y2="324"><stop offset=".000" stop-color="#0038ff"/><stop offset=".098" stop-color="#0038ff"/><stop offset=".174" stop-color="#003cff"/><stop offset=".257" stop-color="#003cff"/><stop offset=".331" stop-color="#004cff"/><stop offset=".512" stop-color="#00dbff"/><stop offset=".525" stop-color="#00e5f7"/><stop offset=".547" stop-color="#0ef7e9"/><stop offset=".553" stop-color="#15ffe2"/><stop offset=".586" stop-color="#3affbd"/><stop offset=".646" stop-color="#7bff7b"/><stop offset=".720" stop-color="#b2ff45"/><stop offset=".777" stop-color="#dbff1b"/><stop offset=".831" stop-color="#efff08"/><stop offset=".854" stop-color="#f7f600"/><stop offset=".877" stop-color="#ffec00"/><stop offset=".893" stop-color="#ffe600"/><stop offset=".998" stop-color="#ffb300"/><stop offset="1" stop-color="#ffb400"/></linearGradient><linearGradient id="h160" gradientUnits="userSpaceOnUse" x1="0" y1="140" x2="0" y2="324"><stop offset=".000" stop-color="#0038ff"/><stop offset=".098" stop-color="#0038ff"/><stop offset=".174" stop-color="#003cff"/><stop offset=".253" stop-color="#003cff"/><stop offset=".325" stop-color="#004cff"/><stop offset=".510" stop-color="#00dbff"/><stop offset=".523" stop-color="#00e5f7"/><stop offset=".545" stop-color="#0ef7e9"/><stop offset=".551" stop-color="#15ffe2"/><stop offset=".585" stop-color="#3affbd"/><stop offset=".645" stop-color="#7bff7b"/><stop offset=".720" stop-color="#b2ff45"/><stop offset=".777" stop-color="#dbff1b"/><stop offset=".831" stop-color="#efff08"/><stop offset=".854" stop-color="#f7f600"/><stop offset=".877" stop-color="#ffec00"/><stop offset=".893" stop-color="#ffe600"/><stop offset=".998" stop-color="#ffb300"/><stop offset="1" stop-color="#ffb400"/></linearGradient><linearGradient id="h161" gradientUnits="userSpaceOnUse" x1="0" y1="140" x2="0" y2="324"><stop offset=".000" stop-color="#0038ff"/><stop offset=".098" stop-color="#0038ff"/><stop offset=".174" stop-color="#003cff"/><stop offset=".250" stop-color="#003cff"/><stop offset=".321" stop-color="#004cff"/><stop offset=".508" stop-color="#00dbff"/><stop offset=".521" stop-color="#00e5f7"/><stop offset=".543" stop-color="#0ef7e9"/><stop offset=".550" stop-color="#15ffe2"/><stop offset=".584" stop-color="#3affbd"/><stop offset=".644" stop-color="#7bff7b"/><stop offset=".720" stop-color="#b2ff45"/><stop offset=".777" stop-color="#dbff1b"/><stop offset=".831" stop-color="#efff08"/><stop offset=".854" stop-color="#f7f600"/><stop offset=".877" stop-color="#ffec00"/><stop offset=".893" stop-color="#ffe600"/><stop offset=".998" stop-color="#ffb300"/><stop offset="1" stop-color="#ffb400"/></linearGradient><linearGradient id="h162" gradientUnits="userSpaceOnUse" x1="0" y1="140" x2="0" y2="324"><stop offset=".000" stop-color="#0038ff"/><stop offset=".098" stop-color="#0038ff"/><stop offset=".174" stop-color="#003cff"/><stop offset=".249" stop-color="#003cff"/><stop offset=".320" stop-color="#004cff"/><stop offset=".508" stop-color="#00dbff"/><stop offset=".521" stop-color="#00e5f7"/><stop offset=".543" stop-color="#0ef7e9"/><stop offset=".550" stop-color="#15ffe2"/><stop offset=".583" stop-color="#3affbd"/><stop offset=".643" stop-color="#7bff7b"/><stop offset=".720" stop-color="#b2ff45"/><stop offset=".777" stop-color="#dbff1b"/><stop offset=".831" stop-color="#efff08"/><stop offset=".854" stop-color="#f7f600"/><stop offset=".877" stop-color="#ffec00"/><stop offset=".893" stop-color="#ffe600"/><stop offset=".998" stop-color="#ffb300"/><stop offset="1" stop-color="#ffb400"/></linearGradient><linearGradient id="h163" gradientUnits="userSpaceOnUse" x1="0" y1="140" x2="0" y2="324"><stop offset=".000" stop-color="#0038ff"/><stop offset=".098" stop-color="#0038ff"/><stop offset=".174" stop-color="#003cff"/><stop offset=".248" stop-color="#003cff"/><stop offset=".319" stop-color="#004cff"/><stop offset=".507" stop-color="#00dbff"/><stop offset=".521" stop-color="#00e5f7"/><stop offset=".543" stop-color="#0ef7e9"/><stop offset=".550" stop-color="#15ffe2"/><stop offset=".583" stop-color="#3affbd"/><stop offset=".643" stop-color="#7bff7b"/><stop offset=".720" stop-color="#b2ff45"/><stop offset=".777" stop-color="#dbff1b"/><stop offset=".831" stop-color="#efff08"/><stop offset=".854" stop-color="#f7f600"/><stop offset=".877" stop-color="#ffec00"/><stop offset=".893" stop-color="#ffe600"/><stop offset=".998" stop-color="#ffb300"/><stop offset="1" stop-color="#ffb400"/></linearGradient><linearGradient id="h164" gradientUnits="userSpaceOnUse" x1="0" y1="140" x2="0" y2="324"><stop offset=".000" stop-color="#0038ff"/><stop offset=".098" stop-color="#0038ff"/><stop offset=".174" stop-color="#003cff"/><stop offset=".247" stop-color="#003cff"/><stop offset=".318" stop-color="#004cff"/><stop offset=".507" stop-color="#00dbff"/><stop offset=".521" stop-color="#00e5f7"/><stop offset=".543" stop-color="#0ef7e9"/><stop offset=".550" stop-color="#15ffe2"/><stop offset=".583" stop-color="#3affbd"/><stop offset=".643" stop-color="#7bff7b"/><stop offset=".720" stop-color="#b2ff45"/><stop offset=".777" stop-color="#dbff1b"/><stop offset=".831" stop-color="#efff08"/><stop offset=".854" stop-color="#f7f600"/><stop offset=".877" stop-color="#ffec00"/><stop offset=".893" stop-color="#ffe600"/><stop offset=".998" stop-color="#ffb300"/><stop offset="1" stop-color="#ffb400"/></linearGradient><linearGradient id="h165" gradientUnits="userSpaceOnUse" x1="0" y1="140" x2="0" y2="324"><stop offset=".000" stop-color="#0038ff"/><stop offset=".098" stop-color="#0038ff"/><stop offset=".174" stop-color="#003cff"/><stop offset=".246" stop-color="#003cff"/><stop offset=".317" stop-color="#004cff"/><stop offset=".507" stop-color="#00dbff"/><stop offset=".521" stop-color="#00e5f7"/><stop offset=".543" stop-color="#0ef7e9"/><stop offset=".550" stop-color="#15ffe2"/><stop offset=".583" stop-color="#3affbd"/><stop offset=".642" stop-color="#7bff7b"/><stop offset=".720" stop-color="#b2ff45"/><stop offset=".777" stop-color="#dbff1b"/><stop offset=".831" stop-color="#efff08"/><stop offset=".854" stop-color="#f7f600"/><stop offset=".877" stop-color="#ffec00"/><stop offset=".893" stop-color="#ffe600"/><stop offset=".998" stop-color="#ffb300"/><stop offset="1" stop-color="#ffb400"/></linearGradient><linearGradient id="h166" gradientUnits="userSpaceOnUse" x1="0" y1="140" x2="0" y2="324"><stop offset=".000" stop-color="#0038ff"/><stop offset=".098" stop-color="#0038ff"/><stop offset=".174" stop-color="#003cff"/><stop offset=".245" stop-color="#003cff"/><stop offset=".316" stop-color="#004cff"/><stop offset=".507" stop-color="#00dbff"/><stop offset=".521" stop-color="#00e5f7"/><stop offset=".543" stop-color="#0ef7e9"/><stop offset=".550" stop-color="#15ffe2"/><stop offset=".583" stop-color="#3affbd"/><stop offset=".642" stop-color="#7bff7b"/><stop offset=".720" stop-color="#b2ff45"/><stop offset=".777" stop-color="#dbff1b"/><stop offset=".831" stop-color="#efff08"/><stop offset=".854" stop-color="#f7f600"/><stop offset=".877" stop-color="#ffec00"/><stop offset=".893" stop-color="#ffe600"/><stop offset=".998" stop-color="#ffb300"/><stop offset="1" stop-color="#ffb400"/></linearGradient></defs>
<rect x="200" y="160" width="714" height="296" fill="url(#hb)"/>
<rect x="200" y="160" width="5.6" height="106" fill="url(#h0)"/>
<rect x="205" y="160" width="5.6" height="106" fill="url(#h1)"/>
<rect x="210" y="160" width="5.6" height="106" fill="url(#h2)"/>
<rect x="215" y="160" width="5.6" height="106" fill="url(#h3)"/>
<rect x="220" y="160" width="5.6" height="106" fill="url(#h4)"/>
<rect x="225" y="160" width="5.6" height="106" fill="url(#h5)"/>
<rect x="230" y="160" width="5.6" height="106" fill="url(#h6)"/>
<rect x="235" y="160" width="5.6" height="106" fill="url(#h7)"/>
<rect x="240" y="160" width="5.6" height="106" fill="url(#h8)"/>
<rect x="245" y="160" width="5.6" height="106" fill="url(#h9)"/>
<rect x="250" y="160" width="5.6" height="106" fill="url(#h10)"/>
<rect x="255" y="160" width="5.6" height="106" fill="url(#h11)"/>
<rect x="260" y="160" width="5.6" height="106" fill="url(#h12)"/>
<rect x="265" y="160" width="5.6" height="106" fill="url(#h13)"/>
<rect x="270" y="160" width="5.6" height="106" fill="url(#h14)"/>
<rect x="275" y="160" width="5.6" height="106" fill="url(#h15)"/>
<rect x="280" y="160" width="5.6" height="106" fill="url(#h16)"/>
<rect x="285" y="160" width="5.6" height="106" fill="url(#h17)"/>
<rect x="290" y="160" width="5.6" height="106" fill="url(#h18)"/>
<rect x="295" y="160" width="5.6" height="106" fill="url(#h19)"/>
<rect x="300" y="160" width="5.6" height="106" fill="url(#h20)"/>
<rect x="305" y="160" width="5.6" height="106" fill="url(#h21)"/>
<rect x="310" y="160" width="5.6" height="106" fill="url(#h22)"/>
<rect x="315" y="160" width="5.6" height="106" fill="url(#h23)"/>
<rect x="320" y="160" width="5.6" height="106" fill="url(#h24)"/>
<rect x="325" y="160" width="5.6" height="106" fill="url(#h25)"/>
<rect x="330" y="160" width="5.6" height="106" fill="url(#h26)"/>
<rect x="335" y="160" width="5.6" height="106" fill="url(#h27)"/>
<rect x="340" y="160" width="5.6" height="106" fill="url(#h28)"/>
<rect x="345" y="160" width="5.6" height="106" fill="url(#h29)"/>
<rect x="350" y="160" width="5.6" height="106" fill="url(#h30)"/>
<rect x="355" y="160" width="5.6" height="106" fill="url(#h31)"/>
<rect x="360" y="160" width="5.6" height="106" fill="url(#h32)"/>
<rect x="365" y="160" width="5.6" height="106" fill="url(#h33)"/>
<rect x="370" y="160" width="5.6" height="106" fill="url(#h34)"/>
<rect x="375" y="160" width="5.6" height="106" fill="url(#h35)"/>
<rect x="380" y="160" width="5.6" height="106" fill="url(#h36)"/>
<rect x="385" y="160" width="5.6" height="106" fill="url(#h37)"/>
<rect x="390" y="160" width="5.6" height="106" fill="url(#h38)"/>
<rect x="395" y="160" width="5.6" height="106" fill="url(#h39)"/>
<rect x="400" y="160" width="5.6" height="106" fill="url(#h40)"/>
<rect x="405" y="160" width="5.6" height="106" fill="url(#h41)"/>
<rect x="410" y="160" width="5.6" height="106" fill="url(#h42)"/>
<rect x="415" y="160" width="5.6" height="106" fill="url(#h43)"/>
<rect x="420" y="160" width="5.6" height="106" fill="url(#h44)"/>
<rect x="425" y="160" width="5.6" height="106" fill="url(#h45)"/>
<rect x="430" y="160" width="5.6" height="106" fill="url(#h46)"/>
<rect x="435" y="160" width="5.6" height="106" fill="url(#h47)"/>
<rect x="440" y="160" width="5.6" height="106" fill="url(#h48)"/>
<rect x="445" y="160" width="5.6" height="106" fill="url(#h49)"/>
<rect x="450" y="160" width="5.6" height="106" fill="url(#h50)"/>
<rect x="455" y="160" width="5.6" height="106" fill="url(#h51)"/>
<rect x="460" y="160" width="5.6" height="106" fill="url(#h52)"/>
<rect x="465" y="160" width="5.6" height="106" fill="url(#h53)"/>
<rect x="470" y="160" width="5.6" height="106" fill="url(#h54)"/>
<rect x="475" y="160" width="5.6" height="106" fill="url(#h55)"/>
<rect x="480" y="160" width="5.6" height="106" fill="url(#h56)"/>
<rect x="485" y="160" width="5.6" height="106" fill="url(#h57)"/>
<rect x="490" y="160" width="5.6" height="106" fill="url(#h58)"/>
<rect x="495" y="160" width="5.6" height="106" fill="url(#h59)"/>
<rect x="500" y="160" width="5.6" height="106" fill="url(#h60)"/>
<rect x="505" y="160" width="5.6" height="106" fill="url(#h61)"/>
<rect x="510" y="160" width="5.6" height="106" fill="url(#h62)"/>
<rect x="515" y="160" width="5.6" height="106" fill="url(#h63)"/>
<rect x="520" y="160" width="5.6" height="106" fill="url(#h64)"/>
<rect x="525" y="160" width="5.6" height="106" fill="url(#h65)"/>
<rect x="530" y="160" width="5.6" height="106" fill="url(#h66)"/>
<rect x="535" y="160" width="5.6" height="106" fill="url(#h67)"/>
<rect x="540" y="160" width="5.6" height="106" fill="url(#h68)"/>
<rect x="545" y="160" width="5.6" height="106" fill="url(#h69)"/>
<rect x="550" y="160" width="5.6" height="106" fill="url(#h70)"/>
<rect x="555" y="160" width="5.6" height="106" fill="url(#h71)"/>
<rect x="560" y="160" width="5.6" height="106" fill="url(#h72)"/>
<rect x="565" y="160" width="5.6" height="106" fill="url(#h73)"/>
<rect x="570" y="160" width="5.6" height="106" fill="url(#h74)"/>
<rect x="575" y="160" width="5.6" height="106" fill="url(#h75)"/>
<rect x="580" y="160" width="5.6" height="106" fill="url(#h76)"/>
<rect x="585" y="160" width="5.6" height="106" fill="url(#h77)"/>
<rect x="590" y="160" width="5.6" height="106" fill="url(#h78)"/>
<rect x="595" y="160" width="1.888" height="164" fill="url(#h79)"/>
<rect x="596.29" y="160" width="1.888" height="164" fill="url(#h80)"/>
<rect x="597.58" y="160" width="1.887" height="164" fill="url(#h81)"/>
<rect x="598.86" y="160" width="1.888" height="164" fill="url(#h82)"/>
<rect x="600.15" y="160" width="1.888" height="164" fill="url(#h83)"/>
<rect x="601.44" y="160" width="1.888" height="164" fill="url(#h84)"/>
<rect x="602.73" y="160" width="1.888" height="164" fill="url(#h85)"/>
<rect x="604.01" y="160" width="1.887" height="164" fill="url(#h86)"/>
<rect x="605.3" y="160" width="1.888" height="164" fill="url(#h87)"/>
<rect x="606.59" y="160" width="1.888" height="164" fill="url(#h88)"/>
<rect x="607.88" y="160" width="1.888" height="164" fill="url(#h89)"/>
<rect x="609.16" y="160" width="1.888" height="164" fill="url(#h90)"/>
<rect x="610.45" y="160" width="1.888" height="164" fill="url(#h91)"/>
<rect x="611.74" y="160" width="1.887" height="164" fill="url(#h92)"/>
<rect x="613.02" y="160" width="1.888" height="164" fill="url(#h93)"/>
<rect x="614.31" y="160" width="1.888" height="164" fill="url(#h94)"/>
<rect x="615.6" y="160" width="2.4" height="164" fill="url(#h95)"/>
<rect x="617.4" y="160" width="2.4" height="164" fill="url(#h96)"/>
<rect x="619.2" y="160" width="2.4" height="164" fill="url(#h97)"/>
<rect x="621" y="160" width="4.613" height="164" fill="url(#h98)"/>
<rect x="625.01" y="160" width="4.613" height="164" fill="url(#h99)"/>
<rect x="629.03" y="160" width="4.613" height="164" fill="url(#h100)"/>
<rect x="633.04" y="160" width="4.613" height="164" fill="url(#h101)"/>
<rect x="637.05" y="160" width="4.613" height="164" fill="url(#h102)"/>
<rect x="641.07" y="160" width="4.613" height="164" fill="url(#h103)"/>
<rect x="645.08" y="160" width="4.613" height="164" fill="url(#h104)"/>
<rect x="649.09" y="160" width="4.613" height="164" fill="url(#h105)"/>
<rect x="653.11" y="160" width="4.613" height="164" fill="url(#h106)"/>
<rect x="657.12" y="160" width="4.613" height="164" fill="url(#h107)"/>
<rect x="661.13" y="160" width="4.613" height="164" fill="url(#h108)"/>
<rect x="665.15" y="160" width="4.613" height="164" fill="url(#h109)"/>
<rect x="669.16" y="160" width="4.613" height="164" fill="url(#h110)"/>
<rect x="673.17" y="160" width="4.613" height="164" fill="url(#h111)"/>
<rect x="677.19" y="160" width="4.613" height="164" fill="url(#h112)"/>
<rect x="681.2" y="160" width="2.533" height="164" fill="url(#h113)"/>
<rect x="683.13" y="160" width="2.533" height="164" fill="url(#h114)"/>
<rect x="685.07" y="160" width="2.533" height="164" fill="url(#h115)"/>
<rect x="687" y="160" width="3.544" height="164" fill="url(#h116)"/>
<rect x="689.94" y="160" width="3.544" height="164" fill="url(#h117)"/>
<rect x="692.89" y="160" width="3.544" height="164" fill="url(#h118)"/>
<rect x="695.83" y="160" width="3.544" height="164" fill="url(#h119)"/>
<rect x="698.78" y="160" width="3.544" height="164" fill="url(#h120)"/>
<rect x="701.72" y="160" width="3.544" height="164" fill="url(#h121)"/>
<rect x="704.67" y="160" width="3.544" height="164" fill="url(#h122)"/>
<rect x="707.61" y="160" width="3.544" height="164" fill="url(#h123)"/>
<rect x="710.56" y="160" width="3.544" height="164" fill="url(#h124)"/>
<rect x="713.5" y="160" width="3.544" height="164" fill="url(#h125)"/>
<rect x="716.44" y="160" width="3.544" height="164" fill="url(#h126)"/>
<rect x="719.39" y="160" width="3.544" height="164" fill="url(#h127)"/>
<rect x="722.33" y="160" width="3.544" height="164" fill="url(#h128)"/>
<rect x="725.28" y="160" width="3.544" height="164" fill="url(#h129)"/>
<rect x="728.22" y="160" width="3.544" height="164" fill="url(#h130)"/>
<rect x="731.17" y="160" width="3.544" height="164" fill="url(#h131)"/>
<rect x="734.11" y="160" width="3.544" height="164" fill="url(#h132)"/>
<rect x="737.06" y="160" width="3.544" height="164" fill="url(#h133)"/>
<rect x="740" y="160" width="6.1" height="164" fill="url(#h134)"/>
<rect x="745.5" y="160" width="6.1" height="164" fill="url(#h135)"/>
<rect x="751" y="160" width="6.1" height="164" fill="url(#h136)"/>
<rect x="756.5" y="160" width="6.1" height="164" fill="url(#h137)"/>
<rect x="762" y="160" width="6.1" height="164" fill="url(#h138)"/>
<rect x="767.5" y="160" width="6.1" height="164" fill="url(#h139)"/>
<rect x="773" y="160" width="6.1" height="164" fill="url(#h140)"/>
<rect x="778.5" y="160" width="6.1" height="164" fill="url(#h141)"/>
<rect x="784" y="160" width="6.1" height="164" fill="url(#h142)"/>
<rect x="789.5" y="160" width="6.1" height="164" fill="url(#h143)"/>
<rect x="795" y="160" width="6.1" height="164" fill="url(#h144)"/>
<rect x="800.5" y="160" width="6.1" height="164" fill="url(#h145)"/>
<rect x="806" y="160" width="2.6" height="164" fill="url(#h146)"/>
<rect x="808" y="160" width="2.6" height="164" fill="url(#h147)"/>
<rect x="810" y="160" width="2.6" height="164" fill="url(#h148)"/>
<rect x="812" y="160" width="4.4" height="164" fill="url(#h149)"/>
<rect x="815.8" y="160" width="4.4" height="164" fill="url(#h150)"/>
<rect x="819.6" y="160" width="4.4" height="164" fill="url(#h151)"/>
<rect x="823.4" y="160" width="4.4" height="164" fill="url(#h152)"/>
<rect x="827.2" y="160" width="4.4" height="164" fill="url(#h153)"/>
<rect x="831" y="160" width="4.4" height="164" fill="url(#h154)"/>
<rect x="834.8" y="160" width="4.4" height="164" fill="url(#h155)"/>
<rect x="838.6" y="160" width="4.4" height="164" fill="url(#h156)"/>
<rect x="842.4" y="160" width="4.4" height="164" fill="url(#h157)"/>
<rect x="846.2" y="160" width="4.4" height="164" fill="url(#h158)"/>
<rect x="850" y="160" width="8.6" height="164" fill="url(#h159)"/>
<rect x="858" y="160" width="8.6" height="164" fill="url(#h160)"/>
<rect x="866" y="160" width="8.6" height="164" fill="url(#h161)"/>
<rect x="874" y="160" width="8.6" height="164" fill="url(#h162)"/>
<rect x="882" y="160" width="8.6" height="164" fill="url(#h163)"/>
<rect x="890" y="160" width="8.6" height="164" fill="url(#h164)"/>
<rect x="898" y="160" width="8.6" height="164" fill="url(#h165)"/>
<rect x="906" y="160" width="8" height="164" fill="url(#h166)"/>
</g>
<rect x="588.2" y="111" width="2.2" height="32.3" fill="#fff"/>
<rect x="591.8" y="111" width="0.9" height="30" fill="#fff"/>
<rect x="594" y="111" width="1" height="34.5" fill="#fff"/>
<rect x="600.9" y="111" width="2.7" height="57.7" fill="#fff"/>
<rect x="605.5" y="111" width="3.5" height="51.7" fill="#fff"/>
<rect x="611.5" y="111" width="2.1" height="15" fill="#fff"/>
<rect x="613.6" y="111" width="4" height="57.7" fill="#fff"/>
<rect x="679" y="111" width="2.8" height="86.3" fill="#fff"/>
<rect x="697.3" y="111" width="1.7" height="1.5" fill="#fff"/>
<rect x="234.1" y="111" width="4.2" height="9" fill="#000"/>
<rect x="323.3" y="111" width="4.2" height="9" fill="#000"/>
<rect x="412.5" y="111" width="4.2" height="9" fill="#000"/>
<rect x="501.7" y="111" width="4.2" height="9" fill="#000"/>
<rect x="590.9" y="111" width="4.2" height="9" fill="#000"/>
<rect x="680.1" y="111" width="4.2" height="9" fill="#000"/>
<rect x="769.3" y="111" width="4.2" height="9" fill="#000"/>
<rect x="822.2" y="111" width="4.2" height="9" fill="#000"/>
<rect x="277.2" y="111" width="4.2" height="9" fill="#ff0000"/>
<rect x="366.4" y="111" width="4.2" height="9" fill="#ff0000"/>
<rect x="455.6" y="111" width="4.2" height="9" fill="#ff0000"/>
<rect x="544.8" y="111" width="4.2" height="9" fill="#ff0000"/>
<rect x="634" y="111" width="4.2" height="9" fill="#ff0000"/>
<rect x="723.2" y="111" width="4.2" height="9" fill="#ff0000"/>
<rect x="812.4" y="111" width="4.2" height="9" fill="#ff0000"/>
<rect x="588.2" y="111" width="2.2" height="32" fill="#fff"/>
<rect x="591.8" y="111" width="0.9" height="30" fill="#fff"/>
<rect x="594" y="111" width="1" height="34" fill="#fff"/>
<rect x="679" y="111" width="2.8" height="86.3" fill="#fff"/>
<rect x="590.4" y="111" width="2.3" height="9.2" fill="#fff"/>
<text x="279.3" y="139" font-size="14" text-anchor="middle" fill="#ff0000">N</text>
<text x="368.5" y="139" font-size="14" text-anchor="middle" fill="#ff0000">N</text>
<text x="457.7" y="139" font-size="14" text-anchor="middle" fill="#ff0000">N</text>
<text x="546.9" y="139" font-size="14" text-anchor="middle" fill="#ff0000">N</text>
<text x="636.1" y="139" font-size="14" text-anchor="middle" fill="#ff0000">N</text>
<text x="725.3" y="139" font-size="14" text-anchor="middle" fill="#ff0000">N</text>
<text x="814.5" y="139" font-size="14" text-anchor="middle" fill="#ff0000">N</text>
<text x="236.2" y="139" font-size="14" text-anchor="middle">M</text>
<text x="325.4" y="139" font-size="14" text-anchor="middle">M</text>
<text x="414.6" y="139" font-size="14" text-anchor="middle">M</text>
<text x="503.8" y="139" font-size="14" text-anchor="middle">M</text>
<text x="593" y="139" font-size="14" text-anchor="middle">M</text>
<text x="682.2" y="139" font-size="14" text-anchor="middle">M</text>
<text x="771.4" y="139" font-size="14" text-anchor="middle">M</text>
<text x="824.3" y="139" font-size="14" text-anchor="middle">M</text>
<clipPath id="c1"><rect x="200" y="110" width="714" height="345"/></clipPath>
<g clip-path="url(#c1)">
<path d="M200,230.38 201,229.98 202,229.13 203,228.17 204,227.13 205,225.89 206,224.65 207,223.24 208,221.79 209,220.66 210,219.61 211,219.04 212,218.67 213,218.49 214,218.34 215,218.13 216,217.9 217,217.47 218,216.92 219,215.48 220,213.45 221,211.41 222,209.04 223,206.44 224,203.84 225,201.36 226,199.97 227,198.85 228,198.35 229,198.33 230,198.78 231,199.23 232,199.68 233,200.13 234,200.56 235,200.99 236,201.41 237,201.16 238,200.73 239,200.3 240,199.86 241,199.41 242,198.96 243,198.51 244,198.15 245,198.65 246,199.42 247,200.81 248,202.8 249,205.4 250,208 251,210.6 252,212.63 253,214.67 254,216.7 255,217.25 256,217.8 257,218.04 258,218.28 259,218.43 260,218.57 261,218.89 262,219.26 263,220.24 264,221.29 265,222.66 266,224.11 267,225.39 268,226.63 269,227.79 270,228.75 271,229.71 272,230.22 273,230.62 274,230.95 275,231.1 276,231.25 277,231.36 278,231.45 279,231.54 280,231.63 281,231.68 282,231.59 283,231.5 284,231.42 285,231.33 286,231.19 287,231.04 288,230.86 289,230.46 290,230.06 291,229.32 292,228.36 293,227.38 294,226.14 295,224.9 296,223.53 297,222.08 298,220.87 299,219.82 300,219.12 301,218.75 302,218.51 303,218.37 304,218.18 305,217.94 306,217.58 307,217.03 308,215.89 309,213.85 310,211.82 311,209.56 312,206.96 313,204.36 314,201.76 315,200.25 316,198.95 317,198.45 318,198.24 319,198.69 320,199.14 321,199.59 322,200.04 323,200.47 324,200.9 325,201.33 326,201.24 327,200.81 328,200.39 329,199.95 330,199.5 331,199.05 332,198.6 333,198.15 334,198.55 335,199.14 336,200.53 337,202.28 338,204.88 339,207.48 340,210.08 341,212.23 342,214.26 343,216.29 344,217.14 345,217.69 346,217.99 347,218.23 348,218.4 349,218.54 350,218.82 351,219.19 352,220.03 353,221.08 354,222.37 355,223.82 356,225.14 357,226.38 358,227.6 359,228.56 360,229.52 361,230.14 362,230.54 363,230.92 364,231.07 365,231.22 366,231.34 367,231.43 368,231.52 369,231.61 370,231.7 371,231.61 372,231.52 373,231.43 374,231.34 375,231.22 376,231.07 377,230.92 378,230.54 379,230.14 380,229.52 381,228.56 382,227.6 383,226.38 384,225.14 385,223.82 386,222.37 387,221.08 388,220.03 389,219.19 390,218.82 391,218.54 392,218.4 393,218.23 394,217.99 395,217.69 396,217.14 397,216.29 398,214.26 399,212.23 400,210.08 401,207.48 402,204.88 403,202.28 404,200.53 405,199.14 406,198.55 407,198.15 408,198.6 409,199.05 410,199.5 411,199.95 412,200.39 413,200.81 414,201.24 415,201.33 416,200.9 417,200.47 418,200.04 419,199.59 420,199.14 421,198.69 422,198.24 423,198.45 424,198.95 425,200.25 426,201.76 427,204.36 428,206.96 429,209.56 430,211.82 431,213.85 432,215.89 433,217.03 434,217.58 435,217.94 436,218.18 437,218.37 438,218.51 439,218.75 440,219.12 441,219.82 442,220.87 443,222.08 444,223.53 445,224.9 446,226.14 447,227.38 448,228.36 449,229.32 450,230.06 451,230.46 452,230.86 453,231.04 454,231.19 455,231.33 456,231.42 457,231.5 458,231.59 459,231.68 460,231.63 461,231.54 462,231.45 463,231.36 464,231.25 465,231.1 466,230.95 467,230.62 468,230.22 469,229.71 470,228.75 471,227.79 472,226.63 473,225.39 474,224.11 475,222.66 476,221.29 477,220.24 478,219.26 479,218.89 480,218.57 481,218.43 482,218.28 483,218.04 484,217.8 485,217.25 486,216.7 487,214.67 488,212.63 489,210.6 490,208 491,205.4 492,202.8 493,200.81 494,199.42 495,198.65 496,198.15 497,198.51 498,198.96 499,199.41 500,199.86 501,200.3 502,200.73 503,201.16 504,201.41 505,200.99 506,200.56 507,200.13 508,199.68 509,199.23 510,198.78 511,198.33 512,198.35 513,198.85 514,199.97 515,201.36 516,203.84 517,206.44 518,209.04 519,211.41 520,213.45 521,215.48 522,216.92 523,217.47 524,217.9 525,218.13 526,218.34 527,218.49 528,218.67 529,219.04 530,219.61 531,220.66 532,221.79 533,223.24 534,224.65 535,225.89 536,227.13 537,228.17 538,229.13 539,229.98 540,230.38 541,230.78 542,231.01 543,231.16 544,231.31 545,231.4 546,231.49 547,231.58 548,231.66 549,231.65 550,231.56 551,231.47 552,231.38 553,231.28 554,231.13 555,230.98 556,230.7 557,230.3 558,229.9 559,228.94 560,227.98 561,226.88 562,225.64 563,224.4 564,222.95 565,221.5 566,220.45 567,219.4 568,218.97 569,218.6 570,218.46 571,218.31 572,218.09 573,217.85 574,217.36 575,216.81 576,215.07 577,213.04 578,211.01 579,208.52 580,205.92 581,203.32 582,201.08 583,199.69 584,198.75 585,198.25 586,198.42 587,198.87 588,199.32 589,199.77 590,200.21 591,200.64 592,201.07 593,201.5 594,201.07 595,200.64 596,200.21 597,199.77 598,199.32 599,198.87 600,198.42 601,198.25 602,198.75 603,199.69 604,201.08 605,203.32 606,205.92 607,208.52 608,211.01 609,213.04 610,215.07 611,216.81 612,217.36 613,217.85 614,218.09 615,218.31 616,218.46 617,218.6 618,218.97 619,219.4 620,220.45 621,221.5 622,222.95 623,224.4 624,225.64 625,226.88 626,227.98 627,228.94 628,229.9 629,230.3 630,230.7 631,230.98 632,231.13 633,231.28 634,231.38 635,231.47 636,231.56 637,231.65 638,231.66 639,231.58 640,231.49 641,231.4 642,231.31 643,231.16 644,231.01 645,230.78 646,230.38 647,229.98 648,229.13 649,228.17 650,227.13 651,225.89 652,224.65 653,223.24 654,221.79 655,220.66 656,219.61 657,219.04 658,218.67 659,218.49 660,218.34 661,218.13 662,217.9 663,217.47 664,216.92 665,215.48 666,213.45 667,211.41 668,209.04 669,206.44 670,203.84 671,201.36 672,199.97 673,198.85 674,198.35 675,198.33 676,198.78 677,199.23 678,199.68 679,200.13 680,200.56 681,200.99 682,201.41 683,201.16 684,200.73 685,200.3 686,199.86 687,199.41 688,198.96 689,198.51 690,198.15 691,198.65 692,199.42 693,200.81 694,202.8 695,205.4 696,208 697,210.6 698,212.63 699,214.67 700,216.7 701,217.25 702,217.8 703,218.04 704,218.28 705,218.43 706,218.57 707,218.89 708,219.26 709,220.24 710,221.29 711,222.66 712,224.11 713,225.39 714,226.63 715,227.79 716,228.75 717,229.71 718,230.22 719,230.62 720,230.95 721,231.1 722,231.25 723,231.36 724,231.45 725,231.54 726,231.63 727,231.68 728,231.59 729,231.5 730,231.42 731,231.33 732,231.19 733,231.04 734,230.86 735,230.46 736,230.06 737,229.32 738,228.36 739,227.38 740,226.14 741,224.9 742,223.53 743,222.08 744,220.87 745,219.82 746,219.12 747,218.75 748,218.51 749,218.37 750,218.18 751,217.94 752,217.58 753,217.03 754,215.89 755,213.85 756,211.82 757,209.56 758,206.96 759,204.36 760,201.76 761,200.25 762,198.95 763,198.45 764,198.24 765,198.69 766,199.14 767,199.59 768,200.04 769,200.47 770,200.9 771,201.33 772,201.24 773,200.81 774,200.39 775,199.95 776,199.5 777,199.05 778,198.6 779,198.15 780,198.55 781,199.14 782,200.53 783,202.28 784,204.88 785,207.48 786,210.08 787,212.23 788,214.26 789,216.29 790,217.14 791,217.69 792,217.99 793,218.23 794,218.4 795,218.54 796,218.82 797,219.19 798,220.03 799,221.08 800,222.37 801,223.82 802,225.14 803,226.38 804,227.6 805,228.56 806,229.52 807,230.14 808,230.54 809,230.92 810,231.07 811,231.22 812,231.34 813,231.43 814,231.52 815,231.61 816,231.7 817,231.61 818,231.52 819,231.43 820,231.34 821,231.22 822,231.07 823,230.92 824,230.54 825,230.14 826,229.52 827,228.56 828,227.6 829,226.38 830,225.14 831,223.82 832,222.37 833,221.08 834,220.03 835,219.19 836,218.82 837,218.54 838,218.4 839,218.23 840,217.99 841,217.69 842,217.14 843,216.29 844,214.26 845,212.23 846,210.08 847,207.48 848,204.88 849,202.28 850,200.53 851,199.14 852,198.55 853,198.15 854,198.6 855,199.05 856,199.5 857,199.95 858,200.39 859,200.81 860,201.24 861,201.33 862,200.9 863,200.47 864,200.04 865,199.59 866,199.14 867,198.69 868,198.24 869,198.45 870,198.95 871,200.25 872,201.76 873,204.36 874,206.96 875,209.56 876,211.82 877,213.85 878,215.89 879,217.03 880,217.58 881,217.94 882,218.18 883,218.37 884,218.51 885,218.75 886,219.12 887,219.82 888,220.87 889,222.08 890,223.53 891,224.9 892,226.14 893,227.38 894,228.36 895,229.32 896,230.06 897,230.46 898,230.86 899,231.04 900,231.19 901,231.33 902,231.42 903,231.5 904,231.59 905,231.68 906,231.63 907,231.54 908,231.45 909,231.36 910,231.25 911,231.1 912,230.95 913,230.62 914,230.22" fill="none" stroke="#000" stroke-width="2.5" stroke-linejoin="round" stroke-dasharray="7.4,3.2"/>
</g>
<line x1="825" y1="455" x2="825" y2="111" stroke="#1f77b4" stroke-width="2" stroke-dasharray="2.08,3.43"/>
<text transform="translate(888.4,423.13) rotate(-90)" font-size="63.3" fill="#808080" fill-opacity="0.22">Forecast</text>
<line x1="200" y1="397.5" x2="205.7" y2="397.5" stroke="#000" stroke-width="1.4"/>
<line x1="914" y1="397.5" x2="909.1" y2="397.5" stroke="#000" stroke-width="1.4"/>
<line x1="200" y1="340" x2="205.7" y2="340" stroke="#000" stroke-width="1.4"/>
<line x1="914" y1="340" x2="909.1" y2="340" stroke="#000" stroke-width="1.4"/>
<line x1="200" y1="282.5" x2="205.7" y2="282.5" stroke="#000" stroke-width="1.4"/>
<line x1="914" y1="282.5" x2="909.1" y2="282.5" stroke="#000" stroke-width="1.4"/>
<line x1="200" y1="225" x2="205.7" y2="225" stroke="#000" stroke-width="1.4"/>
<line x1="914" y1="225" x2="909.1" y2="225" stroke="#000" stroke-width="1.4"/>
<line x1="200" y1="167.5" x2="205.7" y2="167.5" stroke="#000" stroke-width="1.4"/>
<line x1="914" y1="167.5" x2="909.1" y2="167.5" stroke="#000" stroke-width="1.4"/>
<text x="195.4" y="462.6" font-size="20" text-anchor="end">2</text>
<text x="195.4" y="405.1" font-size="20" text-anchor="end">3</text>
<text x="195.4" y="347.6" font-size="20" text-anchor="end">4</text>
<text x="195.4" y="290.1" font-size="20" text-anchor="end">5</text>
<text x="195.4" y="232.6" font-size="20" text-anchor="end">6</text>
<text x="195.4" y="175.1" font-size="20" text-anchor="end">7</text>
<text x="195.4" y="117.6" font-size="20" text-anchor="end">8</text>
<line x1="248.6" y1="455" x2="248.6" y2="450.1" stroke="#000" stroke-width="1.4"/>
<line x1="337.85" y1="455" x2="337.85" y2="450.1" stroke="#000" stroke-width="1.4"/>
<line x1="427.1" y1="455" x2="427.1" y2="450.1" stroke="#000" stroke-width="1.4"/>
<line x1="516.35" y1="455" x2="516.35" y2="450.1" stroke="#000" stroke-width="1.4"/>
<line x1="605.6" y1="455" x2="605.6" y2="450.1" stroke="#000" stroke-width="1.4"/>
<line x1="694.85" y1="455" x2="694.85" y2="450.1" stroke="#000" stroke-width="1.4"/>
<line x1="784.1" y1="455" x2="784.1" y2="450.1" stroke="#000" stroke-width="1.4"/>
<line x1="873.35" y1="455" x2="873.35" y2="450.1" stroke="#000" stroke-width="1.4"/>
<line x1="200" y1="109" x2="200" y2="456" stroke="#000" stroke-width="2"/>
<line x1="914" y1="109" x2="914" y2="456" stroke="#000" stroke-width="2"/>
<line x1="199" y1="110" x2="915" y2="110" stroke="#000" stroke-width="2"/>
<line x1="199" y1="455" x2="915" y2="455" stroke="#000" stroke-width="2"/>
<text transform="translate(172.9,298) rotate(-90)" font-size="24">L*</text>
<text x="203.63" y="92.7" font-size="24">&gt;2.0 MeV Electron Flux at 88</text>
<text x="559.01" y="83" font-size="16.8">∘</text>
<text x="580.59" y="92.7" font-size="24">pitch angle ( cm</text>
<text x="776.24" y="83" font-size="16.8">−2</text>
<text x="805.58" y="92.7" font-size="24">s</text>
<text x="817.74" y="83" font-size="16.8">−1</text>
<text x="847.58" y="92.7" font-size="24">sr</text>
<text x="869.64" y="83" font-size="16.8">−1</text>
<text x="904.18" y="92.7" font-size="24">)</text>
<linearGradient id="jet" x1="0" y1="1" x2="0" y2="0">
<stop offset="0" stop-color="#000080"/>
<stop offset="0.02" stop-color="#000092"/>
<stop offset="0.03" stop-color="#0000a4"/>
<stop offset="0.05" stop-color="#0000b6"/>
<stop offset="0.06" stop-color="#0000c8"/>
<stop offset="0.08" stop-color="#0000da"/>
<stop offset="0.09" stop-color="#0000ec"/>
<stop offset="0.11" stop-color="#0000fe"/>
<stop offset="0.12" stop-color="#0000ff"/>
<stop offset="0.14" stop-color="#0010ff"/>
<stop offset="0.16" stop-color="#0020ff"/>
<stop offset="0.17" stop-color="#0030ff"/>
<stop offset="0.19" stop-color="#0040ff"/>
<stop offset="0.2" stop-color="#0050ff"/>
<stop offset="0.22" stop-color="#0060ff"/>
<stop offset="0.23" stop-color="#0070ff"/>
<stop offset="0.25" stop-color="#0080ff"/>
<stop offset="0.27" stop-color="#008fff"/>
<stop offset="0.28" stop-color="#009fff"/>
<stop offset="0.3" stop-color="#00afff"/>
<stop offset="0.31" stop-color="#00bfff"/>
<stop offset="0.33" stop-color="#00cfff"/>
<stop offset="0.34" stop-color="#00dffc"/>
<stop offset="0.36" stop-color="#08efef"/>
<stop offset="0.38" stop-color="#15ffe2"/>
<stop offset="0.39" stop-color="#21ffd5"/>
<stop offset="0.41" stop-color="#2effc9"/>
<stop offset="0.42" stop-color="#3bffbc"/>
<stop offset="0.44" stop-color="#48ffaf"/>
<stop offset="0.45" stop-color="#55ffa2"/>
<stop offset="0.47" stop-color="#62ff95"/>
<stop offset="0.48" stop-color="#6fff88"/>
<stop offset="0.5" stop-color="#7bff7b"/>
<stop offset="0.52" stop-color="#88ff6f"/>
<stop offset="0.53" stop-color="#95ff62"/>
<stop offset="0.55" stop-color="#a2ff55"/>
<stop offset="0.56" stop-color="#afff48"/>
<stop offset="0.58" stop-color="#bcff3b"/>
<stop offset="0.59" stop-color="#c9ff2e"/>
<stop offset="0.61" stop-color="#d5ff21"/>
<stop offset="0.62" stop-color="#e2ff15"/>
<stop offset="0.64" stop-color="#effe08"/>
<stop offset="0.66" stop-color="#fcf000"/>
<stop offset="0.67" stop-color="#ffe100"/>
<stop offset="0.69" stop-color="#ffd200"/>
<stop offset="0.7" stop-color="#ffc300"/>
<stop offset="0.72" stop-color="#ffb500"/>
<stop offset="0.73" stop-color="#ffa600"/>
<stop offset="0.75" stop-color="#ff9700"/>
<stop offset="0.77" stop-color="#ff8800"/>
<stop offset="0.78" stop-color="#ff7a00"/>
<stop offset="0.8" stop-color="#ff6b00"/>
<stop offset="0.81" stop-color="#ff5c00"/>
<stop offset="0.83" stop-color="#ff4d00"/>
<stop offset="0.84" stop-color="#ff3f00"/>
<stop offset="0.86" stop-color="#ff3000"/>
<stop offset="0.88" stop-color="#ff2100"/>
<stop offset="0.89" stop-color="#fe1200"/>
<stop offset="0.91" stop-color="#ec0400"/>
<stop offset="0.92" stop-color="#da0000"/>
<stop offset="0.94" stop-color="#c80000"/>
<stop offset="0.95" stop-color="#b60000"/>
<stop offset="0.97" stop-color="#a40000"/>
<stop offset="0.98" stop-color="#920000"/>
<stop offset="1" stop-color="#800000"/>
</linearGradient>
<rect x="959" y="110" width="17" height="345" fill="url(#jet)" stroke="#000" stroke-width="2"/>
<line x1="976" y1="455" x2="981.8" y2="455" stroke="#000" stroke-width="1.4"/>
<text x="986.8" y="462.6" font-size="20">10</text>
<text x="1012.85" y="455.6" font-size="14">0</text>
<line x1="976" y1="437.69" x2="981.6" y2="437.69" stroke="#000" stroke-width="1.3"/>
<line x1="976" y1="427.57" x2="981.6" y2="427.57" stroke="#000" stroke-width="1.3"/>
<line x1="976" y1="420.38" x2="981.6" y2="420.38" stroke="#000" stroke-width="1.3"/>
<line x1="976" y1="414.81" x2="981.6" y2="414.81" stroke="#000" stroke-width="1.3"/>
<line x1="976" y1="410.26" x2="981.6" y2="410.26" stroke="#000" stroke-width="1.3"/>
<line x1="976" y1="406.41" x2="981.6" y2="406.41" stroke="#000" stroke-width="1.3"/>
<line x1="976" y1="403.07" x2="981.6" y2="403.07" stroke="#000" stroke-width="1.3"/>
<line x1="976" y1="400.13" x2="981.6" y2="400.13" stroke="#000" stroke-width="1.3"/>
<line x1="976" y1="397.5" x2="981.8" y2="397.5" stroke="#000" stroke-width="1.4"/>
<text x="986.8" y="405.1" font-size="20">10</text>
<text x="1012.85" y="398.1" font-size="14">1</text>
<line x1="976" y1="380.19" x2="981.6" y2="380.19" stroke="#000" stroke-width="1.3"/>
<line x1="976" y1="370.07" x2="981.6" y2="370.07" stroke="#000" stroke-width="1.3"/>
<line x1="976" y1="362.88" x2="981.6" y2="362.88" stroke="#000" stroke-width="1.3"/>
<line x1="976" y1="357.31" x2="981.6" y2="357.31" stroke="#000" stroke-width="1.3"/>
<line x1="976" y1="352.76" x2="981.6" y2="352.76" stroke="#000" stroke-width="1.3"/>
<line x1="976" y1="348.91" x2="981.6" y2="348.91" stroke="#000" stroke-width="1.3"/>
<line x1="976" y1="345.57" x2="981.6" y2="345.57" stroke="#000" stroke-width="1.3"/>
<line x1="976" y1="342.63" x2="981.6" y2="342.63" stroke="#000" stroke-width="1.3"/>
<line x1="976" y1="340" x2="981.8" y2="340" stroke="#000" stroke-width="1.4"/>
<text x="986.8" y="347.6" font-size="20">10</text>
<text x="1012.85" y="340.6" font-size="14">2</text>
<line x1="976" y1="322.69" x2="981.6" y2="322.69" stroke="#000" stroke-width="1.3"/>
<line x1="976" y1="312.57" x2="981.6" y2="312.57" stroke="#000" stroke-width="1.3"/>
<line x1="976" y1="305.38" x2="981.6" y2="305.38" stroke="#000" stroke-width="1.3"/>
<line x1="976" y1="299.81" x2="981.6" y2="299.81" stroke="#000" stroke-width="1.3"/>
<line x1="976" y1="295.26" x2="981.6" y2="295.26" stroke="#000" stroke-width="1.3"/>
<line x1="976" y1="291.41" x2="981.6" y2="291.41" stroke="#000" stroke-width="1.3"/>
<line x1="976" y1="288.07" x2="981.6" y2="288.07" stroke="#000" stroke-width="1.3"/>
<line x1="976" y1="285.13" x2="981.6" y2="285.13" stroke="#000" stroke-width="1.3"/>
<line x1="976" y1="282.5" x2="981.8" y2="282.5" stroke="#000" stroke-width="1.4"/>
<text x="986.8" y="290.1" font-size="20">10</text>
<text x="1012.85" y="283.1" font-size="14">3</text>
<line x1="976" y1="265.19" x2="981.6" y2="265.19" stroke="#000" stroke-width="1.3"/>
<line x1="976" y1="255.07" x2="981.6" y2="255.07" stroke="#000" stroke-width="1.3"/>
<line x1="976" y1="247.88" x2="981.6" y2="247.88" stroke="#000" stroke-width="1.3"/>
<line x1="976" y1="242.31" x2="981.6" y2="242.31" stroke="#000" stroke-width="1.3"/>
<line x1="976" y1="237.76" x2="981.6" y2="237.76" stroke="#000" stroke-width="1.3"/>
<line x1="976" y1="233.91" x2="981.6" y2="233.91" stroke="#000" stroke-width="1.3"/>
<line x1="976" y1="230.57" x2="981.6" y2="230.57" stroke="#000" stroke-width="1.3"/>
<line x1="976" y1="227.63" x2="981.6" y2="227.63" stroke="#000" stroke-width="1.3"/>
<line x1="976" y1="225" x2="981.8" y2="225" stroke="#000" stroke-width="1.4"/>
<text x="986.8" y="232.6" font-size="20">10</text>
<text x="1012.85" y="225.6" font-size="14">4</text>
<line x1="976" y1="207.69" x2="981.6" y2="207.69" stroke="#000" stroke-width="1.3"/>
<line x1="976" y1="197.57" x2="981.6" y2="197.57" stroke="#000" stroke-width="1.3"/>
<line x1="976" y1="190.38" x2="981.6" y2="190.38" stroke="#000" stroke-width="1.3"/>
<line x1="976" y1="184.81" x2="981.6" y2="184.81" stroke="#000" stroke-width="1.3"/>
<line x1="976" y1="180.26" x2="981.6" y2="180.26" stroke="#000" stroke-width="1.3"/>
<line x1="976" y1="176.41" x2="981.6" y2="176.41" stroke="#000" stroke-width="1.3"/>
<line x1="976" y1="173.07" x2="981.6" y2="173.07" stroke="#000" stroke-width="1.3"/>
<line x1="976" y1="170.13" x2="981.6" y2="170.13" stroke="#000" stroke-width="1.3"/>
<line x1="976" y1="167.5" x2="981.8" y2="167.5" stroke="#000" stroke-width="1.4"/>
<text x="986.8" y="175.1" font-size="20">10</text>
<text x="1012.85" y="168.1" font-size="14">5</text>
<line x1="976" y1="150.19" x2="981.6" y2="150.19" stroke="#000" stroke-width="1.3"/>
<line x1="976" y1="140.07" x2="981.6" y2="140.07" stroke="#000" stroke-width="1.3"/>
<line x1="976" y1="132.88" x2="981.6" y2="132.88" stroke="#000" stroke-width="1.3"/>
<line x1="976" y1="127.31" x2="981.6" y2="127.31" stroke="#000" stroke-width="1.3"/>
<line x1="976" y1="122.76" x2="981.6" y2="122.76" stroke="#000" stroke-width="1.3"/>
<line x1="976" y1="118.91" x2="981.6" y2="118.91" stroke="#000" stroke-width="1.3"/>
<line x1="976" y1="115.57" x2="981.6" y2="115.57" stroke="#000" stroke-width="1.3"/>
<line x1="976" y1="112.63" x2="981.6" y2="112.63" stroke="#000" stroke-width="1.3"/>
<line x1="976" y1="110" x2="981.8" y2="110" stroke="#000" stroke-width="1.4"/>
<text x="986.8" y="117.6" font-size="20">10</text>
<text x="1012.85" y="110.6" font-size="14">6</text>
<rect x="825.8" y="478" width="88.2" height="344" fill="#d3d3d3"/>
<text transform="translate(888.2,791.23) rotate(-90)" font-size="63.3" fill="#808080" fill-opacity="0.22">Forecast</text>
<clipPath id="c2"><rect x="200" y="478" width="714" height="344"/></clipPath>
<g clip-path="url(#c2)">
<path d="M200.45,637.96 203.18,641.37 207.27,645.18 211.36,645.73 215.46,646.82 218.18,649.55 220.91,655 224.32,662.5 227.73,665.64 230.46,665.23 233.87,663.87 237.27,665.23 240.68,668.64 243.41,670.28 245.46,668.64 248.18,661.82 250.91,654.32 253.64,650.91 257.73,649.55 261.82,649.55 264.55,648.18 268.64,642.05 272.73,639.32 276.82,637.96 282.28,637.27 286.37,639.32 290.46,643.41 294.55,649.55 298.64,652.27 302.73,653.37 306.14,655 308.87,660.46 311.6,668.64 315.01,678.87 317.73,680.91 320.46,679.55 323.87,677.91 327.28,679.55 330.01,682.96 332.73,684.32 335.46,682.28 338.19,675.46 340.92,665.91 343.64,660.46 346.37,659.09 349.78,659.37 353.19,657.05 357.28,650.23 361.37,646.82 365.46,645.87 369.55,645.73 375.01,645.46 378.42,647.5 381.83,652.27 385.24,657.73 388.65,659.77 390,660.46 392.73,661.55 395.45,664.55 398.18,670.68 400.91,678.18 403.64,684.32 406.36,686.64 409.09,686.37 411.82,684.32 414.55,684.32 417.27,686.37 420,689.09 422.05,689.78 424.09,687.05 426.14,680.91 428.87,672.73 431.59,667.28 434.32,664.96 437.05,664.55 440.46,664.55 443.18,662.5 445.91,657.73 448.64,653.37 451.37,650.91 455.46,649.96 459.55,649.82 462.96,649.14 465.69,649.96 469.09,653.64 471.82,658.41 474.55,663.87 477.28,665.23 480.69,665.91 484.1,667.96 486.82,674.09 489.55,682.28 492.28,690.46 495,694.55 497.73,695.23 500.46,693.19 502.51,692.09 505.23,693.19 507.96,695.91 510.69,697.96 512.73,696.59 515.46,689.09 518.19,679.55 520.92,672.73 523.64,670.68 527.73,670 531.82,668.64 535.23,663.18 537.96,657.73 541.37,655.27 545.46,654.73 548.87,654.32 551.6,653.64 555.01,655 558.42,659.09 561.83,665.23 564.55,669.32 567.28,670.68 570.69,671.37 573.42,673.41 576.14,678.18 578.87,687.73 581.6,697.28 584.33,701.64 585,702.73 587.73,700.91 590.45,698.73 593.18,697.64 594.09,702.73 594.64,786.36 595.91,782.73 598.64,766.36 601.36,748.18 604.09,728.18 606.45,706.36 606.82,760 607.73,759.09 608.64,720.91 610.45,702.73 612.27,691.82 614.09,687.82 615,686.73 615.36,811.82 616.82,809.09 619.55,800.91 622.27,790 624.09,768.18 625.91,753.64 628.64,737.27 631.36,724.55 635,718.18 637.73,712.73 640.09,705.45 641.73,706.36 643.55,704.18 645.91,709.09 648.64,713.64 651.36,720.91 654.09,726 656.82,724.55 659.55,722.73 662.27,722.36 665,727.27 667.73,731.82 670.45,734.55 673.18,735.09 675.91,733.64 678.64,730.91 680.09,730 680.27,826.36 684.09,826.36 685.91,802.73 687.73,790 690.09,786 692.27,786 695,790.91 697.73,799.09 699.91,807.27 701.73,810.36 704.09,808.55 706.82,804.55 709.55,800 712.27,794.55 715,784.55 717.73,771.82 720.45,759.09 723.18,750 726.82,741.82 730.45,737.27 733.18,736.36 735.91,737.27 739.55,738.73 743.18,738.18 746.82,735.82 750.45,734 753.18,733.64 755.91,736.36 758.64,742.73 761.36,747.27 764.09,749.09 766.82,747.27 769.55,745.45 770,745.45 773.64,746 777.27,747.27 780,746.36 782.73,743.64 786.36,737.27 790,730 792.73,728.18 797.27,727.27 800.91,722.73 804.55,717.27 808.18,712.73 810.91,710.55 814.55,709.64 817.27,708.55 820,707.82 822.73,708.18 825.45,710 828.18,713.64 830.91,718.18 833.64,721.82 836.36,723.27 839.09,723.09 841.82,724.18 844.55,729.09 847.27,734.55 850,738.73 852.73,740.91 855.45,741.27 859.09,739.64 862.36,738.73 865.45,739.09 869.09,740 871.82,738.18 874.55,733.64 877.27,727.27 880,721.82 882.73,719.64 886.36,719.09 889.09,718.18 891.45,711.82 894.55,706.36 898.18,702.73 901.82,701.82 905.45,700.55 909.09,700 912.73,701.82" fill="none" stroke="#ff0000" stroke-width="2.7" stroke-linejoin="round"/>
<path d="M200.45,635.23 204.55,637.27 208.64,640.68 211.36,645.46 214.09,653.64 215.46,661.82 216.82,674.09 218.86,678.18 220.23,683.64 221.59,694.55 222.27,700 224.32,702.73 225.68,704.1 227.05,700 228.41,704.1 230.18,705.46 231.14,697.28 232.5,692.5 233.18,700 234.82,706.82 235.91,704.1 237.27,695.91 238.64,691.82 240,692.5 241.37,684.32 244.09,680.91 246.82,674.09 249.55,665.91 251.59,656.37 253.64,655 256.37,649.55 260.46,642.05 264.55,640 268.64,639.32 271.37,638.64 274.09,640 276.82,639.32 279.55,637.27 282.28,635.23 285,637.27 289.1,639.32 291.82,642.73 295.91,645.18 297.96,646.14 299.73,642.05 300.69,644.09 301.37,653.64 302.73,657.73 304.1,683.64 305.46,694.55 306.82,702.73 308.19,710.91 309.28,719.1 310.23,710.91 311.6,719.1 312.28,734.78 313.37,710.91 314.73,710.91 315.69,727.28 317.05,732.05 318.41,731.37 319.78,728.64 321.14,719.1 322.51,713.64 324.55,709.55 326.6,702.73 327.96,698.64 330.01,697.28 331.37,691.14 332.73,695.23 334.1,691.82 336.82,686.37 338.87,683.64 342.28,680.23 345.01,676.82 347.73,671.37 350.46,665.91 354.55,661.14 358.64,657.73 361.37,656.37 365.46,656.09 369.55,655 371.6,657.05 375.69,655.27 377.74,659.09 381.83,665.91 385.24,672.73 388.65,676.82 390,676.82 392.73,682.28 395.45,689.09 397.09,701.37 398.86,694.55 400.91,691.82 403.64,693.19 406.36,700 409.09,705.46 411.14,708.87 412.5,706.14 414.27,703.41 415.23,708.87 417.27,711.19 419.32,708.87 421.37,705.46 422.46,704.1 424.09,698.64 426.82,693.19 429.55,689.09 432.27,682.28 435.68,678.18 438.41,672.73 441.14,668.64 444.55,666.59 447.28,663.87 451.37,661.55 455.46,660.46 459.55,660.18 463.64,661.55 466.37,662.09 469.09,662.5 472.5,665.91 474.55,664.55 477.28,667.96 480,672.05 482.73,678.18 484.78,691.82 486.14,697.28 487.5,701.37 488.87,699.32 490.91,708.87 492.96,704.1 494.32,702.73 496.37,712.28 498.14,726.6 499.1,715 501.14,710.91 503.19,701.37 505.23,703.41 507.28,705.46 509.73,710.23 511.37,704.1 513.41,700.69 516.14,697.28 518.19,690.46 520.23,686.37 522.28,684.32 524.32,679.55 526.37,675.46 529.1,672.73 533.19,671.37 537.28,668.64 540.01,667 544.1,666.59 546.83,665.23 549.55,665.91 551.6,665.23 553.64,666.18 555.69,665.64 559.1,667.28 562.51,670 565.24,674.78 567.28,678.87 570.01,681.59 572.74,685 574.78,690.46 576.14,704.1 577.51,695.23 578.87,697.28 580.24,705.46 582.28,708.19 584.33,711.6 585,706.36 587.73,705.45 589.55,715.45 591.36,720 593.18,714.55 595,713.64 596.82,702.73 599.55,699.09 602.27,693.64 605,688.18 607.73,683.64 610.45,677.27 613.18,673.64 616.82,671.45 620.45,667.27 624.09,663.64 628.64,660.91 633.18,660 639.55,660.55 645,660.91 649.55,662.73 653.18,666.36 655.91,670.91 658.64,673.64 660.45,676.91 663.18,674.55 665.91,678.18 669.55,680.91 672.27,684.18 675,686.36 676.82,692.73 678.64,696.36 680.45,694.55 682.27,700 683.73,696.36 685,702.73 686.09,708.18 686.82,720.91 687.91,710 689,701.82 691.36,695.45 694.09,690 697.73,686.36 701.36,681.82 705,678.18 710.45,672.73 714.09,665.45 717.73,662.73 720.45,657.64 722.27,660 724.09,664.55 726.82,660.91 729.55,665.45 733.18,670 735.91,679.09 737.73,691.82 739.55,698.18 742.27,697.27 745,702.73 747.73,710 749.55,715.45 751.36,719.09 752.64,722.73 753.36,762.73 754.45,739.09 755.55,719.09 756.82,724.55 758.64,731.82 760.45,728.18 763.18,727.27 765,723.64 766.82,729.09 768.27,735.09 770.45,730.91 771.82,729.09 772.73,719.09 774.55,711.82 777.27,705.45 780,701.82 782.73,698.73 786.36,696.36 790,693.64 793.64,691.82 797.27,690.91 800,686.73 803.64,683.64 806.36,682.73 810,679.09 813.64,677.64 817.27,675.82 820.91,674.55 824.55,673.64" fill="none" stroke="#000" stroke-width="2.7" stroke-linejoin="round"/>
</g>
<line x1="825" y1="822" x2="825" y2="479" stroke="#1f77b4" stroke-width="2" stroke-dasharray="2.08,3.43"/>
<line x1="200" y1="822" x2="205.7" y2="822" stroke="#000" stroke-width="1.4"/>
<text x="160.27" y="829.6" font-size="20">10</text>
<text x="186.32" y="822.6" font-size="14">0</text>
<line x1="200" y1="804.74" x2="204" y2="804.74" stroke="#000" stroke-width="1.3"/>
<line x1="200" y1="794.65" x2="204" y2="794.65" stroke="#000" stroke-width="1.3"/>
<line x1="200" y1="787.48" x2="204" y2="787.48" stroke="#000" stroke-width="1.3"/>
<line x1="200" y1="781.93" x2="204" y2="781.93" stroke="#000" stroke-width="1.3"/>
<line x1="200" y1="777.39" x2="204" y2="777.39" stroke="#000" stroke-width="1.3"/>
<line x1="200" y1="773.55" x2="204" y2="773.55" stroke="#000" stroke-width="1.3"/>
<line x1="200" y1="770.22" x2="204" y2="770.22" stroke="#000" stroke-width="1.3"/>
<line x1="200" y1="767.29" x2="204" y2="767.29" stroke="#000" stroke-width="1.3"/>
<line x1="200" y1="764.67" x2="205.7" y2="764.67" stroke="#000" stroke-width="1.4"/>
<text x="160.62" y="772.27" font-size="20">10</text>
<text x="186.67" y="765.27" font-size="14">1</text>
<line x1="200" y1="747.41" x2="204" y2="747.41" stroke="#000" stroke-width="1.3"/>
<line x1="200" y1="737.31" x2="204" y2="737.31" stroke="#000" stroke-width="1.3"/>
<line x1="200" y1="730.15" x2="204" y2="730.15" stroke="#000" stroke-width="1.3"/>
<line x1="200" y1="724.59" x2="204" y2="724.59" stroke="#000" stroke-width="1.3"/>
<line x1="200" y1="720.05" x2="204" y2="720.05" stroke="#000" stroke-width="1.3"/>
<line x1="200" y1="716.21" x2="204" y2="716.21" stroke="#000" stroke-width="1.3"/>
<line x1="200" y1="712.89" x2="204" y2="712.89" stroke="#000" stroke-width="1.3"/>
<line x1="200" y1="709.96" x2="204" y2="709.96" stroke="#000" stroke-width="1.3"/>
<line x1="200" y1="707.33" x2="205.7" y2="707.33" stroke="#000" stroke-width="1.4"/>
<text x="160.76" y="714.93" font-size="20">10</text>
<text x="186.81" y="707.93" font-size="14">2</text>
<line x1="200" y1="690.07" x2="204" y2="690.07" stroke="#000" stroke-width="1.3"/>
<line x1="200" y1="679.98" x2="204" y2="679.98" stroke="#000" stroke-width="1.3"/>
<line x1="200" y1="672.82" x2="204" y2="672.82" stroke="#000" stroke-width="1.3"/>
<line x1="200" y1="667.26" x2="204" y2="667.26" stroke="#000" stroke-width="1.3"/>
<line x1="200" y1="662.72" x2="204" y2="662.72" stroke="#000" stroke-width="1.3"/>
<line x1="200" y1="658.88" x2="204" y2="658.88" stroke="#000" stroke-width="1.3"/>
<line x1="200" y1="655.56" x2="204" y2="655.56" stroke="#000" stroke-width="1.3"/>
<line x1="200" y1="652.62" x2="204" y2="652.62" stroke="#000" stroke-width="1.3"/>
<line x1="200" y1="650" x2="205.7" y2="650" stroke="#000" stroke-width="1.4"/>
<text x="160.48" y="657.6" font-size="20">10</text>
<text x="186.53" y="650.6" font-size="14">3</text>
<line x1="200" y1="632.74" x2="204" y2="632.74" stroke="#000" stroke-width="1.3"/>
<line x1="200" y1="622.65" x2="204" y2="622.65" stroke="#000" stroke-width="1.3"/>
<line x1="200" y1="615.48" x2="204" y2="615.48" stroke="#000" stroke-width="1.3"/>
<line x1="200" y1="609.93" x2="204" y2="609.93" stroke="#000" stroke-width="1.3"/>
<line x1="200" y1="605.39" x2="204" y2="605.39" stroke="#000" stroke-width="1.3"/>
<line x1="200" y1="601.55" x2="204" y2="601.55" stroke="#000" stroke-width="1.3"/>
<line x1="200" y1="598.22" x2="204" y2="598.22" stroke="#000" stroke-width="1.3"/>
<line x1="200" y1="595.29" x2="204" y2="595.29" stroke="#000" stroke-width="1.3"/>
<line x1="200" y1="592.67" x2="205.7" y2="592.67" stroke="#000" stroke-width="1.4"/>
<text x="160.13" y="600.27" font-size="20">10</text>
<text x="186.18" y="593.27" font-size="14">4</text>
<line x1="200" y1="575.41" x2="204" y2="575.41" stroke="#000" stroke-width="1.3"/>
<line x1="200" y1="565.31" x2="204" y2="565.31" stroke="#000" stroke-width="1.3"/>
<line x1="200" y1="558.15" x2="204" y2="558.15" stroke="#000" stroke-width="1.3"/>
<line x1="200" y1="552.59" x2="204" y2="552.59" stroke="#000" stroke-width="1.3"/>
<line x1="200" y1="548.05" x2="204" y2="548.05" stroke="#000" stroke-width="1.3"/>
<line x1="200" y1="544.21" x2="204" y2="544.21" stroke="#000" stroke-width="1.3"/>
<line x1="200" y1="540.89" x2="204" y2="540.89" stroke="#000" stroke-width="1.3"/>
<line x1="200" y1="537.96" x2="204" y2="537.96" stroke="#000" stroke-width="1.3"/>
<line x1="200" y1="535.33" x2="205.7" y2="535.33" stroke="#000" stroke-width="1.4"/>
<text x="160.55" y="542.93" font-size="20">10</text>
<text x="186.6" y="535.93" font-size="14">5</text>
<line x1="200" y1="518.07" x2="204" y2="518.07" stroke="#000" stroke-width="1.3"/>
<line x1="200" y1="507.98" x2="204" y2="507.98" stroke="#000" stroke-width="1.3"/>
<line x1="200" y1="500.82" x2="204" y2="500.82" stroke="#000" stroke-width="1.3"/>
<line x1="200" y1="495.26" x2="204" y2="495.26" stroke="#000" stroke-width="1.3"/>
<line x1="200" y1="490.72" x2="204" y2="490.72" stroke="#000" stroke-width="1.3"/>
<line x1="200" y1="486.88" x2="204" y2="486.88" stroke="#000" stroke-width="1.3"/>
<line x1="200" y1="483.56" x2="204" y2="483.56" stroke="#000" stroke-width="1.3"/>
<line x1="200" y1="480.62" x2="204" y2="480.62" stroke="#000" stroke-width="1.3"/>
<line x1="200" y1="478" x2="205.7" y2="478" stroke="#000" stroke-width="1.4"/>
<text x="160.2" y="485.6" font-size="20">10</text>
<text x="186.25" y="478.6" font-size="14">6</text>
<line x1="914" y1="822" x2="909.1" y2="822" stroke="#000" stroke-width="1.4"/>
<line x1="914" y1="804.74" x2="911" y2="804.74" stroke="#000" stroke-width="1.3"/>
<line x1="914" y1="794.65" x2="911" y2="794.65" stroke="#000" stroke-width="1.3"/>
<line x1="914" y1="787.48" x2="911" y2="787.48" stroke="#000" stroke-width="1.3"/>
<line x1="914" y1="781.93" x2="911" y2="781.93" stroke="#000" stroke-width="1.3"/>
<line x1="914" y1="777.39" x2="911" y2="777.39" stroke="#000" stroke-width="1.3"/>
<line x1="914" y1="773.55" x2="911" y2="773.55" stroke="#000" stroke-width="1.3"/>
<line x1="914" y1="770.22" x2="911" y2="770.22" stroke="#000" stroke-width="1.3"/>
<line x1="914" y1="767.29" x2="911" y2="767.29" stroke="#000" stroke-width="1.3"/>
<line x1="914" y1="764.67" x2="909.1" y2="764.67" stroke="#000" stroke-width="1.4"/>
<line x1="914" y1="747.41" x2="911" y2="747.41" stroke="#000" stroke-width="1.3"/>
<line x1="914" y1="737.31" x2="911" y2="737.31" stroke="#000" stroke-width="1.3"/>
<line x1="914" y1="730.15" x2="911" y2="730.15" stroke="#000" stroke-width="1.3"/>
<line x1="914" y1="724.59" x2="911" y2="724.59" stroke="#000" stroke-width="1.3"/>
<line x1="914" y1="720.05" x2="911" y2="720.05" stroke="#000" stroke-width="1.3"/>
<line x1="914" y1="716.21" x2="911" y2="716.21" stroke="#000" stroke-width="1.3"/>
<line x1="914" y1="712.89" x2="911" y2="712.89" stroke="#000" stroke-width="1.3"/>
<line x1="914" y1="709.96" x2="911" y2="709.96" stroke="#000" stroke-width="1.3"/>
<line x1="914" y1="707.33" x2="909.1" y2="707.33" stroke="#000" stroke-width="1.4"/>
<line x1="914" y1="690.07" x2="911" y2="690.07" stroke="#000" stroke-width="1.3"/>
<line x1="914" y1="679.98" x2="911" y2="679.98" stroke="#000" stroke-width="1.3"/>
<line x1="914" y1="672.82" x2="911" y2="672.82" stroke="#000" stroke-width="1.3"/>
<line x1="914" y1="667.26" x2="911" y2="667.26" stroke="#000" stroke-width="1.3"/>
<line x1="914" y1="662.72" x2="911" y2="662.72" stroke="#000" stroke-width="1.3"/>
<line x1="914" y1="658.88" x2="911" y2="658.88" stroke="#000" stroke-width="1.3"/>
<line x1="914" y1="655.56" x2="911" y2="655.56" stroke="#000" stroke-width="1.3"/>
<line x1="914" y1="652.62" x2="911" y2="652.62" stroke="#000" stroke-width="1.3"/>
<line x1="914" y1="650" x2="909.1" y2="650" stroke="#000" stroke-width="1.4"/>
<line x1="914" y1="632.74" x2="911" y2="632.74" stroke="#000" stroke-width="1.3"/>
<line x1="914" y1="622.65" x2="911" y2="622.65" stroke="#000" stroke-width="1.3"/>
<line x1="914" y1="615.48" x2="911" y2="615.48" stroke="#000" stroke-width="1.3"/>
<line x1="914" y1="609.93" x2="911" y2="609.93" stroke="#000" stroke-width="1.3"/>
<line x1="914" y1="605.39" x2="911" y2="605.39" stroke="#000" stroke-width="1.3"/>
<line x1="914" y1="601.55" x2="911" y2="601.55" stroke="#000" stroke-width="1.3"/>
<line x1="914" y1="598.22" x2="911" y2="598.22" stroke="#000" stroke-width="1.3"/>
<line x1="914" y1="595.29" x2="911" y2="595.29" stroke="#000" stroke-width="1.3"/>
<line x1="914" y1="592.67" x2="909.1" y2="592.67" stroke="#000" stroke-width="1.4"/>
<line x1="914" y1="575.41" x2="911" y2="575.41" stroke="#000" stroke-width="1.3"/>
<line x1="914" y1="565.31" x2="911" y2="565.31" stroke="#000" stroke-width="1.3"/>
<line x1="914" y1="558.15" x2="911" y2="558.15" stroke="#000" stroke-width="1.3"/>
<line x1="914" y1="552.59" x2="911" y2="552.59" stroke="#000" stroke-width="1.3"/>
<line x1="914" y1="548.05" x2="911" y2="548.05" stroke="#000" stroke-width="1.3"/>
<line x1="914" y1="544.21" x2="911" y2="544.21" stroke="#000" stroke-width="1.3"/>
<line x1="914" y1="540.89" x2="911" y2="540.89" stroke="#000" stroke-width="1.3"/>
<line x1="914" y1="537.96" x2="911" y2="537.96" stroke="#000" stroke-width="1.3"/>
<line x1="914" y1="535.33" x2="909.1" y2="535.33" stroke="#000" stroke-width="1.4"/>
<line x1="914" y1="518.07" x2="911" y2="518.07" stroke="#000" stroke-width="1.3"/>
<line x1="914" y1="507.98" x2="911" y2="507.98" stroke="#000" stroke-width="1.3"/>
<line x1="914" y1="500.82" x2="911" y2="500.82" stroke="#000" stroke-width="1.3"/>
<line x1="914" y1="495.26" x2="911" y2="495.26" stroke="#000" stroke-width="1.3"/>
<line x1="914" y1="490.72" x2="911" y2="490.72" stroke="#000" stroke-width="1.3"/>
<line x1="914" y1="486.88" x2="911" y2="486.88" stroke="#000" stroke-width="1.3"/>
<line x1="914" y1="483.56" x2="911" y2="483.56" stroke="#000" stroke-width="1.3"/>
<line x1="914" y1="480.62" x2="911" y2="480.62" stroke="#000" stroke-width="1.3"/>
<line x1="914" y1="478" x2="909.1" y2="478" stroke="#000" stroke-width="1.4"/>
<line x1="248.6" y1="822" x2="248.6" y2="817.1" stroke="#000" stroke-width="1.4"/>
<line x1="337.85" y1="822" x2="337.85" y2="817.1" stroke="#000" stroke-width="1.4"/>
<line x1="427.1" y1="822" x2="427.1" y2="817.1" stroke="#000" stroke-width="1.4"/>
<line x1="516.35" y1="822" x2="516.35" y2="817.1" stroke="#000" stroke-width="1.4"/>
<line x1="605.6" y1="822" x2="605.6" y2="817.1" stroke="#000" stroke-width="1.4"/>
<line x1="694.85" y1="822" x2="694.85" y2="817.1" stroke="#000" stroke-width="1.4"/>
<line x1="784.1" y1="822" x2="784.1" y2="817.1" stroke="#000" stroke-width="1.4"/>
<line x1="873.35" y1="822" x2="873.35" y2="817.1" stroke="#000" stroke-width="1.4"/>
<line x1="200" y1="477" x2="200" y2="823" stroke="#000" stroke-width="2"/>
<line x1="914" y1="477" x2="914" y2="823" stroke="#000" stroke-width="2"/>
<line x1="199" y1="478" x2="915" y2="478" stroke="#000" stroke-width="2"/>
<line x1="199" y1="822" x2="915" y2="822" stroke="#000" stroke-width="2"/>
<text x="235.68" y="511.75" font-size="24">Geostationary orbit:</text>
<text x="499.43" y="511.75" font-size="24">GOES 15,</text>
<text x="628.1" y="511.75" font-size="24" fill="#ff0000">Model</text>
<text transform="translate(113.3,791.74) rotate(-90)" font-size="24">&gt;2.0 MeV Electron Flux</text>
<g transform="translate(146.3,743.82) rotate(-90)">
<text x="-2.04" y="0" font-size="24">( cm</text>
<text x="51.79" y="-9.9" font-size="16.8">−2</text>
<text x="81.13" y="0" font-size="24">s</text>
<text x="93.29" y="-9.9" font-size="16.8">−1</text>
<text x="123.13" y="0" font-size="24">sr</text>
<text x="145.19" y="-9.9" font-size="16.8">−1</text>
<text x="179.73" y="0" font-size="24">)</text>
</g>
<clipPath id="c3"><rect x="200" y="845" width="714" height="172"/></clipPath>
<g clip-path="url(#c3)" fill="#008000">
<rect x="198.64" y="997.89" width="8.93" height="19.11"/>
<rect x="209.8" y="978.78" width="8.93" height="38.22"/>
<rect x="220.95" y="997.89" width="8.93" height="19.11"/>
<rect x="232.11" y="991.58" width="8.93" height="25.42"/>
<rect x="243.26" y="1004.2" width="8.93" height="12.8"/>
<rect x="254.42" y="1004.2" width="8.93" height="12.8"/>
<rect x="276.73" y="1010.69" width="8.93" height="6.31"/>
<rect x="287.89" y="965.98" width="8.93" height="51.02"/>
<rect x="299.04" y="978.78" width="8.93" height="38.22"/>
<rect x="310.2" y="985.09" width="8.93" height="31.91"/>
<rect x="321.36" y="1004.2" width="8.93" height="12.8"/>
<rect x="332.51" y="1010.69" width="8.93" height="6.31"/>
<rect x="343.67" y="1004.2" width="8.93" height="12.8"/>
<rect x="354.82" y="997.89" width="8.93" height="19.11"/>
<rect x="365.98" y="991.58" width="8.93" height="25.42"/>
<rect x="377.14" y="1004.2" width="8.93" height="12.8"/>
<rect x="388.29" y="991.58" width="8.93" height="25.42"/>
<rect x="399.45" y="1010.69" width="8.93" height="6.31"/>
<rect x="410.6" y="1010.69" width="8.93" height="6.31"/>
<rect x="421.76" y="1004.2" width="8.93" height="12.8"/>
<rect x="432.92" y="997.89" width="8.93" height="19.11"/>
<rect x="444.07" y="1010.69" width="8.93" height="6.31"/>
<rect x="455.23" y="997.89" width="8.93" height="19.11"/>
<rect x="466.38" y="985.09" width="8.93" height="31.91"/>
<rect x="477.54" y="991.58" width="8.93" height="25.42"/>
<rect x="488.7" y="1010.69" width="8.93" height="6.31"/>
<rect x="499.85" y="1004.2" width="8.93" height="12.8"/>
<rect x="511.01" y="997.89" width="8.93" height="19.11"/>
<rect x="522.16" y="1004.2" width="8.93" height="12.8"/>
<rect x="533.32" y="1010.69" width="8.93" height="6.31"/>
<rect x="544.48" y="1004.2" width="8.93" height="12.8"/>
<rect x="555.63" y="991.58" width="8.93" height="25.42"/>
<rect x="566.79" y="991.58" width="8.93" height="25.42"/>
<rect x="577.94" y="997.89" width="8.93" height="19.11"/>
<rect x="589.1" y="1010.69" width="8.93" height="6.31"/>
<rect x="600.26" y="1004.2" width="8.93" height="12.8"/>
<rect x="611.41" y="991.58" width="8.93" height="25.42"/>
<rect x="622.57" y="997.89" width="8.93" height="19.11"/>
<rect x="633.72" y="997.89" width="8.93" height="19.11"/>
<rect x="644.88" y="991.58" width="8.93" height="25.42"/>
<rect x="656.04" y="1004.2" width="8.93" height="12.8"/>
<rect x="667.19" y="991.58" width="8.93" height="25.42"/>
<rect x="678.35" y="985.09" width="8.93" height="31.91"/>
<rect x="689.5" y="1004.2" width="8.93" height="12.8"/>
<rect x="700.66" y="997.89" width="8.93" height="19.11"/>
<rect x="711.82" y="972.47" width="8.93" height="44.53"/>
<rect x="722.97" y="985.09" width="8.93" height="31.91"/>
<rect x="734.13" y="997.89" width="8.93" height="19.11"/>
<rect x="745.28" y="978.78" width="8.93" height="38.22"/>
<rect x="756.44" y="991.58" width="8.93" height="25.42"/>
<rect x="767.6" y="997.89" width="8.93" height="19.11"/>
<rect x="778.75" y="1010.69" width="8.93" height="6.31"/>
<rect x="789.91" y="1010.69" width="8.93" height="6.31"/>
<rect x="801.06" y="1004.2" width="8.93" height="12.8"/>
<rect x="812.22" y="1010.69" width="8.93" height="6.31"/>
<rect x="823.38" y="1010.69" width="8.93" height="6.31"/>
<rect x="834.53" y="1010.69" width="8.93" height="6.31"/>
<rect x="845.69" y="1010.69" width="8.93" height="6.31"/>
<rect x="856.84" y="1010.69" width="8.93" height="6.31"/>
<rect x="868" y="1010.69" width="8.93" height="6.31"/>
<rect x="879.16" y="1010.69" width="8.93" height="6.31"/>
<rect x="890.31" y="1010.69" width="8.93" height="6.31"/>
<rect x="901.47" y="1010.69" width="8.93" height="6.31"/>
</g>
<line x1="825" y1="1017" x2="825" y2="846" stroke="#1f77b4" stroke-width="2" stroke-dasharray="2.08,3.43"/>
<text transform="translate(875,1000.6) rotate(-90)" font-size="31" fill="#808080" fill-opacity="0.22">Forecast</text>
<line x1="200" y1="978.78" x2="205.7" y2="978.78" stroke="#000" stroke-width="1.4"/>
<line x1="914" y1="978.78" x2="909.1" y2="978.78" stroke="#000" stroke-width="1.4"/>
<line x1="200" y1="940.56" x2="205.7" y2="940.56" stroke="#000" stroke-width="1.4"/>
<line x1="914" y1="940.56" x2="909.1" y2="940.56" stroke="#000" stroke-width="1.4"/>
<line x1="200" y1="902.34" x2="205.7" y2="902.34" stroke="#000" stroke-width="1.4"/>
<line x1="914" y1="902.34" x2="909.1" y2="902.34" stroke="#000" stroke-width="1.4"/>
<line x1="200" y1="864.12" x2="205.7" y2="864.12" stroke="#000" stroke-width="1.4"/>
<line x1="914" y1="864.12" x2="909.1" y2="864.12" stroke="#000" stroke-width="1.4"/>
<text x="195.4" y="1024.6" font-size="20" text-anchor="end">0</text>
<text x="195.4" y="986.38" font-size="20" text-anchor="end">2</text>
<text x="195.4" y="948.16" font-size="20" text-anchor="end">4</text>
<text x="195.4" y="909.94" font-size="20" text-anchor="end">6</text>
<text x="195.4" y="871.72" font-size="20" text-anchor="end">8</text>
<line x1="248.6" y1="1017" x2="248.6" y2="1012.1" stroke="#000" stroke-width="1.4"/>
<text x="248.6" y="1037.2" font-size="20" text-anchor="middle">17</text>
<line x1="337.85" y1="1017" x2="337.85" y2="1012.1" stroke="#000" stroke-width="1.4"/>
<text x="337.85" y="1037.2" font-size="20" text-anchor="middle">18</text>
<line x1="427.1" y1="1017" x2="427.1" y2="1012.1" stroke="#000" stroke-width="1.4"/>
<text x="427.1" y="1037.2" font-size="20" text-anchor="middle">19</text>
<line x1="516.35" y1="1017" x2="516.35" y2="1012.1" stroke="#000" stroke-width="1.4"/>
<text x="516.35" y="1037.2" font-size="20" text-anchor="middle">20</text>
<line x1="605.6" y1="1017" x2="605.6" y2="1012.1" stroke="#000" stroke-width="1.4"/>
<text x="605.6" y="1037.2" font-size="20" text-anchor="middle">21</text>
<line x1="694.85" y1="1017" x2="694.85" y2="1012.1" stroke="#000" stroke-width="1.4"/>
<text x="694.85" y="1037.2" font-size="20" text-anchor="middle">22</text>
<line x1="784.1" y1="1017" x2="784.1" y2="1012.1" stroke="#000" stroke-width="1.4"/>
<text x="784.1" y="1037.2" font-size="20" text-anchor="middle">23</text>
<line x1="873.35" y1="1017" x2="873.35" y2="1012.1" stroke="#000" stroke-width="1.4"/>
<text x="873.35" y="1037.2" font-size="20" text-anchor="middle">24</text>
<line x1="200" y1="844" x2="200" y2="1018" stroke="#000" stroke-width="2"/>
<line x1="914" y1="844" x2="914" y2="1018" stroke="#000" stroke-width="2"/>
<line x1="199" y1="845" x2="915" y2="845" stroke="#000" stroke-width="2"/>
<line x1="199" y1="1017" x2="915" y2="1017" stroke="#000" stroke-width="2"/>
<rect x="207.4" y="852.4" width="88.4" height="66.4" rx="3" fill="#fff" fill-opacity="0.8" stroke="#ccc" stroke-width="1.3"/>
<rect x="213" y="859" width="28" height="10.5" fill="#008000"/>
<text x="251.21" y="868.9" font-size="13.9">Kp&lt;3</text>
<rect x="213" y="880" width="28" height="10.5" fill="#bfbf00"/>
<text x="251.21" y="889.9" font-size="13.9">Kp&lt;5</text>
<rect x="213" y="901" width="28" height="10.5" fill="#ff0000"/>
<text x="251.21" y="910.9" font-size="13.9">Kp&gt;5</text>
<text transform="translate(172.5,950.32) rotate(-90)" font-size="24">Kp</text>
<text x="557" y="1066.1" font-size="24" text-anchor="middle">August 2019 (UT)</text>
<clipPath id="r1"><rect x="1205" y="110" width="595" height="345"/></clipPath>
<line x1="1205" y1="282.5" x2="1799" y2="282.5" stroke="#000" stroke-width="2" stroke-dasharray="2.08,3.43"/>
<g clip-path="url(#r1)">
<path d="M1205.5,269.35 1206.4,276.97 1207.3,270.75 1208.2,281.57 1209.1,286.09 1210,294.77 1210.9,280.91 1211.8,296.29 1212.7,299.79 1213.6,318.96 1214.5,318.57 1215.4,320.16 1216.3,302.08 1217.2,285.78 1218.1,268.95 1219,272.32 1219.9,280.35 1220.8,297.47 1221.7,277.98 1222.6,276.95 1223.5,258.01 1224.4,270.46 1225.3,286.15 1226.2,279.81 1227.1,260.98 1228,301.51 1228.9,306.07 1229.8,310.72 1230.7,303.16 1231.6,286.56 1232.5,269.26 1233.4,295.05 1234.3,301.04 1235.2,298.84 1236.1,290.43 1237,310.3 1237.9,292.55 1238.8,288.6 1239.7,287.89 1240.6,302.5 1241.5,291.36 1242.4,290.41 1243.3,280.75 1244.2,291.41 1245.1,292.01 1246,287.22 1246.9,271.55 1247.8,281.11 1248.7,277.88 1249.6,291.52 1250.5,292.79 1251.4,286.88 1252.3,277.37 1253.2,295.6 1254.1,291.79 1255,293.9 1255.9,287.21 1256.8,292.63 1257.7,283.6 1258.6,287.49 1259.5,280.41 1260.4,284.15 1261.3,272.52 1262.2,270.03 1263.1,257.4 1264,265.93 1264.9,266.95 1265.8,270.28 1266.7,261.88 1267.6,274.29 1268.5,270.05 1269.4,266.02 1270.3,250.38 1271.2,252.44 1272.1,258.99 1273,267.82 1273.9,257.89 1274.8,274.21 1275.7,282.03 1276.6,286.34 1277.5,279.49 1278.4,297.45 1279.3,310.07 1280.2,310.6 1281.1,266.21 1282,309.98 1282.9,311.73 1283.8,312.77 1284.7,286.62 1285.6,301.27 1286.5,318.21 1287.4,261 1288.3,283.41 1289.2,307.12 1290.1,259.56 1291,250.96 1291.9,237.37 1292.8,251.3 1293.7,265.25 1294.6,317.29 1295.5,280.14 1296.4,263.05 1297.3,276.11 1298.2,274 1299.1,254.51 1300,287.97 1300.9,305.49 1301.8,306.18 1302.7,287.17 1303.6,280.07 1304.5,280.46 1305.4,308.09 1306.3,289.42 1307.2,281.97 1308.1,274.22 1309,299.24 1309.9,284.91 1310.8,279.88 1311.7,271.77 1312.6,296.55 1313.5,282.21 1314.4,274.12 1315.3,264.78 1316.2,283.08 1317.1,278.35 1318,280.63 1318.9,263.31 1319.8,268.39 1320.7,274.82 1321.6,295.03 1322.5,296.47 1323.4,309.19 1324.3,301.79 1325.2,292.42 1326.1,264.55 1327,279.98 1327.9,287.47 1328.8,300.56 1329.7,298.71 1330.6,297.64 1331.5,281.43 1332.4,295.18 1333.3,298.9 1334.2,312.75 1335.1,306.25 1336,291.49 1336.9,266.55 1337.8,299.05 1338.7,301.93 1339.6,311.24 1340.5,288.71 1341.4,267.77 1342.3,272.65 1343.2,296.72 1344.1,303.97 1345,321.09 1345.9,312.52 1346.8,320.23 1347.7,304.11 1348.6,306.39 1349.5,294.78 1350.4,298.94 1351.3,293.73 1352.2,301.99 1353.1,296.99 1354,299.23 1354.9,284 1355.8,279.33 1356.7,268.43 1357.6,291.73 1358.5,279.35 1359.4,272.08 1360.3,262.7 1361.2,280.86 1362.1,289.89 1363,302.85 1363.9,301.67 1364.8,309.59 1365.7,298.94 1366.6,288.21 1367.5,262.67 1368.4,270.6 1369.3,265.72 1370.2,280.68 1371.1,279.14 1372,279.64 1372.9,261.51 1373.8,278.75 1374.7,275.04 1375.6,282.03 1376.5,266.86 1377.4,285.32 1378.3,287.71 1379.2,301.98 1380.1,308.85 1381,303.92 1381.9,277.08 1382.8,286.85 1383.7,282.13 1384.6,284.46 1385.5,273.88 1386.4,274.71 1387.3,265.93 1388.2,271.91 1389.1,270.44 1390,276.42 1390.9,267.84 1391.8,269.27 1392.7,268.63 1393.6,285.93 1394.5,271.64 1395.4,274 1396.3,270.07 1397.2,284.56 1398.1,283.68 1399,284.04 1399.9,274.91 1400.8,276.9 1401.7,264.12 1402.6,262.51 1403.5,260.72 1404.4,285.74 1405.3,278.61 1406.2,271.86 1407.1,261.2 1408,271.66 1408.9,268.84 1409.8,268.15 1410.7,252.84 1411.6,254.54 1412.5,254.43 1413.4,266.56 1414.3,261.02 1415.2,259.35 1416.1,239.37 1417,250.58 1417.9,247.41 1418.8,254.35 1419.7,259.9 1420.6,302.02 1421.5,293.59 1422.4,299.05 1423.3,279.67 1424.2,262.65 1425.1,300.24 1426,311.59 1426.9,298.52 1427.8,283.68 1428.7,259.06 1429.6,254.42 1430.5,251.86 1431.4,255.7 1432.3,241.97 1433.2,250.55 1434.1,281.43 1435,318.36 1435.9,338.39 1436.8,286.03 1437.7,262.23 1438.6,290.84 1439.5,284.36 1440.4,253.04 1441.3,226.44 1442.2,231.04 1443.1,235.39 1444,254.09 1444.9,244.79 1445.8,249.71 1446.7,239.38 1447.6,254.13 1448.5,260.99 1449.4,257.14 1450.3,238.43 1451.2,239.31 1452.1,227.18 1453,225.94 1453.9,220.03 1454.8,225.83 1455.7,218.99 1456.6,241.12 1457.5,237.95 1458.4,235.47 1459.3,226.92 1460.2,241.54 1461.1,235.07 1462,262.42 1462.9,274.28 1463.8,293.41 1464.7,270.74 1465.6,254.27 1466.5,261.03 1467.4,285.32 1468.3,295.43 1469.2,292.63 1470.1,257.73 1471,269.92 1471.9,280.89 1472.8,283.1 1473.7,270.33 1474.6,274.46 1475.5,263.9 1476.4,271.47 1477.3,266.84 1478.2,277.09 1479.1,276.13 1480,282.8 1480.9,277.02 1481.8,286.07 1482.7,283.89 1483.6,287.45 1484.5,270.34 1485.4,280.26 1486.3,284.92 1487.2,295.38 1488.1,290.33 1489,296.15 1489.9,293.12 1490.8,302.62 1491.7,291.79 1492.6,274.48 1493.5,256.4 1494.4,270.19 1495.3,265.31 1496.2,277.96 1497.1,275.9 1498,297.47 1498.9,301.86 1499.8,298.61 1500.7,279.39 1501.6,282.71 1502.5,274.05 1503.4,299.15 1504.3,296.77 1505.2,294.02 1506.1,271.87 1507,284.72 1507.9,280.12 1508.8,280.66 1509.7,267.01 1510.6,280.02 1511.5,303.81 1512.4,294.58 1513.3,274.02 1514.2,272.9 1515.1,276.49 1516,301.83 1516.9,287.7 1517.8,284.16 1518.7,271.8 1519.6,279.88 1520.5,268.86 1521.4,274.21 1522.3,265.72 1523.2,270.28 1524.1,263.17 1525,270.56 1525.9,261.22 1526.8,272.82 1527.7,267.41 1528.6,281.4 1529.5,276.49 1530.4,287.54 1531.3,277.61 1532.2,285.32 1533.1,272.82 1534,281.31 1534.9,277.22 1535.8,285.16 1536.7,282.31 1537.6,292.11 1538.5,287.46 1539.4,287.32 1540.3,273.23 1541.2,279.77 1542.1,273.11 1543,282.56 1543.9,264.89 1544.8,258.84 1545.7,262.4 1546.6,283.03 1547.5,280.37 1548.4,291.34 1549.3,280.7 1550.2,280.31 1551.1,269.98 1552,285.39 1552.9,283 1553.8,289.73 1554.7,277.28 1555.6,286.19 1556.5,276.2 1557.4,281.64 1558.3,276.96 1559.2,280.03 1560.1,271.11 1561,280.96 1561.9,273.61 1562.8,278.64 1563.7,269.75 1564.6,274.96 1565.5,266.81 1566.4,276.9 1567.3,279.81 1568.2,289.55 1569.1,285.15 1570,287.66 1570.9,276.69 1571.8,284.96 1572.7,281.71 1573.6,291.74 1574.5,282.38 1575.4,285.25 1576.3,274.38 1577.2,275.68 1578.1,269 1579,275.07 1579.9,272.81 1580.8,280.53 1581.7,273.02 1582.6,277.33 1583.5,268.8 1584.4,269.32 1585.3,271.98 1586.2,285.04 1587.1,272.71 1588,270.79 1588.9,262.65 1589.8,267.41 1590.7,263.56 1591.6,273.81 1592.5,267.99 1593.4,287.5 1594.3,291.92 1595.2,300.7 1596.1,293.84 1597,305.74 1597.9,274.23 1598.8,276.63 1599.7,278.47 1600.6,296.64 1601.5,284.62 1602.4,285.05 1603.3,275.37 1604.2,296.11 1605.1,304.42 1606,287.77 1606.9,265.62 1607.8,286.32 1608.7,288.93 1609.6,291.14 1610.5,275.43 1611.4,273.1 1612.3,273.86 1613.2,292.1 1614.1,287.73 1615,280.4 1615.9,270.34 1616.8,288.15 1617.7,287.74 1618.6,284.14 1619.5,266.48 1620.4,280.31 1621.3,284.83 1622.2,293.82 1623.1,266.4 1624,274.27 1624.9,292.31 1625.8,310.18 1626.7,311.03 1627.6,312.89 1628.5,301.9 1629.4,300.69 1630.3,301.72 1631.2,309.83 1632.1,294.21 1633,272.06 1633.9,276.53 1634.8,295.35 1635.7,284.36 1636.6,290.05 1637.5,276.03 1638.4,304.42 1639.3,305.63 1640.2,275.38 1641.1,249.27 1642,268.78 1642.9,265.78 1643.8,270.26 1644.7,258.73 1645.6,276.94 1646.5,280.21 1647.4,293.96 1648.3,272.4 1649.2,266.78 1650.1,256.16 1651,262.14 1651.9,258.25 1652.8,273.3 1653.7,275.81 1654.6,298.96 1655.5,276.86 1656.4,267.22 1657.3,257.28 1658.2,289.91 1659.1,301.18 1660,316.89 1660.9,313.23 1661.8,320.68 1662.7,295.45 1663.6,278.22 1664.5,265.86 1665.4,271.83 1666.3,270.85 1667.2,277.44 1668.1,257.71 1669,262.02 1669.9,258.11 1670.8,274.38 1671.7,279.72 1672.6,295.76 1673.5,282.06 1674.4,281.56 1675.3,288.59 1676.2,305 1677.1,301.67 1678,308.1 1678.9,294.12 1679.8,286.62 1680.7,275.07 1681.6,280.72 1682.5,271.77 1683.4,288.68 1684.3,285.66 1685.2,294.1 1686.1,288.74 1687,290.51 1687.9,281.41 1688.8,284.14 1689.7,275.67 1690.6,282.53 1691.5,275.11 1692.4,283.33 1693.3,275.01 1694.2,280.29 1695.1,276.98 1696,287.4 1696.9,285.96 1697.8,298.73 1698.7,288.21 1699.6,290.71 1700.5,272.55 1701.4,275.88 1702.3,278.4 1703.2,291.14 1704.1,271.11 1705,278.2 1705.9,272.44 1706.8,275.18 1707.7,275.99 1708.6,295.42 1709.5,301.25 1710.4,299.91 1711.3,280.35 1712.2,286.52 1713.1,286.4 1714,296.64 1714.9,280.32 1715.8,276.68 1716.7,276.45 1717.6,299.29 1718.5,279.28 1719.4,272.84 1720.3,283.11 1721.2,300.42 1722.1,282.63 1723,281.64 1723.9,274.35 1724.8,281.5 1725.7,285.93 1726.6,289.08" fill="none" stroke="#000" stroke-width="2.4" stroke-linejoin="round" id="bz"/>
<use href="#bz" transform="translate(0.55,1.6)"/><use href="#bz" transform="translate(-0.55,-1.6)"/>
<path d="M1205.5,325.52 1206.3,330.04 1207.1,321.82 1207.9,329.56 1208.7,322.43 1209.5,326.19 1210.3,320.37 1211.1,328.61 1211.9,324.68 1212.7,328.61 1213.5,324.99 1214.3,332.16 1215.1,326 1215.9,331.14 1216.7,326.1 1217.5,332.22 1218.3,327.61 1219.1,333.64 1219.9,326.83 1220.7,331.78 1221.5,328.15 1222.3,332.99 1223.1,326.9 1223.9,329.95 1224.7,325.36 1225.5,332.41 1226.3,323.33 1227.1,329.39 1227.9,324.45 1228.7,328.57 1229.5,324.09 1230.3,327.91 1231.1,321.7 1231.9,329.29 1232.7,321.76 1233.5,327.89 1234.3,320.82 1235.1,329.89 1235.9,321.18 1236.7,330.04 1237.5,323.3 1238.3,330.22 1239.1,326.53 1240,336.73 1240.7,324.7 1241.5,332.08 1242.3,328.69 1243.1,333.14 1243.9,329.22 1244.7,334.43 1245.5,329.8 1246.3,335.3 1247.1,330.75 1247.9,335.3 1248.7,329.98 1249.5,335.35 1250.3,331.08 1251.1,337.06 1251.9,330.89 1252.7,339.78 1253.5,334.09 1254.3,340.39 1255.1,336.34 1255.9,343.59 1256.7,338.79 1257.5,346.47 1258.3,340.23 1259.1,347.33 1259.9,340.36 1260.7,345.17 1261.5,339.07 1262.3,343.12 1263.1,335.39 1263.9,340.03 1264.7,331.37 1265.5,336.35 1266.3,327.95 1267.1,335.08 1267.9,327.85 1268.7,334.54 1269.5,327.15 1270.3,331.06 1271.1,324.77 1271.9,331.16 1272.7,325.24 1273.5,331.5 1274.3,325.19 1275.1,331.52 1275.9,324.21 1276.7,330.88 1277.5,322.36 1278.3,330.28 1279.1,322.25 1279.9,328.56 1280.7,325.82 1281.5,331.89 1282.3,324.3 1283.1,330.34 1283.9,325.57 1284.7,333.45 1285.5,328.64 1286.3,335.37 1287.1,329.06 1287.9,335.56 1288.7,331.87 1289.5,335.34 1290.3,329.8 1291.1,335.6 1291.9,326.49 1292.7,333.39 1293.5,327.01 1294.3,330.49 1295.1,325.01 1295.9,333.86 1296.7,327.41 1297.5,332.5 1298.3,327.81 1299.1,335.07 1299.64,341.09 1300.7,335.91 1301.5,325.72 1302.3,337.41 1303.1,329.83 1303.9,338.03 1304.7,330.37 1305.5,334.94 1306.3,329.56 1307.1,337.05 1307.9,327.79 1308.7,335.1 1309.5,325.64 1310.3,333.88 1311.1,325.07 1311.9,334.86 1312.73,342.55 1313.5,332.95 1314.3,326.42 1315.1,332.57 1315.9,322.74 1316.7,331.8 1317.5,324.42 1318.3,331.91 1319.1,323.47 1319.9,327.93 1320.7,322.56 1321.5,331.88 1322.3,323.14 1323.1,330.56 1323.9,325.87 1324.7,334.92 1325.5,326.1 1326.3,333.58 1327.1,325.47 1327.9,334.45 1328.7,326.32 1329.5,334.4 1330.3,325.54 1331.1,330.6 1331.9,326.69 1332.7,329.75 1333.5,326.52 1334.3,332.5 1335.1,326.85 1335.9,331.37 1336.7,325.86 1337.5,334.46 1338.3,326.54 1339.1,332.58 1339.9,326.03 1340.7,331.36 1341.5,326.81 1342.3,331.85 1343.1,325.52 1343.9,331.02 1344.7,327.5 1345.5,332.2 1346.3,327.2 1347.1,331.47 1347.9,325.11 1348.7,330.73 1349.5,326.68 1350.3,332.79 1351.1,324.52 1351.9,331.01 1352.7,324.28 1353.5,331.99 1354.3,325.03 1355.1,329.16 1355.9,323.64 1356.7,329.45 1357.5,322.19 1358.3,331.02 1359.1,323.23 1359.9,329.13 1360.7,324.16 1361.5,329.67 1362.3,323.42 1363.1,328.64 1363.9,322.58 1364.7,325.19 1365.5,320.09 1366.3,324.5 1367.1,320.52 1367.9,325.57 1368.7,322.06 1369.5,327.23 1370.3,323.27 1371.1,327.75 1371.9,323.33 1372.7,329.6 1373.5,324.33 1374.11,341.09 1375.1,322.4 1375.9,329.99 1376.7,325.7 1377.5,330.94 1378.3,324.24 1379.1,330.82 1379.9,326.39 1380.7,333.28 1381.5,326.07 1382.3,334.37 1383.1,327.39 1383.9,334.8 1384.7,327.48 1385.5,335.21 1386.3,328.58 1387.1,335.26 1387.9,328.54 1388.7,332.15 1389.5,328.27 1390.3,333.03 1391.1,326.19 1391.9,333.96 1392.7,325.37 1393.5,332.69 1394.3,328.14 1395.1,332.43 1395.9,327.82 1396.7,331.33 1397.5,326.03 1398.3,332.33 1399.1,326.98 1399.9,336.22 1400.7,329.89 1401.5,337.1 1402.3,330.13 1403.1,335.9 1403.9,329.94 1404.7,335.05 1405.5,331.14 1406.3,338.07 1407.1,329.84 1407.9,337.69 1408.7,330.61 1409.5,337.83 1410.3,333.26 1411.1,338.99 1411.9,332.32 1412.7,338.94 1413.5,332.66 1414.3,336.24 1415.1,333.51 1415.9,339.46 1416.7,333.07 1417.5,339.09 1418.3,332.33 1419.1,340.46 1419.9,332.38 1420.7,340.75 1421.5,334.25 1422.3,341.24 1423.1,335.67 1423.9,340.41 1424.7,338.18 1425.5,341.46 1426.3,337.88 1427.1,342.89 1427.9,337.67 1428.7,343.34 1429.5,336.21 1430.3,341.87 1431.1,332.49 1431.9,340.15 1432.7,331.2 1433.5,335.48 1434.3,328.41 1435.1,332.97 1435.9,328.16 1436.7,330.18 1437.5,323.22 1438.3,328.35 1439.1,322.32 1439.9,328.51 1440.7,323.02 1441.5,326.77 1442.3,321.94 1443.1,327.74 1443.9,322.22 1444.7,327.95 1445.5,325.74 1446.3,330.78 1447.1,326.65 1447.9,330.5 1448.68,342.03 1449.5,327.44 1450.3,318.05 1451.1,325.52 1451.9,316.2 1452.7,321.13 1453.5,311.31 1454.3,323.95 1455.1,313.47 1455.9,321.15 1456.7,313.69 1457.5,317.82 1458.3,310.23 1459.1,321.02 1459.9,307.15 1460.7,318.15 1461.5,309.14 1462.3,316.54 1463.1,306.37 1463.9,319.54 1464.7,307.37 1465.5,313.71 1466.3,307.92 1467.1,313.12 1467.9,306.92 1468.7,316.26 1469.5,305.24 1470.3,312.58 1471.1,305.79 1471.9,314.55 1472.7,302.95 1473.5,315.35 1474.3,302.93 1475.1,317.11 1475.52,332.21 1476.7,314.01 1477.5,306.09 1478.3,314.02 1479.1,308.38 1479.9,317.83 1480.7,308.59 1481.5,318.31 1482.3,309.53 1483.1,316.26 1483.9,308.43 1484.7,316.38 1485.5,311.05 1486.3,316.75 1487.1,311.1 1487.9,315.43 1488.7,309.8 1489.5,312.83 1490.3,306.44 1491.24,306.02 1491.9,306.51 1492.7,312.8 1493.5,309.3 1494.3,313.85 1495.1,309.72 1495.9,315.8 1496.7,310.22 1497.5,316.61 1498.3,311.43 1499.1,315.25 1499.9,310.49 1500.7,315.8 1501.5,312.26 1502.3,319.31 1503.1,313.04 1503.9,318.66 1504.7,316.17 1505.5,319.97 1506.3,317.43 1507.1,321.48 1507.9,316.42 1508.7,323.9 1509.5,315.59 1510.3,323.89 1511.1,317.83 1511.9,321.77 1512.7,317.33 1513.5,322.33 1514.3,317.99 1515.1,322.99 1515.9,315.26 1516.7,321.73 1517.5,315.84 1518.3,323.51 1519.1,316.65 1519.9,323.83 1520.7,312.67 1521.5,325.04 1522.3,315.01 1523.1,325.12 1523.9,315.14 1524.7,322.83 1525.5,315.84 1525.93,270.02 1527.1,316.31 1527.9,274.11 1528.7,308.2 1529.5,305.96 1530.3,319.95 1530.84,284.75 1531.9,316.19 1532.7,302.83 1533.5,320.15 1534.12,304.39 1535.1,324.87 1535.9,334.97 1536.57,294.57 1537.5,338.41 1538.3,330.62 1539.1,340.95 1539.52,256.1 1540.66,356.76 1541.5,333.75 1542.3,343.31 1543.1,331.33 1543.9,321.11 1544.7,314.67 1545.5,329.82 1546.3,331.48 1547.1,341.94 1548.03,288.02 1548.7,327.22 1549.5,331.02 1550.3,335.48 1551.1,326.39 1552.12,314.21 1552.7,324.69 1553.5,325.6 1554.3,323.6 1555.07,265.11 1555.9,300.61 1556.7,337.43 1557.5,325.58 1558.3,333.6 1559.1,324.72 1559.9,334.6 1560.7,326.73 1561.5,335.32 1562.3,329.92 1563.1,334.9 1563.9,330.46 1564.7,334.44 1565.5,330.75 1566.3,337.05 1567.1,331.5 1567.9,336.67 1568.7,330.5 1569.5,338.16 1570.3,332.33 1571.1,336.37 1571.9,330.74 1572.7,336.8 1573.5,331.1 1574.3,334.97 1575.1,330.26 1575.9,334.35 1576.7,330.8 1577.5,335.35 1578.3,331.27 1579.1,335.68 1579.9,331.45 1580.7,336.91 1581.5,330.91 1582.3,336.71 1583.1,332.62 1583.9,336.39 1584.7,331.62 1585.5,336.85 1586.3,329.99 1587.1,337.93 1587.9,333 1588.7,337.5 1589.5,331.96 1590.3,335.05 1591.1,332.65 1591.9,335.32 1592.7,330.07 1593.5,336.31 1594.3,331.9 1595.1,336.22 1595.9,331.93 1596.7,335.68 1597.5,328.54 1598.3,332.27 1599.1,325.96 1599.9,331.15 1600.7,325.57 1601.5,333.39 1602.3,331.17 1603.1,338.67 1603.9,333.97 1604.7,342.66 1605.5,337.76 1606.3,342.73 1607.1,337.21 1607.9,340.56 1608.7,333.98 1609.5,335.36 1610.46,301.11 1611.1,334.25 1611.9,321.06 1612.7,333.97 1613.5,328.03 1614.3,343.95 1615.1,327.82 1615.9,341.55 1617,252.01 1617.5,346.42 1618.3,318.79 1619.1,347.87 1619.9,337.97 1620.7,345.2 1621.5,318.96 1622.3,345.92 1623.1,331.41 1623.9,339.21 1624.7,314.21 1625.5,321.74 1626.3,328.42 1627.1,339.6 1627.9,328.93 1628.7,336.81 1629.5,330.51 1630.3,334.91 1631.1,330.8 1631.9,336.26 1632.7,329.35 1633.5,334.22 1634.3,330.21 1635.1,334.67 1635.9,327.53 1636.7,332.21 1637.5,328.24 1638.3,334.14 1639.1,327.66 1639.9,331.56 1640.7,326.11 1641.5,330.79 1642.3,325.54 1643.1,332.28 1643.9,325.03 1644.7,330.81 1645.5,326.53 1646.3,330.79 1647.1,324.5 1647.9,329.91 1648.7,325.45 1649.5,329.84 1650.3,324.69 1651.1,329.75 1651.9,324.56 1652.7,328.76 1653.5,323.9 1654.3,328.97 1655.1,322.3 1655.9,327.62 1656.7,321.27 1657.5,325.47 1658.3,319.35 1659.1,325.35 1659.9,318.29 1660.7,324.19 1661.5,316.61 1662.3,323.76 1663.1,320.38 1663.9,325.64 1664.7,317.92 1665.5,326.62 1666.3,319.06 1667.1,326.55 1667.9,319.47 1668.7,326.2 1669.5,321.08 1670.3,327.99 1671.1,318.97 1671.9,326.99 1672.7,320.32 1673.5,325.19 1674.3,321.01 1675.1,326.47 1675.9,322.13 1676.7,327.15 1677.5,321.28 1678.3,331.44 1679.1,325.76 1679.9,331.09 1680.7,327.23 1681.5,331.89 1682.3,327.33 1683.1,333.38 1683.9,325.74 1684.7,331.57 1685.5,325.1 1686.3,329.9 1687.1,320.98 1687.9,326.63 1688.7,319.7 1689.5,325.22 1690.3,322.19 1691.1,325.88 1691.9,323.72 1692.7,327.27 1693.5,323.82 1694.3,327.04 1695.1,325.23 1695.9,328.36 1696.7,324.45 1697.5,328.1 1698.3,324.32 1699.1,327.92 1699.9,323.89 1700.7,327.49 1701.5,323.3 1702.3,327.75 1703.1,323.69 1703.9,326.15 1704.7,321.37 1705.5,326.47 1706.53,340.39 1707.1,329.19 1707.9,327.55 1708.7,331.26 1709.5,327.59 1710.3,331.14 1711.1,327.12 1711.9,331.9 1712.7,329.44 1713.5,332.06 1714.3,328.26 1715.1,332.85 1715.9,328.11 1716.7,333.68 1717.5,328.37 1718.3,332.75 1719.1,328.17 1719.9,332.05 1720.7,329.01 1721.5,332.26 1722.3,327.39 1723.1,332.6 1723.9,327.16 1724.7,331.83 1725.5,327.8 1726.3,332.41 1727.1,329.75" fill="none" stroke="#ff0000" stroke-width="2.7" stroke-linejoin="round"/>
</g>
<line x1="1726" y1="455" x2="1726" y2="111" stroke="#1f77b4" stroke-width="2" stroke-dasharray="2.08,3.43"/>
<line x1="1205" y1="153.12" x2="1210.7" y2="153.12" stroke="#000" stroke-width="1.4"/>
<line x1="1205" y1="196.25" x2="1210.7" y2="196.25" stroke="#000" stroke-width="1.4"/>
<line x1="1205" y1="239.38" x2="1210.7" y2="239.38" stroke="#000" stroke-width="1.4"/>
<line x1="1205" y1="282.5" x2="1210.7" y2="282.5" stroke="#000" stroke-width="1.4"/>
<line x1="1205" y1="325.62" x2="1210.7" y2="325.62" stroke="#000" stroke-width="1.4"/>
<line x1="1205" y1="368.75" x2="1210.7" y2="368.75" stroke="#000" stroke-width="1.4"/>
<line x1="1205" y1="411.88" x2="1210.7" y2="411.88" stroke="#000" stroke-width="1.4"/>
<text x="1200.4" y="117.6" font-size="20" text-anchor="end">20</text>
<text x="1200.4" y="160.72" font-size="20" text-anchor="end">15</text>
<text x="1200.4" y="203.85" font-size="20" text-anchor="end">10</text>
<text x="1200.4" y="246.97" font-size="20" text-anchor="end">5</text>
<text x="1200.4" y="290.1" font-size="20" text-anchor="end">0</text>
<text x="1200.4" y="333.23" font-size="20" text-anchor="end">−5</text>
<text x="1200.4" y="376.35" font-size="20" text-anchor="end">−10</text>
<text x="1200.4" y="419.48" font-size="20" text-anchor="end">−15</text>
<text x="1200.4" y="462.6" font-size="20" text-anchor="end">−20</text>
<line x1="1800" y1="386" x2="1795.1" y2="386" stroke="#ff0000" stroke-width="1.4"/>
<line x1="1800" y1="317" x2="1795.1" y2="317" stroke="#ff0000" stroke-width="1.4"/>
<line x1="1800" y1="248" x2="1795.1" y2="248" stroke="#ff0000" stroke-width="1.4"/>
<line x1="1800" y1="179" x2="1795.1" y2="179" stroke="#ff0000" stroke-width="1.4"/>
<text x="1804.7" y="462.6" font-size="20" fill="#ff0000">0</text>
<text x="1804.7" y="393.6" font-size="20" fill="#ff0000">200</text>
<text x="1804.7" y="324.6" font-size="20" fill="#ff0000">400</text>
<text x="1804.7" y="255.6" font-size="20" fill="#ff0000">600</text>
<text x="1804.7" y="186.6" font-size="20" fill="#ff0000">800</text>
<text x="1804.7" y="117.6" font-size="20" fill="#ff0000">1000</text>
<line x1="1244.3" y1="455" x2="1244.3" y2="450.1" stroke="#000" stroke-width="1.4"/>
<line x1="1318.74" y1="455" x2="1318.74" y2="450.1" stroke="#000" stroke-width="1.4"/>
<line x1="1393.18" y1="455" x2="1393.18" y2="450.1" stroke="#000" stroke-width="1.4"/>
<line x1="1467.62" y1="455" x2="1467.62" y2="450.1" stroke="#000" stroke-width="1.4"/>
<line x1="1542.06" y1="455" x2="1542.06" y2="450.1" stroke="#000" stroke-width="1.4"/>
<line x1="1616.5" y1="455" x2="1616.5" y2="450.1" stroke="#000" stroke-width="1.4"/>
<line x1="1690.94" y1="455" x2="1690.94" y2="450.1" stroke="#000" stroke-width="1.4"/>
<line x1="1765.38" y1="455" x2="1765.38" y2="450.1" stroke="#000" stroke-width="1.4"/>
<line x1="1205" y1="109" x2="1205" y2="456" stroke="#000" stroke-width="2"/>
<line x1="1800" y1="109" x2="1800" y2="456" stroke="#ff0000" stroke-width="2"/>
<line x1="1204" y1="110" x2="1801" y2="110" stroke="#000" stroke-width="2"/>
<line x1="1204" y1="455" x2="1801" y2="455" stroke="#000" stroke-width="2"/>
<text transform="translate(1116,322.18) rotate(-90)" font-size="24">IMF Bz</text>
<text transform="translate(1146,314.22) rotate(-90)" font-size="24">( nT )</text>
<text transform="translate(1879.2,353.74) rotate(-90)" font-size="24" fill="#ff0000">SW Velocity</text>
<g transform="translate(1912.1,337) rotate(-90)" fill="#ff0000">
<text x="-2.04" y="0" font-size="24">( km</text>
<text x="55.98" y="0" font-size="24">s</text>
<text x="68.04" y="-9.9" font-size="16.8">−1</text>
<text x="101.98" y="0" font-size="24">)</text>
</g>
<clipPath id="r2"><rect x="1205" y="478" width="595" height="344"/></clipPath>
<line x1="1205" y1="511.9" x2="1799" y2="511.9" stroke="#000" stroke-width="2" stroke-dasharray="2.08,3.43"/>
<g clip-path="url(#r2)">
<path d="M1205.6,645.1 1206.15,641.3 1206.7,676.76 1207.25,670.7 1207.8,658.26 1208.35,674.6 1208.9,634.61 1209.45,630.66 1210,680.31 1210.55,677.76 1211.1,629.04 1211.65,671.56 1212.2,627.92 1212.75,658.31 1213.3,627.26 1213.85,659.08 1214.4,672.03 1214.95,658.91 1215.5,624.75 1216.05,668.48 1216.6,632.88 1217.15,660.8 1217.7,645.29 1218.25,664.58 1218.8,667.3 1219.35,617.66 1219.9,642.69 1220.45,666.4 1221,625.83 1221.55,664 1222.1,624.53 1222.65,662.96 1223.2,641.02 1223.75,628.3 1224.3,664.94 1224.85,665.52 1225.4,630.18 1225.95,657.23 1226.5,631.33 1227.05,657.54 1227.6,639.89 1228.15,662.49 1228.7,642.9 1229.25,662.52 1229.8,634.21 1230.35,668.49 1230.9,637.48 1231.45,658.81 1232,639.2 1232.55,664.59 1233.1,644.39 1233.65,674.63 1234.2,675.58 1234.75,667.37 1235.3,646.03 1235.85,676.8 1236.4,644.19 1236.95,680.86 1237.5,641.95 1238.05,683.85 1238.6,658.99 1239.15,665.87 1239.7,645.41 1240.25,636.57 1240.8,637.07 1241.35,664.94 1241.9,635.9 1242.45,660.27 1243,636.36 1243.55,654.3 1244.1,644.34 1244.65,650.76 1245.2,636.98 1245.75,649.88 1246.3,631.84 1246.85,648.41 1247.4,634.59 1247.95,649.22 1248.5,632.43 1249.05,646.58 1249.6,633.95 1250.15,638.39 1250.7,630.38 1251.25,639.67 1251.8,648.39 1252.35,645.22 1252.9,632.54 1253.45,627.12 1254,627.42 1254.55,652.01 1255.1,631.37 1255.65,656.74 1256.2,642.57 1256.75,644.28 1257.3,626.73 1257.85,658.42 1258.4,666.12 1258.95,625.93 1259.5,627.37 1260.05,656.25 1260.6,628.98 1261.15,657.88 1261.7,628.6 1262.25,645.44 1262.8,653.12 1263.35,645.45 1263.9,630.66 1264.45,652.39 1265,636.85 1265.55,651.93 1266.1,637.06 1266.65,649.5 1267.2,636.56 1267.75,650.2 1268.3,638.94 1268.85,650.76 1269.4,639.46 1269.95,646.49 1270.5,641.51 1271.05,650.88 1271.6,637.44 1272.15,650.5 1272.7,637.29 1273.25,631.84 1273.8,636.15 1274.35,653.12 1274.9,627.77 1275.45,652.17 1276,633.94 1276.55,646.66 1277.1,621.73 1277.65,657.33 1278.2,618.84 1278.75,657.35 1279.3,660.21 1279.85,650.8 1280.4,614.16 1280.95,649.73 1281.5,602.29 1282.05,648.62 1282.6,646.03 1283.15,644.29 1283.7,622.72 1284.25,644.55 1284.8,616.44 1285.35,615.3 1285.9,613.17 1286.45,646.02 1287,615.35 1287.55,653.12 1288.1,615.73 1288.65,653.7 1289.2,591.65 1289.75,654.43 1290.3,598.29 1290.85,659.03 1291.4,609.82 1291.95,585.74 1292.5,602.46 1293.05,643.82 1293.6,631.98 1294.15,660.52 1294.7,605.84 1295.25,656.54 1295.8,661.39 1296.35,647.46 1296.9,602.29 1297.45,654.14 1298,610.63 1298.55,654.75 1299.1,617.25 1299.65,655.5 1300.2,659.03 1300.75,655.78 1301.3,612.93 1301.85,656.51 1302.4,639.89 1302.95,658.09 1303.5,636.67 1304.05,636.57 1304.6,648.27 1305.15,662.58 1305.7,640.79 1306.25,666.73 1306.8,655.02 1307.35,670 1307.9,649.24 1308.45,678.85 1309,648.39 1309.55,689.76 1310.1,656.24 1310.65,681.2 1311.2,647.85 1311.75,676.36 1312.3,647.98 1312.85,678.78 1313.4,647.21 1313.95,676.76 1314.5,661.27 1315.05,677.63 1315.6,654.98 1316.15,675.22 1316.7,644.44 1317.25,637.75 1317.8,679.13 1318.35,680.29 1318.9,660.74 1319.45,676.54 1320,645.06 1320.55,646.03 1321.1,685.74 1321.65,685.36 1322.2,654.73 1322.75,676.87 1323.3,648 1323.85,686.69 1324.4,646.99 1324.95,686.11 1325.5,638.94 1326.05,676.32 1326.6,640.56 1327.15,676.65 1327.7,684.33 1328.25,683.66 1328.8,636.1 1329.35,634.21 1329.9,638.48 1330.45,663.62 1331,682.67 1331.55,674.92 1332.1,645.73 1332.65,660.89 1333.2,639.07 1333.75,647.21 1334.3,641.08 1334.85,648.22 1335.4,640.85 1335.95,637.75 1336.5,641.02 1337.05,646.36 1337.6,639.79 1338.15,651.65 1338.7,641.02 1339.25,653.12 1339.8,645.69 1340.35,653.22 1340.9,643.27 1341.45,654.32 1342,643.66 1342.55,655.9 1343.1,645.49 1343.65,652.11 1344.2,657.85 1344.75,658.83 1345.3,643.48 1345.85,660.79 1346.4,638.94 1346.95,655.61 1347.5,668.49 1348.05,665.18 1348.6,636.46 1349.15,667.53 1349.7,634.09 1350.25,667.27 1350.8,645.11 1351.35,660.6 1351.9,645.09 1352.45,629.48 1353,673.22 1353.55,659.23 1354.1,638.12 1354.65,671.24 1355.2,630.17 1355.75,668.44 1356.3,637.59 1356.85,668.83 1357.4,669.67 1357.95,656.58 1358.5,629.48 1359.05,670.79 1359.6,647.08 1360.15,664.16 1360.7,672.03 1361.25,669.17 1361.8,640.03 1362.35,649.85 1362.9,625.86 1363.45,684.39 1364,645.12 1364.55,623.57 1365.1,690.47 1365.65,686.02 1366.2,648.09 1366.75,685.38 1367.3,628.85 1367.85,676.87 1368.4,637.38 1368.95,620.02 1369.5,648.91 1370.05,680.31 1370.6,626.53 1371.15,664.16 1371.7,612.69 1372.25,665.37 1372.8,612.31 1373.35,656.08 1373.9,607.02 1374.45,639.57 1375,646.03 1375.55,637.39 1376.1,631.46 1376.65,653.45 1377.2,613.98 1377.75,662.32 1378.3,613.01 1378.85,665.25 1379.4,612.93 1379.95,662.27 1380.5,647.32 1381.05,680.31 1381.6,626.65 1382.15,670.63 1382.7,614.6 1383.25,671.14 1383.8,608.8 1384.35,608.2 1384.9,615.79 1385.45,663.51 1386,630.26 1386.55,680.31 1387.1,631.15 1387.65,659.06 1388.2,610.56 1388.75,668.52 1389.3,609.39 1389.85,659.47 1390.4,629.99 1390.95,656.17 1391.5,653.12 1392.05,656.21 1392.6,622.39 1393.15,651.44 1393.7,624.97 1394.25,664.68 1394.8,622.39 1395.35,674.4 1395.9,622.57 1396.45,646.62 1397,640.4 1397.55,659.85 1398.1,612.93 1398.65,678.04 1399.2,638.54 1399.75,679.13 1400.3,641.76 1400.85,629.48 1401.4,639.81 1401.95,690.99 1402.5,641.51 1403.05,690.79 1403.6,670.02 1404.15,636.57 1404.7,713.4 1405.25,711.6 1405.8,668.45 1406.35,700.96 1406.9,655.48 1407.45,709.86 1408,634.6 1408.55,674.77 1409.1,608.2 1409.65,722.86 1410.2,574.26 1410.75,546.74 1411.3,579.16 1411.85,608.2 1412.4,709.86 1412.95,701.13 1413.5,655.23 1414.05,664.94 1414.6,703.95 1415.15,687.05 1415.7,666.24 1416.25,667.14 1416.8,653.74 1417.35,643.66 1417.9,669.67 1418.45,673.04 1419,642.96 1419.55,642.48 1420.1,686.22 1420.65,680.85 1421.2,658.68 1421.75,692.33 1422.3,667.3 1422.85,713.24 1423.4,739.41 1423.95,720.98 1424.5,704.4 1425.05,709.67 1425.6,688.58 1426.15,726.87 1426.7,706.43 1427.25,722.54 1427.8,689.37 1428.35,741.77 1428.9,706.23 1429.45,725.02 1430,711.58 1430.55,679.13 1431.1,674.14 1431.65,700.65 1432.2,742.96 1432.75,715.3 1433.3,647.34 1433.85,636.57 1434.4,700.4 1434.95,697.16 1435.5,623.8 1436.05,692.48 1436.6,706.31 1437.15,681.05 1437.7,602.29 1438.25,645.84 1438.8,643.66 1439.35,635.46 1439.9,617.26 1440.45,646.32 1441,608.09 1441.55,641.16 1442.1,603 1442.65,650.76 1443.2,611.98 1443.75,652.36 1444.3,611.01 1444.85,656.67 1445.4,632.03 1445.95,615.3 1446.5,628.96 1447.05,655.33 1447.6,614.56 1448.15,652.94 1448.7,605.47 1449.25,655.48 1449.8,600.4 1450.35,652.26 1450.9,615.53 1451.45,655.09 1452,615.81 1452.55,659.6 1453.1,622.39 1453.65,668.83 1454.2,673.22 1454.75,663.43 1455.3,628.69 1455.85,654.21 1456.4,629.92 1456.95,662.47 1457.5,632.78 1458.05,654.26 1458.6,630.66 1459.15,660.21 1459.7,627.94 1460.25,658.78 1460.8,626.9 1461.35,643.28 1461.9,610.36 1462.45,633.37 1463,602.29 1463.55,655.48 1464.1,610.33 1464.65,635.27 1465.2,632.45 1465.75,624.75 1466.3,623.18 1466.85,649.18 1467.4,622.55 1467.95,658.95 1468.5,661.39 1469.05,656.07 1469.6,634.73 1470.15,634.36 1470.7,604.66 1471.25,636.66 1471.8,615.13 1472.35,655.27 1472.9,659.03 1473.45,658.07 1474,627.12 1474.55,638.7 1475.1,608.36 1475.65,627.34 1476.2,584.56 1476.75,660.21 1477.3,627.64 1477.85,641.3 1478.4,644.33 1478.95,653.42 1479.5,646.89 1480.05,655.48 1480.6,650.15 1481.15,658.89 1481.7,656.37 1482.25,655.48 1482.8,658.38 1483.35,664.66 1483.9,660.37 1484.45,668.45 1485,662.82 1485.55,668.19 1486.1,657.95 1486.65,676.76 1487.2,657.89 1487.75,669.97 1488.3,656.67 1488.85,668.37 1489.4,651.51 1489.95,658.84 1490.5,650.28 1491.05,661.44 1491.6,640.83 1492.15,660.21 1492.7,651.91 1493.25,657.9 1493.8,653.47 1494.35,653.12 1494.9,654.64 1495.45,662.96 1496,647.41 1496.55,664 1497.1,653.98 1497.65,663.54 1498.2,643.05 1498.75,634.21 1499.3,666.12 1499.85,666.67 1500.4,642.21 1500.95,665.81 1501.5,645.83 1502.05,661.44 1502.6,631.68 1503.15,671.05 1503.7,629.48 1504.25,673.22 1504.8,633.38 1505.35,656.78 1505.9,634.83 1506.45,664.88 1507,643.09 1507.55,637.75 1508.1,635.39 1508.65,681.02 1509.2,636.53 1509.75,658.81 1510.3,652.36 1510.85,656.48 1511.4,625.93 1511.95,649.41 1512.5,629.19 1513.05,667.3 1513.6,639.9 1514.15,667.49 1514.7,646.81 1515.25,667.89 1515.8,629.48 1516.35,656.02 1516.9,638.44 1517.45,668.27 1518,628.41 1518.55,659.44 1519.1,670.85 1519.65,655.33 1520.2,624.75 1520.75,669 1521.3,618.52 1521.85,637.11 1522.4,619.99 1522.95,596.38 1523.5,600.41 1524.05,668.49 1524.6,556.85 1525.15,544.37 1525.7,554.02 1526.25,661.54 1526.8,567.68 1527.35,537.28 1527.9,588.99 1528.45,667.3 1529,536.29 1529.55,631.33 1530.1,545 1530.65,623.91 1531.2,529.01 1531.75,660.61 1532.3,535.18 1532.85,638.45 1533.4,538.41 1533.95,629 1534.5,534.92 1535.05,655.48 1535.6,585.31 1536.15,523.1 1536.7,523.97 1537.25,649.55 1537.8,548.38 1538.35,646.3 1538.9,553.88 1539.45,530.19 1540,646.03 1540.55,644.23 1541.1,549.33 1541.65,657.71 1542.2,540.51 1542.75,529.01 1543.3,663.76 1543.85,660.21 1544.4,551.47 1544.95,649.06 1545.5,592.41 1546.05,614.95 1546.6,530.37 1547.15,651.78 1547.7,520.73 1548.25,612.5 1548.8,648.39 1549.35,597.28 1549.9,521.68 1550.45,645.11 1551,552.25 1551.55,518.37 1552.1,548.72 1552.65,623 1553.2,568.01 1553.75,646.03 1554.3,596.45 1554.85,644.02 1555.4,622.85 1555.95,622.39 1556.5,624.3 1557.05,650.16 1557.6,631.94 1558.15,653.12 1558.7,632.42 1559.25,649.98 1559.8,632.79 1560.35,629.48 1560.9,635.06 1561.45,644.34 1562,630.32 1562.55,641.86 1563.1,641.3 1563.65,636.42 1564.2,631.94 1564.75,642.3 1565.3,635.55 1565.85,637.93 1566.4,632.97 1566.95,642.84 1567.5,633.03 1568.05,644.42 1568.6,634.82 1569.15,640.98 1569.7,646.03 1570.25,644.06 1570.8,635.61 1571.35,644.65 1571.9,641.28 1572.45,636.57 1573,634.33 1573.55,647.56 1574.1,638.65 1574.65,641.1 1575.2,639.86 1575.75,624.75 1576.3,651.94 1576.85,642.24 1577.4,627.25 1577.95,641.81 1578.5,620.23 1579.05,618.84 1579.6,624.64 1580.15,646.64 1580.7,662.58 1581.25,659.45 1581.8,630.02 1582.35,643.36 1582.9,625.57 1583.45,642.96 1584,624.75 1584.55,657.7 1585.1,639.27 1585.65,645.17 1586.2,626.47 1586.75,655.48 1587.3,623.97 1587.85,655.77 1588.4,623.71 1588.95,623.57 1589.5,660.21 1590.05,624.75 1590.6,662.58 1591.15,652.34 1591.7,626.44 1592.25,658.08 1592.8,637.7 1593.35,618.84 1593.9,655.48 1594.45,662.63 1595,584.56 1595.55,633.25 1596.1,674.4 1596.65,638.7 1597.2,526.64 1597.75,615.04 1598.3,655.48 1598.85,527.83 1599.4,563.64 1599.95,603.48 1600.5,680.31 1601.05,650.52 1601.6,537.28 1602.15,641 1602.7,568.43 1603.25,646.03 1603.8,603.48 1604.35,625.09 1604.9,659.03 1605.45,637.19 1606,529.01 1606.55,642.54 1607.1,565.5 1607.65,584.56 1608.2,636.57 1608.75,611.55 1609.3,595.89 1609.85,582.2 1610.4,643.66 1610.95,608.61 1611.5,570.15 1612.05,620.75 1612.6,578.43 1613.15,553.83 1613.7,637.75 1614.25,627.19 1614.8,569.27 1615.35,563.29 1615.9,570.25 1616.45,641.3 1617,586.42 1617.55,632.46 1618.1,560.92 1618.65,648.39 1619.2,551.15 1619.75,531.37 1620.3,532.17 1620.85,602.33 1621.4,556.26 1621.95,641.3 1622.5,534.92 1623.05,592.66 1623.6,544.74 1624.15,631.69 1624.7,537.28 1625.25,642.48 1625.8,617.66 1626.35,638.45 1626.9,623.19 1627.45,635.36 1628,623.77 1628.55,631.27 1629.1,623.57 1629.65,636.57 1630.2,623.55 1630.75,637.74 1631.3,622.81 1631.85,633.41 1632.4,622.39 1632.95,642.48 1633.5,618.12 1634.05,634.04 1634.6,619.88 1635.15,609.39 1635.7,629.48 1636.25,635.59 1636.8,613.8 1637.35,644.85 1637.9,623.63 1638.45,612.93 1639,610.25 1639.55,620.81 1640.1,622.39 1640.65,601.11 1641.2,603.71 1641.75,628.94 1642.3,612.24 1642.85,625.78 1643.4,598.75 1643.95,636.57 1644.5,613.79 1645.05,624.8 1645.6,617.66 1646.15,625.5 1646.7,631.84 1647.25,633.94 1647.8,616.17 1648.35,640.4 1648.9,615.3 1649.45,647.21 1650,616.2 1650.55,644.24 1651.1,614.3 1651.65,642.83 1652.2,622.51 1652.75,630.7 1653.3,626.34 1653.85,612.93 1654.4,643.66 1654.95,651.22 1655.5,613.34 1656.05,655.03 1656.6,616.36 1657.15,608.2 1657.7,672.03 1658.25,665.03 1658.8,604.3 1659.35,593.55 1659.9,608.13 1660.45,636.84 1661,608.2 1661.55,643.66 1662.1,614.97 1662.65,649.32 1663.2,627.76 1663.75,653.12 1664.3,612.93 1664.85,643.35 1665.4,616.63 1665.95,641.3 1666.5,616.36 1667.05,655.48 1667.6,618.27 1668.15,618.84 1668.7,630.27 1669.25,650.28 1669.8,628.27 1670.35,648.99 1670.9,642.32 1671.45,631.84 1672,664.94 1672.55,663.26 1673.1,627.63 1673.65,612.93 1674.2,636.57 1674.75,668.06 1675.3,669.67 1675.85,596.38 1676.4,623.23 1676.95,636.57 1677.5,656.54 1678.05,671.91 1678.6,677.94 1679.15,675.2 1679.7,643.23 1680.25,683.93 1680.8,643.66 1681.35,688.17 1681.9,646.15 1682.45,673.77 1683,694.49 1683.55,691.71 1684.1,661.41 1684.65,653.12 1685.2,676.19 1685.75,683.54 1686.3,674.56 1686.85,669.67 1687.4,692.13 1687.95,683.61 1688.5,673.22 1689.05,687.68 1689.6,675.96 1690.15,684.11 1690.7,676.76 1691.25,687.17 1691.8,690.95 1692.35,684.19 1692.9,672.4 1693.45,684.35 1694,669.67 1694.55,680.3 1695.1,679.13 1695.65,676.97 1696.2,665.7 1696.75,674.19 1697.3,662.99 1697.85,669.77 1698.4,663.41 1698.95,656.67 1699.5,669.67 1700.05,663.2 1700.6,655.77 1701.15,664.33 1701.7,656.25 1702.25,662.25 1702.8,648.18 1703.35,644.85 1703.9,660.21 1704.45,625.4 1705,598.49 1705.55,544.37 1706.1,544.02 1706.65,643.23 1707.2,659.03 1707.75,540.83 1708.3,587.26 1708.85,622.39 1709.4,630.22 1709.95,653.17 1710.5,651.94 1711.05,650.14 1711.6,631.84 1712.15,647.53 1712.7,636.07 1713.25,639.95 1713.8,630.96 1714.35,639.36 1714.9,633.01 1715.45,628.3 1716,650.76 1716.55,640.73 1717.1,629.89 1717.65,643.46 1718.2,634.89 1718.75,627.12 1719.3,638.39 1719.85,648.39 1720.4,630.35 1720.95,643.55 1721.5,637.02 1722.05,652.76 1722.6,624.75 1723.15,659.03 1723.7,625.4 1724.25,664.21 1724.8,625.71 1725.35,621.21 1725.9,668.49 1726.45,652.27 1727,643.66" fill="none" stroke="#ff0000" stroke-width="2.0" stroke-linejoin="round" id="pr"/>
<use href="#pr" transform="translate(0.28,0.8)"/>
<path d="M1205.91,513.64 1213,514.35 1219.39,521.91 1228.37,514.82 1234.28,513.64 1243.74,517.19 1249.65,516.71 1253.9,517.66 1259.1,514.35 1265.01,512.46 1272.1,507.02 1281.56,504.89 1288.65,512.46 1292.2,514.35 1299.29,516 1304.02,515.53 1307.57,513.64 1311.11,514.35 1315.84,513.17 1320.57,515.53 1328.84,519.55 1338.3,514.82 1346.57,512.93 1356.03,511.28 1363.12,511.75 1369.03,513.64 1372.58,512.93 1377.3,507.73 1385.58,504.18 1392.67,506.08 1395,506.55 1402.09,512.46 1411.55,514.82 1417.46,512.46 1422.19,508.91 1425.73,510.09 1430.46,513.17 1437.55,507.02 1444.65,510.09 1451.74,507.73 1455.28,510.8 1462.38,506.55 1467.1,508.91 1473.01,513.64 1477.27,515.3 1482.47,513.17 1489.56,512.46 1496.65,510.8 1502.57,512.46 1504.93,516.71 1510.84,516.71 1516.75,513.64 1522.66,512.46 1529.75,506.55 1538.03,503.71 1542.75,507.73 1548.66,513.64 1558.12,511.28 1564.03,506.55 1569.94,504.66 1577.03,507.73 1584.13,508.91 1588.85,507.49 1590,507.73 1595.91,507.02 1603,507.02 1610.09,500.17 1617.19,504.18 1625.46,507.73 1631.37,510.09 1635.39,514.35 1640.83,510.09 1647.92,502.29 1653.83,504.89 1659.74,505.37 1665.65,512.46 1672.74,512.46 1679.83,512.93 1685.74,512.46 1691.65,514.82 1699.93,517.19 1705.84,513.64 1712.93,513.17 1718.84,512.46 1725.93,512.46" fill="none" stroke="#000" stroke-width="2.2" stroke-linejoin="round"/>
</g>
<line x1="1726" y1="822" x2="1726" y2="479" stroke="#1f77b4" stroke-width="2" stroke-dasharray="2.08,3.43"/>
<line x1="1205" y1="512.4" x2="1210.7" y2="512.4" stroke="#000" stroke-width="1.4"/>
<text x="1200.4" y="520" font-size="20" text-anchor="end">0</text>
<line x1="1205" y1="581.2" x2="1210.7" y2="581.2" stroke="#000" stroke-width="1.4"/>
<text x="1200.4" y="588.8" font-size="20" text-anchor="end">−100</text>
<line x1="1205" y1="650" x2="1210.7" y2="650" stroke="#000" stroke-width="1.4"/>
<text x="1200.4" y="657.6" font-size="20" text-anchor="end">−200</text>
<line x1="1205" y1="718.8" x2="1210.7" y2="718.8" stroke="#000" stroke-width="1.4"/>
<text x="1200.4" y="726.4" font-size="20" text-anchor="end">−300</text>
<line x1="1205" y1="787.6" x2="1210.7" y2="787.6" stroke="#000" stroke-width="1.4"/>
<text x="1200.4" y="795.2" font-size="20" text-anchor="end">−400</text>
<line x1="1800" y1="822" x2="1795.1" y2="822" stroke="#ff0000" stroke-width="1.4"/>
<text x="1805.5" y="829.6" font-size="20" fill="#ff0000">10</text>
<text x="1831.55" y="822.6" font-size="14" fill="#ff0000">−2</text>
<line x1="1800" y1="796.11" x2="1797" y2="796.11" stroke="#ff0000" stroke-width="1.3"/>
<line x1="1800" y1="780.97" x2="1797" y2="780.97" stroke="#ff0000" stroke-width="1.3"/>
<line x1="1800" y1="770.22" x2="1797" y2="770.22" stroke="#ff0000" stroke-width="1.3"/>
<line x1="1800" y1="761.89" x2="1797" y2="761.89" stroke="#ff0000" stroke-width="1.3"/>
<line x1="1800" y1="755.08" x2="1797" y2="755.08" stroke="#ff0000" stroke-width="1.3"/>
<line x1="1800" y1="749.32" x2="1797" y2="749.32" stroke="#ff0000" stroke-width="1.3"/>
<line x1="1800" y1="744.33" x2="1797" y2="744.33" stroke="#ff0000" stroke-width="1.3"/>
<line x1="1800" y1="739.94" x2="1797" y2="739.94" stroke="#ff0000" stroke-width="1.3"/>
<line x1="1800" y1="736" x2="1795.1" y2="736" stroke="#ff0000" stroke-width="1.4"/>
<text x="1805.5" y="743.6" font-size="20" fill="#ff0000">10</text>
<text x="1831.55" y="736.6" font-size="14" fill="#ff0000">−1</text>
<line x1="1800" y1="710.11" x2="1797" y2="710.11" stroke="#ff0000" stroke-width="1.3"/>
<line x1="1800" y1="694.97" x2="1797" y2="694.97" stroke="#ff0000" stroke-width="1.3"/>
<line x1="1800" y1="684.22" x2="1797" y2="684.22" stroke="#ff0000" stroke-width="1.3"/>
<line x1="1800" y1="675.89" x2="1797" y2="675.89" stroke="#ff0000" stroke-width="1.3"/>
<line x1="1800" y1="669.08" x2="1797" y2="669.08" stroke="#ff0000" stroke-width="1.3"/>
<line x1="1800" y1="663.32" x2="1797" y2="663.32" stroke="#ff0000" stroke-width="1.3"/>
<line x1="1800" y1="658.33" x2="1797" y2="658.33" stroke="#ff0000" stroke-width="1.3"/>
<line x1="1800" y1="653.94" x2="1797" y2="653.94" stroke="#ff0000" stroke-width="1.3"/>
<line x1="1800" y1="650" x2="1795.1" y2="650" stroke="#ff0000" stroke-width="1.4"/>
<text x="1805.5" y="657.6" font-size="20" fill="#ff0000">10</text>
<text x="1831.55" y="650.6" font-size="14" fill="#ff0000">0</text>
<line x1="1800" y1="624.11" x2="1797" y2="624.11" stroke="#ff0000" stroke-width="1.3"/>
<line x1="1800" y1="608.97" x2="1797" y2="608.97" stroke="#ff0000" stroke-width="1.3"/>
<line x1="1800" y1="598.22" x2="1797" y2="598.22" stroke="#ff0000" stroke-width="1.3"/>
<line x1="1800" y1="589.89" x2="1797" y2="589.89" stroke="#ff0000" stroke-width="1.3"/>
<line x1="1800" y1="583.08" x2="1797" y2="583.08" stroke="#ff0000" stroke-width="1.3"/>
<line x1="1800" y1="577.32" x2="1797" y2="577.32" stroke="#ff0000" stroke-width="1.3"/>
<line x1="1800" y1="572.33" x2="1797" y2="572.33" stroke="#ff0000" stroke-width="1.3"/>
<line x1="1800" y1="567.94" x2="1797" y2="567.94" stroke="#ff0000" stroke-width="1.3"/>
<line x1="1800" y1="564" x2="1795.1" y2="564" stroke="#ff0000" stroke-width="1.4"/>
<text x="1805.5" y="571.6" font-size="20" fill="#ff0000">10</text>
<text x="1831.55" y="564.6" font-size="14" fill="#ff0000">1</text>
<line x1="1800" y1="538.11" x2="1797" y2="538.11" stroke="#ff0000" stroke-width="1.3"/>
<line x1="1800" y1="522.97" x2="1797" y2="522.97" stroke="#ff0000" stroke-width="1.3"/>
<line x1="1800" y1="512.22" x2="1797" y2="512.22" stroke="#ff0000" stroke-width="1.3"/>
<line x1="1800" y1="503.89" x2="1797" y2="503.89" stroke="#ff0000" stroke-width="1.3"/>
<line x1="1800" y1="497.08" x2="1797" y2="497.08" stroke="#ff0000" stroke-width="1.3"/>
<line x1="1800" y1="491.32" x2="1797" y2="491.32" stroke="#ff0000" stroke-width="1.3"/>
<line x1="1800" y1="486.33" x2="1797" y2="486.33" stroke="#ff0000" stroke-width="1.3"/>
<line x1="1800" y1="481.94" x2="1797" y2="481.94" stroke="#ff0000" stroke-width="1.3"/>
<line x1="1800" y1="478" x2="1795.1" y2="478" stroke="#ff0000" stroke-width="1.4"/>
<text x="1805.5" y="485.6" font-size="20" fill="#ff0000">10</text>
<text x="1831.55" y="478.6" font-size="14" fill="#ff0000">2</text>
<line x1="1244.3" y1="822" x2="1244.3" y2="817.1" stroke="#000" stroke-width="1.4"/>
<line x1="1318.74" y1="822" x2="1318.74" y2="817.1" stroke="#000" stroke-width="1.4"/>
<line x1="1393.18" y1="822" x2="1393.18" y2="817.1" stroke="#000" stroke-width="1.4"/>
<line x1="1467.62" y1="822" x2="1467.62" y2="817.1" stroke="#000" stroke-width="1.4"/>
<line x1="1542.06" y1="822" x2="1542.06" y2="817.1" stroke="#000" stroke-width="1.4"/>
<line x1="1616.5" y1="822" x2="1616.5" y2="817.1" stroke="#000" stroke-width="1.4"/>
<line x1="1690.94" y1="822" x2="1690.94" y2="817.1" stroke="#000" stroke-width="1.4"/>
<line x1="1765.38" y1="822" x2="1765.38" y2="817.1" stroke="#000" stroke-width="1.4"/>
<line x1="1205" y1="477" x2="1205" y2="823" stroke="#000" stroke-width="2"/>
<line x1="1800" y1="477" x2="1800" y2="823" stroke="#ff0000" stroke-width="2"/>
<line x1="1204" y1="478" x2="1801" y2="478" stroke="#000" stroke-width="2"/>
<line x1="1204" y1="822" x2="1801" y2="822" stroke="#000" stroke-width="2"/>
<text transform="translate(1105.1,673.52) rotate(-90)" font-size="24">Dst</text>
<text transform="translate(1133.1,682.12) rotate(-90)" font-size="24">( nT )</text>
<text transform="translate(1875.1,724.84) rotate(-90)" font-size="24" fill="#ff0000">SW Pressure</text>
<text transform="translate(1904.8,688.24) rotate(-90)" font-size="24" fill="#ff0000">( nPa )</text>
<clipPath id="r3"><rect x="1205" y="845" width="595" height="172"/></clipPath>
<line x1="1205" y1="931" x2="1799" y2="931" stroke="#000" stroke-width="2" stroke-dasharray="2.08,3.43"/>
<g clip-path="url(#r3)">
<path d="M1205.6,1012.68 1206.2,992.65 1206.8,1011.74 1207.4,997.53 1208,1011.99 1208.6,998.25 1209.2,1012.09 1209.8,1000.98 1210.4,1012.33 1211,999.46 1211.6,1011.74 1212.2,987.33 1212.8,1011.76 1213.4,994.55 1214,1011.61 1214.6,1000.99 1215.2,1012.53 1215.8,997.38 1216.4,1011.64 1217,994.78 1217.6,1012.27 1218.2,1000.95 1218.8,1012.34 1219.4,994.26 1220,1012.4 1220.6,996.11 1221.2,1012.64 1221.8,995.04 1222.4,1012.53 1223,1000.26 1223.6,1011.63 1224.2,994.14 1224.8,1012.3 1225.4,999.23 1226,1011.54 1226.6,997.11 1227.2,1012.92 1227.8,1000.67 1228.4,1011.94 1229,997.7 1229.6,1011.94 1230.2,998.87 1230.8,1011.84 1231.4,992.12 1232,1012.82 1232.6,997.81 1233.2,1011.59 1233.8,1000.97 1234.4,1012.4 1235,999.47 1235.6,1012.58 1236.2,995.55 1236.8,1012.05 1237.4,995.42 1238,1012.75 1238.6,993.02 1239.2,1011.73 1239.8,990.25 1240.4,1012.25 1241,994.81 1241.6,1012.93 1242.2,995.33 1242.8,1012.18 1243.4,999.2 1244,1012.75 1244.6,998.22 1245.2,1012.37 1245.8,1000.52 1246.4,1011.76 1247,1000.49 1247.6,1012.59 1248.2,996.76 1248.8,1011.78 1249.4,997.97 1250,1012.94 1250.6,997.71 1251.2,1012.5 1251.8,999.19 1252.4,1012.45 1253,994.6 1253.6,1012.36 1254.2,996.17 1254.8,1012.06 1255.4,998.83 1256,1012.86 1256.6,993.06 1257.2,1012.13 1257.8,998.84 1258.4,1012.19 1259,994.68 1259.6,1012.18 1260.2,993.83 1260.8,1012.04 1261.4,992.93 1262,1012.62 1262.6,1000.31 1263.2,1011.57 1263.8,1000.87 1264.4,1012.18 1265,997.94 1265.6,1012.6 1266.2,1001 1266.8,1012.79 1267.4,1000.02 1268,1012.18 1268.6,993.03 1269.2,1011.85 1269.8,994.38 1270.4,1012.04 1271,994.32 1271.6,1012.24 1272.2,995.75 1272.8,1012.25 1273.4,994.54 1274,1013 1274.6,1000.8 1275.2,1012.6 1275.8,998 1276.4,1011.7 1277,994.14 1277.6,1012.13 1278.2,998.69 1278.8,1011.85 1279.4,997.72 1280,1011.61 1280.6,999.78 1281.2,1011.53 1281.8,998.11 1282.4,1012.92 1283,995.85 1283.6,1011.58 1284.2,1000.58 1284.8,1012.21 1285.4,996.29 1286,1012.4 1286.6,1000.53 1287.2,1012.44 1287.8,998.86 1288.4,1012.52 1289,997.01 1289.6,1012.56 1290.2,993.61 1290.8,1012.21 1291.4,997.06 1292,1012.3 1292.6,989.41 1293.2,1011.96 1293.8,999.16 1294.4,1011.97 1295,996.62 1295.6,1012.05 1296.2,996.5 1296.8,1012.29 1297.4,1000.58 1298,1012.72 1298.6,999.73 1299.2,1011.63 1299.8,996.93 1300.4,1011.81 1301,995.14 1301.6,1011.78 1302.2,1000.34 1302.8,1012.65 1303.4,997.33 1304,1012.34 1304.6,998.58 1305.2,1012.94 1305.8,1000.84 1306.4,1012.33 1307,997.66 1307.6,1012.4 1308.2,998.81 1308.8,1012.78 1309.4,993.33 1310,1011.61 1310.6,992.56 1311.2,1011.8 1311.8,999.93 1312.4,1012.64 1313,998.75 1313.6,1012.75 1314.2,994.65 1314.8,1011.66 1315.4,997.36 1316,1011.9 1316.6,999.15 1317.2,1012.14 1317.8,992.34 1318.4,1012.86 1319,996.63 1319.6,1012.06 1320.2,999.65 1320.8,1012.09 1321.4,995.55 1322,1011.53 1322.6,998.14 1323.2,1011.65 1323.8,1000.57 1324.4,1012.24 1325,999.66 1325.6,1012.72 1326.2,992.66 1326.8,1012.7 1327.4,997.76 1328,1012.95 1328.6,997.56 1329.2,1012.57 1329.8,997.66 1330.4,1011.53 1331,993.45 1331.6,1012.91 1332.2,998.8 1332.8,1012.17 1333.4,996.82 1334,1011.93 1334.6,998.73 1335.2,1011.75 1335.8,1001 1336.4,1012.72 1337,994.01 1337.6,1012.08 1338.2,994.42 1338.8,1012.7 1339.4,996.22 1340,1012.54 1340.6,999.76 1341.2,1012.42 1341.8,1000.88 1342.4,1012.36 1343,987.78 1343.6,1012.62 1344.2,999.97 1344.8,1012.82 1345.4,1000.61 1346,1011.9 1346.6,994.93 1347.2,1011.56 1347.8,999.95 1348.4,1012.1 1349,992.1 1349.6,1011.55 1350.2,998.17 1350.8,1011.84 1351.4,996.21 1352,1012.5 1352.6,993.96 1353.2,1012.18 1353.8,995.19 1354.4,1012.8 1355,998.79 1355.6,1012.09 1356.2,998.5 1356.8,1011.65 1357.4,997.01 1358,1011.53 1358.6,994.25 1359.2,1011.63 1359.8,993.12 1360.4,1011.71 1361,997.75 1361.6,1012.38 1362.2,996.44 1362.8,1012.47 1363.4,1000.26 1364,1012.42 1364.6,991.39 1365.2,1012.82 1365.8,997.14 1366.4,1011.53 1367,995 1367.6,1011.62 1368.2,992.03 1368.8,1012.01 1369.4,997.67 1370,1012.59 1370.6,1000.55 1371.2,1012.59 1371.8,997.47 1372.4,1012.84 1373,996.56 1373.6,1011.82 1374.2,999.79 1374.8,1011.77 1375.4,993.85 1376,1011.61 1376.6,999.47 1377.2,1012.18 1377.8,992.73 1378.4,1011.78 1379,995.3 1379.6,1012.42 1380.2,996.93 1380.8,1012.78 1381.4,996.39 1382,1011.56 1382.6,989.78 1383.2,1012.1 1383.8,992.79 1384.4,1011.71 1385,990.36 1385.6,1011.76 1386.2,999.82 1386.8,1011.65 1387.4,992.06 1388,1012.97 1388.6,998.12 1389.2,1011.95 1389.8,994.41 1390.4,1012.5 1391,995.39 1391.6,1012.65 1392.2,1000.21 1392.8,1011.77 1393.4,1000.11 1394,1012.14 1394.6,995.36 1395.2,1012.29 1395.8,999.28 1396.4,1012.63 1397,999.92 1397.6,1012.89 1398.2,992.86 1398.8,1012.38 1399.4,1000.15 1400,1011.99 1400.6,997.6 1401.2,1012.54 1401.8,994.24 1402.4,1012.3 1403,993.31 1403.6,1012.32 1404.2,999.19 1404.8,1012.17 1405.4,996.13 1406,1012.55 1406.6,997.66 1407.2,1011.88 1407.8,993.04 1408.4,1012.84 1409,1000.58 1409.6,1011.82 1410.2,996.32 1410.8,1012.78 1411.4,995.28 1412,1011.96 1412.6,994.47 1413.2,1011.53 1413.8,991.01 1414.4,1012.75 1415,999.28 1415.6,1012.62 1416.2,992.66 1416.8,1012.53 1417.4,999.91 1418,1011.69 1418.6,992.57 1419.2,1012.35 1419.8,995.94 1420.4,1012.5 1421,998.17 1421.6,1012.07 1422.2,998.8 1422.8,1011.56 1423.4,997.86 1424,1012.83 1424.6,998.62 1425.2,1011.75 1425.8,992.98 1426.4,1012.56 1427,997.11 1427.6,1011.61 1428.2,994.82 1428.8,1011.94 1429.4,1000.41 1430,1011.96 1430.6,1000.14 1431.2,1011.92 1431.8,996.29 1432.4,1012.96 1433,1000.8 1433.6,1012.72 1434.2,993.81 1434.8,1012.74 1435.4,990.64 1436,1012.72 1436.6,996.7 1437.2,1012.82 1437.8,993.54 1438.4,1012.62 1439,992.53 1439.6,1012.23 1440.2,993.67 1440.8,1012.63 1441.4,1000.55 1442,1012.56 1442.6,992.47 1443.2,1012.47 1443.8,998.37 1444.4,1012.82 1445,994.83 1445.6,1011.56 1446.2,996.6 1446.8,1012.25 1447.4,1000.6 1448,1012.69 1448.6,993.76 1449.2,1011.71 1449.8,992.84 1450.4,1011.55 1451,994.04 1451.6,1011.94 1452.2,996.05 1452.8,1011.97 1453.4,1000.96 1454,1012.24 1454.6,998.18 1455.2,1012.85 1455.8,992.04 1456.4,1012.53 1457,997.96 1457.6,1012.54 1458.2,1000.67 1458.8,1011.87 1459.4,999.55 1460,1011.82 1460.6,1000.66 1461.2,1011.61 1461.8,997.83 1462.4,1012.9 1463,993.57 1463.6,1012.35 1464.2,1000.04 1464.8,1011.79 1465.4,988.18 1466,1012.12 1466.6,995.36 1467.2,1011.6 1467.8,1000.36 1468.4,1012.18 1469,994.83 1469.6,1012.99 1470.2,994.2 1470.8,1011.57 1471.4,995.88 1472,1011.54 1472.6,999.64 1473.2,1012.43 1473.8,1000.55 1474.4,1012.24 1475,994.64 1475.6,1012.39 1476.2,993.79 1476.8,1012.52 1477.4,995.86 1478,1012.54 1478.6,991.63 1479.2,1011.58 1479.8,995.11 1480.4,1012.51 1481,992.14 1481.6,1012.38 1482.2,994.41 1482.8,1012.35 1483.4,994.98 1484,1011.54 1484.6,997.85 1485.2,1012.26 1485.8,996.41 1486.4,1012.77 1487,999.31 1487.6,1012.05 1488.2,1000.47 1488.8,1012.92 1489.4,992.78 1490,1012.35 1490.6,998.16 1491.2,1012.14 1491.8,1000.95 1492.4,1012.33 1493,996.55 1493.6,1012.31 1494.2,1000.3 1494.8,1011.68 1495.4,994.54 1496,1012.38 1496.6,993.79 1497.2,1012.52 1497.8,993.47 1498.4,1011.67 1499,993.13 1499.6,1012.26 1500.2,996.64 1500.8,1012.47 1501.4,993.88 1502,1012.26 1502.6,994.28 1503.2,1012.57 1503.8,1000.69 1504.4,1012.13 1505,997.53 1505.6,1011.89 1506.2,997.47 1506.8,1012.88 1507.4,998.54 1508,1011.68 1508.6,999.93 1509.2,1011.54 1509.8,1000.77 1510.4,1012.52 1511,997.54 1511.6,1012.16 1512.2,1000.7 1512.8,1011.56 1513.4,1000.78 1514,1011.55 1514.6,1000.19 1515.2,1012.04 1515.8,992.02 1516.4,1011.62 1517,996.54 1517.6,1012.3 1518.2,999.11 1518.8,1012.14 1519.4,994.14 1520,1011.78 1520.6,1000.3 1521.2,1012.48 1521.8,1000.4 1522.4,1012.34 1523,993.86 1523.6,1012.19 1524.2,992.97 1524.8,1011.95 1525.4,997.24 1526,1012.62 1526.6,999.42 1527.2,1011.63 1527.8,992.53 1528.4,1011.64 1529,998.97 1529.6,1011.51 1530.2,999.56 1530.8,1012.83 1531.4,999.19 1532,1012.71 1532.6,996.18 1533.2,1011.83 1533.8,993.37 1534.4,1011.54 1535,1000.54 1535.6,1012.05 1536.2,999.46 1536.8,1011.78 1537.4,992.24 1538,1011.54 1538.6,996.67 1539.2,1011.56 1539.8,995.91 1540.4,1012.46 1541,1000.59 1541.6,1011.98 1542.2,995.45 1542.8,1012.22 1543.4,1000.69 1544,1012.48 1544.6,997.87 1545.2,1011.96 1545.8,995.71 1546.4,1011.81 1547,998.54 1547.6,1011.63 1548.2,993.89 1548.8,1012.73 1549.4,993.48 1550,1011.7 1550.6,993.5 1551.2,1012.33 1551.8,997.97 1552.4,1012.39 1553,998.84 1553.6,1011.85 1554.2,1000.04 1554.8,1012.21 1555.4,995.53 1556,1012.26 1556.6,1000.16 1557.2,1011.86 1557.8,997.76 1558.4,1012.68 1559,995.53 1559.6,1011.95 1560.2,998.2 1560.8,1012.76 1561.4,1000.26 1562,1012.39 1562.6,988.23 1563.2,1012.15 1563.8,990.31 1564.4,1012.2 1565,994.13 1565.6,1012.33 1566.2,995.51 1566.8,1012.18 1567.4,997.78 1568,1012.49 1568.6,1000.12 1569.2,1011.68 1569.8,994.76 1570.4,1012.62 1571,993.03 1571.6,1011.53 1572.2,996.66 1572.8,1011.86 1573.4,998.43 1574,1011.86 1574.6,995.23 1575.2,1012.73 1575.8,1000.29 1576.4,1012.27 1577,999.96 1577.6,1011.75 1578.2,999.8 1578.8,1012.33 1579.4,990.3 1580,1012.58 1580.6,999.74 1581.2,1012.25 1581.8,1000.82 1582.4,1011.8 1583,998.86 1583.6,1011.6 1584.2,995.28 1584.8,1012.46 1585.4,994.32 1586,1012.12 1586.6,997.63 1587.2,1012.34 1587.8,1000.68 1588.4,1012.71 1589,994.23 1589.6,1011.51 1590.2,994.06 1590.8,1011.67 1591.4,998.97 1592,1012.72 1592.6,999.32 1593.2,1011.99 1593.8,999.05 1594.4,1012.69 1595,995.63 1595.6,1011.73 1596.2,987.28 1596.8,1012.05 1597.4,989.13 1598,1011.81 1598.6,999.77 1599.2,1012.65 1599.8,995.55 1600.4,1011.69 1601,1000.23 1601.6,1011.68 1602.2,998.09 1602.8,1012.47 1603.4,992.34 1604,1012.98 1604.6,997.91 1605.2,1012.49 1605.8,994.11 1606.4,1011.72 1607,994.62 1607.6,1012.43 1608.2,1000.61 1608.8,1012.52 1609.4,1000.55 1610,1012 1610.6,993.14 1611.2,1012.82 1611.8,994.15 1612.4,1011.57 1613,994.96 1613.6,1011.94 1614.2,995.13 1614.8,1012.72 1615.4,993.78 1616,1012.56 1616.6,996.92 1617.2,1011.97 1617.8,1000.89 1618.4,1011.95 1619,998.4 1619.6,1012.13 1620.2,1000.18 1620.8,1012.65 1621.4,999.38 1622,1011.73 1622.6,997.13 1623.2,1011.68 1623.8,997.7 1624.4,1012.5 1625,992.37 1625.6,1011.51 1626.2,997.71 1626.8,1012.52 1627.4,998.31 1628,1011.75 1628.6,993.86 1629.2,1011.69 1629.8,995.32 1630.4,1012.7 1631,988.36 1631.6,1012.19 1632.2,1000.78 1632.8,1011.99 1633.4,1000.84 1634,1012.06 1634.6,997.32 1635.2,1012.8 1635.8,992.2 1636.4,1011.93 1637,995.84 1637.6,1011.71 1638.2,999.74 1638.8,1011.54 1639.4,1000.12 1640,1011.89 1640.6,998.56 1641.2,1012.72 1641.8,994.03 1642.4,1011.68 1643,995.91 1643.6,1012.77 1644.2,998.7 1644.8,1011.59 1645.4,999.25 1646,1011.62 1646.6,993.51 1647.2,1012.74 1647.8,995.55 1648.4,1012.87 1649,999.27 1649.6,1011.91 1650.2,998.32 1650.8,1012.47 1651.4,999.51 1652,1012.67 1652.6,994.89 1653.2,1012.35 1653.8,995.81 1654.4,1011.69 1655,1000.07 1655.6,1012.06 1656.2,997.35 1656.8,1011.88 1657.4,993.43 1658,1012.87 1658.6,994.74 1659.2,1012.54 1659.8,998.45 1660.4,1012.76 1661,998.04 1661.6,1011.65 1662.2,993.46 1662.8,1012.3 1663.4,998.17 1664,1012.71 1664.6,997.28 1665.2,1012.24 1665.8,994.04 1666.4,1012.63 1667,996.85 1667.6,1012.48 1668.2,999.86 1668.8,1012.97 1669.4,992.74 1670,1012.85 1670.6,1000.32 1671.2,1012.64 1671.8,992.99 1672.4,1011.68 1673,999.85 1673.6,1012.86 1674.2,994.66 1674.8,1011.78 1675.4,999.53 1676,1011.71 1676.6,996.79 1677.2,1012.75 1677.8,992.06 1678.4,1012.09 1679,997.81 1679.6,1011.72 1680.2,1000.05 1680.8,1011.83 1681.4,998.74 1682,1012.5 1682.6,999.24 1683.2,1011.77 1683.8,986.17 1684.4,1012.79 1685,999.15 1685.6,1012.68 1686.2,999.92 1686.8,1011.61 1687.4,993.39 1688,1011.98 1688.6,998.27 1689.2,1011.69 1689.8,998.81 1690.4,1011.53 1691,993.28 1691.6,1012.16 1692.2,999.36 1692.8,1012.32 1693.4,999.92 1694,1012.11 1694.6,996 1695.2,1012.64 1695.8,999.84 1696.4,1012.36 1697,995.43 1697.6,1011.96 1698.2,995.06 1698.8,1012.37 1699.4,1000.98 1700,1012.43 1700.6,998.95 1701.2,1011.85 1701.8,998.85 1702.4,1012.91 1703,1000.06 1703.6,1011.65 1704.2,996.88 1704.8,1011.96 1705.4,998.62 1706,1012.55 1706.6,995.76 1707.2,1011.53 1707.8,996.91 1708.4,1011.62 1709,999.02 1709.6,1012.31 1710.2,1001 1710.8,1012.65 1711.4,994.35 1712,1011.89 1712.6,999.96 1713.2,1012.76 1713.8,1000.91 1714.4,1012.66 1715,999.24 1715.6,1012.71 1716.2,998.66 1716.8,1011.97 1717.4,995.19 1718,1011.81 1718.6,1000.12 1719.2,1012.72 1719.8,995.3 1720.4,1012.82 1721,1000.8 1721.6,1012.72 1722.2,1000.94 1722.8,1012.03 1723.4,1000.65 1724,1011.68 1724.6,993.66 1725.2,1012 1725.8,995.83" fill="none" stroke="#000" stroke-width="1.8" stroke-linejoin="round"/>
</g>
<line x1="1726" y1="1017" x2="1726" y2="846" stroke="#1f77b4" stroke-width="2" stroke-dasharray="2.08,3.43"/>
<line x1="1205" y1="1017" x2="1210.7" y2="1017" stroke="#000" stroke-width="1.4"/>
<text x="1153.86" y="1024.6" font-size="20">10</text>
<text x="1179.91" y="1017.6" font-size="14">−1</text>
<line x1="1205" y1="1004.06" x2="1209" y2="1004.06" stroke="#000" stroke-width="1.3"/>
<line x1="1205" y1="996.48" x2="1209" y2="996.48" stroke="#000" stroke-width="1.3"/>
<line x1="1205" y1="991.11" x2="1209" y2="991.11" stroke="#000" stroke-width="1.3"/>
<line x1="1205" y1="986.94" x2="1209" y2="986.94" stroke="#000" stroke-width="1.3"/>
<line x1="1205" y1="983.54" x2="1209" y2="983.54" stroke="#000" stroke-width="1.3"/>
<line x1="1205" y1="980.66" x2="1209" y2="980.66" stroke="#000" stroke-width="1.3"/>
<line x1="1205" y1="978.17" x2="1209" y2="978.17" stroke="#000" stroke-width="1.3"/>
<line x1="1205" y1="975.97" x2="1209" y2="975.97" stroke="#000" stroke-width="1.3"/>
<line x1="1205" y1="974" x2="1210.7" y2="974" stroke="#000" stroke-width="1.4"/>
<text x="1165.27" y="981.6" font-size="20">10</text>
<text x="1191.32" y="974.6" font-size="14">0</text>
<line x1="1205" y1="961.06" x2="1209" y2="961.06" stroke="#000" stroke-width="1.3"/>
<line x1="1205" y1="953.48" x2="1209" y2="953.48" stroke="#000" stroke-width="1.3"/>
<line x1="1205" y1="948.11" x2="1209" y2="948.11" stroke="#000" stroke-width="1.3"/>
<line x1="1205" y1="943.94" x2="1209" y2="943.94" stroke="#000" stroke-width="1.3"/>
<line x1="1205" y1="940.54" x2="1209" y2="940.54" stroke="#000" stroke-width="1.3"/>
<line x1="1205" y1="937.66" x2="1209" y2="937.66" stroke="#000" stroke-width="1.3"/>
<line x1="1205" y1="935.17" x2="1209" y2="935.17" stroke="#000" stroke-width="1.3"/>
<line x1="1205" y1="932.97" x2="1209" y2="932.97" stroke="#000" stroke-width="1.3"/>
<line x1="1205" y1="931" x2="1210.7" y2="931" stroke="#000" stroke-width="1.4"/>
<text x="1165.62" y="938.6" font-size="20">10</text>
<text x="1191.67" y="931.6" font-size="14">1</text>
<line x1="1205" y1="918.06" x2="1209" y2="918.06" stroke="#000" stroke-width="1.3"/>
<line x1="1205" y1="910.48" x2="1209" y2="910.48" stroke="#000" stroke-width="1.3"/>
<line x1="1205" y1="905.11" x2="1209" y2="905.11" stroke="#000" stroke-width="1.3"/>
<line x1="1205" y1="900.94" x2="1209" y2="900.94" stroke="#000" stroke-width="1.3"/>
<line x1="1205" y1="897.54" x2="1209" y2="897.54" stroke="#000" stroke-width="1.3"/>
<line x1="1205" y1="894.66" x2="1209" y2="894.66" stroke="#000" stroke-width="1.3"/>
<line x1="1205" y1="892.17" x2="1209" y2="892.17" stroke="#000" stroke-width="1.3"/>
<line x1="1205" y1="889.97" x2="1209" y2="889.97" stroke="#000" stroke-width="1.3"/>
<line x1="1205" y1="888" x2="1210.7" y2="888" stroke="#000" stroke-width="1.4"/>
<text x="1165.76" y="895.6" font-size="20">10</text>
<text x="1191.81" y="888.6" font-size="14">2</text>
<line x1="1205" y1="875.06" x2="1209" y2="875.06" stroke="#000" stroke-width="1.3"/>
<line x1="1205" y1="867.48" x2="1209" y2="867.48" stroke="#000" stroke-width="1.3"/>
<line x1="1205" y1="862.11" x2="1209" y2="862.11" stroke="#000" stroke-width="1.3"/>
<line x1="1205" y1="857.94" x2="1209" y2="857.94" stroke="#000" stroke-width="1.3"/>
<line x1="1205" y1="854.54" x2="1209" y2="854.54" stroke="#000" stroke-width="1.3"/>
<line x1="1205" y1="851.66" x2="1209" y2="851.66" stroke="#000" stroke-width="1.3"/>
<line x1="1205" y1="849.17" x2="1209" y2="849.17" stroke="#000" stroke-width="1.3"/>
<line x1="1205" y1="846.97" x2="1209" y2="846.97" stroke="#000" stroke-width="1.3"/>
<line x1="1205" y1="845" x2="1210.7" y2="845" stroke="#000" stroke-width="1.4"/>
<text x="1165.48" y="852.6" font-size="20">10</text>
<text x="1191.53" y="845.6" font-size="14">3</text>
<line x1="1800" y1="1017" x2="1795.1" y2="1017" stroke="#000" stroke-width="1.4"/>
<line x1="1800" y1="1004.06" x2="1797" y2="1004.06" stroke="#000" stroke-width="1.3"/>
<line x1="1800" y1="996.48" x2="1797" y2="996.48" stroke="#000" stroke-width="1.3"/>
<line x1="1800" y1="991.11" x2="1797" y2="991.11" stroke="#000" stroke-width="1.3"/>
<line x1="1800" y1="986.94" x2="1797" y2="986.94" stroke="#000" stroke-width="1.3"/>
<line x1="1800" y1="983.54" x2="1797" y2="983.54" stroke="#000" stroke-width="1.3"/>
<line x1="1800" y1="980.66" x2="1797" y2="980.66" stroke="#000" stroke-width="1.3"/>
<line x1="1800" y1="978.17" x2="1797" y2="978.17" stroke="#000" stroke-width="1.3"/>
<line x1="1800" y1="975.97" x2="1797" y2="975.97" stroke="#000" stroke-width="1.3"/>
<line x1="1800" y1="974" x2="1795.1" y2="974" stroke="#000" stroke-width="1.4"/>
<line x1="1800" y1="961.06" x2="1797" y2="961.06" stroke="#000" stroke-width="1.3"/>
<line x1="1800" y1="953.48" x2="1797" y2="953.48" stroke="#000" stroke-width="1.3"/>
<line x1="1800" y1="948.11" x2="1797" y2="948.11" stroke="#000" stroke-width="1.3"/>
<line x1="1800" y1="943.94" x2="1797" y2="943.94" stroke="#000" stroke-width="1.3"/>
<line x1="1800" y1="940.54" x2="1797" y2="940.54" stroke="#000" stroke-width="1.3"/>
<line x1="1800" y1="937.66" x2="1797" y2="937.66" stroke="#000" stroke-width="1.3"/>
<line x1="1800" y1="935.17" x2="1797" y2="935.17" stroke="#000" stroke-width="1.3"/>
<line x1="1800" y1="932.97" x2="1797" y2="932.97" stroke="#000" stroke-width="1.3"/>
<line x1="1800" y1="931" x2="1795.1" y2="931" stroke="#000" stroke-width="1.4"/>
<line x1="1800" y1="918.06" x2="1797" y2="918.06" stroke="#000" stroke-width="1.3"/>
<line x1="1800" y1="910.48" x2="1797" y2="910.48" stroke="#000" stroke-width="1.3"/>
<line x1="1800" y1="905.11" x2="1797" y2="905.11" stroke="#000" stroke-width="1.3"/>
<line x1="1800" y1="900.94" x2="1797" y2="900.94" stroke="#000" stroke-width="1.3"/>
<line x1="1800" y1="897.54" x2="1797" y2="897.54" stroke="#000" stroke-width="1.3"/>
<line x1="1800" y1="894.66" x2="1797" y2="894.66" stroke="#000" stroke-width="1.3"/>
<line x1="1800" y1="892.17" x2="1797" y2="892.17" stroke="#000" stroke-width="1.3"/>
<line x1="1800" y1="889.97" x2="1797" y2="889.97" stroke="#000" stroke-width="1.3"/>
<line x1="1800" y1="888" x2="1795.1" y2="888" stroke="#000" stroke-width="1.4"/>
<line x1="1800" y1="875.06" x2="1797" y2="875.06" stroke="#000" stroke-width="1.3"/>
<line x1="1800" y1="867.48" x2="1797" y2="867.48" stroke="#000" stroke-width="1.3"/>
<line x1="1800" y1="862.11" x2="1797" y2="862.11" stroke="#000" stroke-width="1.3"/>
<line x1="1800" y1="857.94" x2="1797" y2="857.94" stroke="#000" stroke-width="1.3"/>
<line x1="1800" y1="854.54" x2="1797" y2="854.54" stroke="#000" stroke-width="1.3"/>
<line x1="1800" y1="851.66" x2="1797" y2="851.66" stroke="#000" stroke-width="1.3"/>
<line x1="1800" y1="849.17" x2="1797" y2="849.17" stroke="#000" stroke-width="1.3"/>
<line x1="1800" y1="846.97" x2="1797" y2="846.97" stroke="#000" stroke-width="1.3"/>
<line x1="1800" y1="845" x2="1795.1" y2="845" stroke="#000" stroke-width="1.4"/>
<line x1="1244.3" y1="1017" x2="1244.3" y2="1012.1" stroke="#000" stroke-width="1.4"/>
<text x="1244.3" y="1037.2" font-size="20" text-anchor="middle">17</text>
<line x1="1318.74" y1="1017" x2="1318.74" y2="1012.1" stroke="#000" stroke-width="1.4"/>
<text x="1318.74" y="1037.2" font-size="20" text-anchor="middle">18</text>
<line x1="1393.18" y1="1017" x2="1393.18" y2="1012.1" stroke="#000" stroke-width="1.4"/>
<text x="1393.18" y="1037.2" font-size="20" text-anchor="middle">19</text>
<line x1="1467.62" y1="1017" x2="1467.62" y2="1012.1" stroke="#000" stroke-width="1.4"/>
<text x="1467.62" y="1037.2" font-size="20" text-anchor="middle">20</text>
<line x1="1542.06" y1="1017" x2="1542.06" y2="1012.1" stroke="#000" stroke-width="1.4"/>
<text x="1542.06" y="1037.2" font-size="20" text-anchor="middle">21</text>
<line x1="1616.5" y1="1017" x2="1616.5" y2="1012.1" stroke="#000" stroke-width="1.4"/>
<text x="1616.5" y="1037.2" font-size="20" text-anchor="middle">22</text>
<line x1="1690.94" y1="1017" x2="1690.94" y2="1012.1" stroke="#000" stroke-width="1.4"/>
<text x="1690.94" y="1037.2" font-size="20" text-anchor="middle">23</text>
<line x1="1765.38" y1="1017" x2="1765.38" y2="1012.1" stroke="#000" stroke-width="1.4"/>
<text x="1765.38" y="1037.2" font-size="20" text-anchor="middle">24</text>
<line x1="1205" y1="844" x2="1205" y2="1018" stroke="#000" stroke-width="2"/>
<line x1="1800" y1="844" x2="1800" y2="1018" stroke="#000" stroke-width="2"/>
<line x1="1204" y1="845" x2="1801" y2="845" stroke="#000" stroke-width="2"/>
<line x1="1204" y1="1017" x2="1801" y2="1017" stroke="#000" stroke-width="2"/>
<text x="1502.5" y="1066.1" font-size="24" text-anchor="middle">August 2019 (UT)</text>
<text transform="translate(1106.3,1058.74) rotate(-90)" font-size="24">&gt;10 MeV Proton Flux</text>
<g transform="translate(1139.5,1017.99) rotate(-90)">
<text x="-2.04" y="0" font-size="24">( cm</text>
<text x="51.79" y="-9.9" font-size="16.8">2</text>
<text x="67.05" y="0" font-size="24">s</text>
<text x="79.21" y="-9.9" font-size="16.8">−1</text>
<text x="109.05" y="0" font-size="24">sr</text>
<text x="131.11" y="-9.9" font-size="16.8">−1</text>
<text x="165.65" y="0" font-size="24">)</text>
</g>
</svg>
</body></html>
